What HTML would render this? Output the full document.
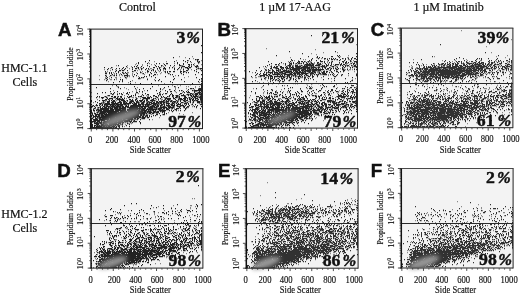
<!DOCTYPE html>
<html><head><meta charset="utf-8"><title>Figure</title>
<style>html,body{margin:0;padding:0;background:#fff}body{width:520px;height:294px;overflow:hidden}svg{display:block;font-family:"Liberation Serif", serif;fill:#111;opacity:0.999}</style></head><body>
<svg width="520" height="294" viewBox="0 0 520 294">
<defs><filter id="soft" x="-2%" y="-2%" width="104%" height="104%"><feGaussianBlur stdDeviation="0.5"/></filter><filter id="coreblur" x="-30%" y="-80%" width="160%" height="260%"><feGaussianBlur stdDeviation="1.9"/></filter></defs>
<rect width="520" height="294" fill="#fff"/>
<text transform="translate(137.4 11) scale(0.94 1)" font-size="12.8" stroke="#111" stroke-width="0.2" text-anchor="middle">Control</text>
<text transform="translate(295 11) scale(0.94 1)" font-size="12.8" stroke="#111" stroke-width="0.2" text-anchor="middle">1 µM 17-AAG</text>
<text transform="translate(448.6 11) scale(0.94 1)" font-size="12.8" stroke="#111" stroke-width="0.2" text-anchor="middle">1 µM Imatinib</text>
<text transform="translate(24.4 71.7) scale(0.97 1)" font-size="12.4" stroke="#111" stroke-width="0.2" text-anchor="middle">HMC-1.1</text>
<text transform="translate(24.8 85.7) scale(0.97 1)" font-size="12.4" stroke="#111" stroke-width="0.2" text-anchor="middle">Cells</text>
<text transform="translate(24.4 217.5) scale(0.97 1)" font-size="12.4" stroke="#111" stroke-width="0.2" text-anchor="middle">HMC-1.2</text>
<text transform="translate(24.8 231.5) scale(0.97 1)" font-size="12.4" stroke="#111" stroke-width="0.2" text-anchor="middle">Cells</text>
<g>
<rect x="90" y="29.1" width="112.5" height="99.5" fill="#f3f3f3"/>
<g filter="url(#soft)" fill="none" stroke="#000" stroke-width="1.25"><path d="M201 45.5h1M201 52.5h1M173 57.5h1M189 58.5h1M195 59.5h1M197 59.5h2M149 60.5h1M183 60.5h1M187 60.5h1M197 60.5h1M145 61.5h1M174 61.5h1M185 61.5h1M190 61.5h1M197 61.5h1M199 61.5h1M138 62.5h1M177 62.5h1M187 62.5h1M198 62.5h1M138 63.5h1M147 63.5h1M156 63.5h1M159 63.5h1M166 63.5h2M177 63.5h1M183 63.5h1M164 64.5h1M179 64.5h1M183 64.5h1M188 64.5h2M191 64.5h1M193 64.5h1M118 65.5h1M137 65.5h1M147 65.5h1M155 65.5h1M161 65.5h1M165 65.5h1M170 65.5h1M174 65.5h1M179 65.5h2M189 65.5h1M197 65.5h1M126 66.5h1M134 66.5h1M136 66.5h1M141 66.5h1M149 66.5h1M156 66.5h1M158 66.5h1M182 66.5h3M188 66.5h1M191 66.5h1M195 66.5h3M104 67.5h1M111 67.5h1M123 67.5h1M132 67.5h1M138 67.5h1M143 67.5h1M153 67.5h2M159 67.5h1M164 67.5h1M169 67.5h1M172 67.5h1M179 67.5h1M181 67.5h1M185 67.5h3M189 67.5h2M196 67.5h1M108 68.5h1M116 68.5h1M119 68.5h1M122 68.5h1M125 68.5h1M135 68.5h2M138 68.5h1M141 68.5h1M146 68.5h1M148 68.5h1M157 68.5h1M159 68.5h1M163 68.5h3M174 68.5h1M178 68.5h1M187 68.5h2M198 68.5h1M200 68.5h2M107 69.5h1M112 69.5h1M124 69.5h1M132 69.5h1M141 69.5h1M145 69.5h1M153 69.5h1M160 69.5h1M165 69.5h1M174 69.5h1M177 69.5h1M183 69.5h1M188 69.5h1M196 69.5h1M116 70.5h1M119 70.5h2M122 70.5h2M127 70.5h1M134 70.5h2M147 70.5h1M151 70.5h1M153 70.5h1M160 70.5h1M186 70.5h2M194 70.5h1M201 70.5h1M105 71.5h1M115 71.5h1M118 71.5h1M132 71.5h1M147 71.5h2M155 71.5h1M165 71.5h1M167 71.5h1M169 71.5h2M173 71.5h2M180 71.5h2M183 71.5h2M196 71.5h1M109 72.5h1M111 72.5h1M118 72.5h1M122 72.5h1M125 72.5h1M140 72.5h1M150 72.5h1M156 72.5h1M165 72.5h1M167 72.5h1M180 72.5h1M183 72.5h1M186 72.5h1M188 72.5h1M198 72.5h1M105 73.5h2M109 73.5h1M111 73.5h1M116 73.5h1M123 73.5h1M126 73.5h1M137 73.5h1M143 73.5h1M151 73.5h1M168 73.5h1M181 73.5h1M112 74.5h1M121 74.5h1M127 74.5h1M134 74.5h1M149 74.5h1M154 74.5h2M170 74.5h1M172 74.5h1M183 74.5h1M195 74.5h1M201 74.5h1M105 75.5h1M110 75.5h1M114 75.5h1M116 75.5h1M124 75.5h4M136 75.5h1M149 75.5h1M153 75.5h1M178 75.5h1M106 76.5h1M127 76.5h1M133 76.5h1M144 76.5h1M146 76.5h1M151 76.5h1M165 76.5h1M173 76.5h1M107 77.5h1M111 77.5h1M125 77.5h1M139 77.5h1M141 77.5h1M143 77.5h1M155 77.5h1M196 77.5h1M106 78.5h1M138 78.5h2M174 78.5h1M201 78.5h1M107 79.5h1M114 79.5h1M120 79.5h1M122 79.5h1M147 79.5h1M159 79.5h1M173 79.5h1M181 79.5h1M199 79.5h1M106 80.5h1M122 80.5h1M155 80.5h1M158 80.5h1M119 81.5h1M122 81.5h1M130 81.5h1M161 81.5h1M170 81.5h1M184 81.5h1M198 81.5h1M201 81.5h1M113 82.5h1M172 82.5h1M130 83.5h1M140 83.5h1M151 83.5h1M192 83.5h1M201 83.5h1M177 84.5h1M190 84.5h1M116 85.5h1M201 85.5h1M134 86.5h1M152 86.5h1M168 86.5h1M174 86.5h1M201 86.5h1M96 87.5h1M118 87.5h1M164 87.5h1M178 87.5h1M201 87.5h1M110 88.5h1M120 88.5h1M135 88.5h1M143 88.5h1M150 88.5h1M160 88.5h1M190 88.5h2M193 88.5h1M199 88.5h3M139 89.5h1M160 89.5h1M169 89.5h1M188 89.5h1M198 89.5h4M147 90.5h1M156 90.5h1M165 90.5h1M174 90.5h1M179 90.5h1M181 90.5h1M192 90.5h1M194 90.5h8M110 91.5h1M117 91.5h1M139 91.5h1M142 91.5h1M160 91.5h1M167 91.5h1M170 91.5h2M183 91.5h1M186 91.5h1M188 91.5h1M194 91.5h1M199 91.5h1M201 91.5h1M102 92.5h1M105 92.5h1M114 92.5h1M127 92.5h1M129 92.5h1M136 92.5h2M159 92.5h1M184 92.5h1M187 92.5h3M194 92.5h1M198 92.5h3M97 93.5h1M111 93.5h1M113 93.5h1M119 93.5h1M121 93.5h1M126 93.5h2M145 93.5h1M157 93.5h1M165 93.5h2M171 93.5h1M180 93.5h2M190 93.5h2M195 93.5h3M199 93.5h1M201 93.5h1M112 94.5h1M117 94.5h1M122 94.5h1M128 94.5h1M135 94.5h1M142 94.5h1M147 94.5h2M159 94.5h2M162 94.5h1M170 94.5h1M172 94.5h1M179 94.5h1M183 94.5h1M187 94.5h2M190 94.5h1M192 94.5h1M195 94.5h3M199 94.5h3M108 95.5h2M131 95.5h1M133 95.5h1M135 95.5h1M143 95.5h1M153 95.5h2M158 95.5h1M169 95.5h1M172 95.5h2M176 95.5h2M181 95.5h4M188 95.5h1M190 95.5h2M193 95.5h1M195 95.5h2M201 95.5h1M97 96.5h1M99 96.5h1M105 96.5h1M111 96.5h2M114 96.5h2M118 96.5h1M120 96.5h2M127 96.5h1M129 96.5h3M138 96.5h1M140 96.5h2M150 96.5h1M155 96.5h2M161 96.5h1M163 96.5h1M167 96.5h1M169 96.5h1M172 96.5h1M176 96.5h2M179 96.5h1M184 96.5h2M191 96.5h1M193 96.5h5M200 96.5h2M96 97.5h1M101 97.5h3M106 97.5h1M114 97.5h2M117 97.5h1M121 97.5h1M128 97.5h2M142 97.5h4M147 97.5h3M151 97.5h1M157 97.5h1M161 97.5h1M164 97.5h1M166 97.5h1M173 97.5h1M175 97.5h2M179 97.5h1M184 97.5h3M189 97.5h1M192 97.5h1M194 97.5h2M199 97.5h3M102 98.5h1M107 98.5h1M109 98.5h4M116 98.5h2M119 98.5h1M122 98.5h1M124 98.5h1M136 98.5h1M143 98.5h7M153 98.5h1M155 98.5h1M160 98.5h1M165 98.5h6M173 98.5h2M179 98.5h3M183 98.5h3M187 98.5h1M189 98.5h1M191 98.5h1M193 98.5h1M195 98.5h3M200 98.5h2M105 99.5h2M108 99.5h1M112 99.5h1M117 99.5h7M129 99.5h2M132 99.5h1M135 99.5h2M142 99.5h1M146 99.5h2M152 99.5h2M158 99.5h1M165 99.5h1M167 99.5h3M175 99.5h1M178 99.5h1M180 99.5h3M184 99.5h2M189 99.5h2M192 99.5h2M195 99.5h1M198 99.5h1M200 99.5h2M91 100.5h1M99 100.5h1M102 100.5h3M109 100.5h1M111 100.5h1M113 100.5h2M119 100.5h1M121 100.5h4M127 100.5h1M131 100.5h2M135 100.5h1M137 100.5h1M139 100.5h4M144 100.5h1M146 100.5h2M150 100.5h5M163 100.5h2M166 100.5h1M168 100.5h1M171 100.5h1M176 100.5h1M180 100.5h1M183 100.5h2M186 100.5h2M190 100.5h1M192 100.5h1M194 100.5h1M196 100.5h2M201 100.5h1M91 101.5h1M95 101.5h1M103 101.5h1M107 101.5h3M112 101.5h3M119 101.5h2M123 101.5h3M130 101.5h4M136 101.5h2M140 101.5h2M143 101.5h2M148 101.5h1M152 101.5h1M156 101.5h2M159 101.5h5M166 101.5h3M170 101.5h2M173 101.5h3M177 101.5h1M180 101.5h1M184 101.5h2M190 101.5h1M193 101.5h1M197 101.5h3M201 101.5h1M97 102.5h1M103 102.5h1M107 102.5h2M111 102.5h3M115 102.5h1M118 102.5h4M123 102.5h2M126 102.5h1M129 102.5h3M134 102.5h1M136 102.5h3M142 102.5h2M147 102.5h1M149 102.5h3M153 102.5h2M156 102.5h3M160 102.5h2M163 102.5h2M166 102.5h1M172 102.5h1M174 102.5h1M177 102.5h1M181 102.5h2M187 102.5h1M190 102.5h1M193 102.5h1M197 102.5h3M201 102.5h1M99 103.5h3M105 103.5h5M112 103.5h6M120 103.5h2M123 103.5h8M132 103.5h1M134 103.5h3M138 103.5h1M141 103.5h3M146 103.5h2M149 103.5h1M151 103.5h6M158 103.5h1M160 103.5h2M163 103.5h1M166 103.5h4M172 103.5h2M176 103.5h1M178 103.5h1M180 103.5h1M184 103.5h3M188 103.5h1M91 104.5h1M96 104.5h1M100 104.5h1M102 104.5h1M104 104.5h11M116 104.5h7M124 104.5h2M128 104.5h1M133 104.5h4M138 104.5h3M142 104.5h2M145 104.5h6M153 104.5h3M157 104.5h1M161 104.5h2M164 104.5h1M168 104.5h1M171 104.5h2M174 104.5h1M177 104.5h4M186 104.5h1M188 104.5h1M192 104.5h1M195 104.5h1M200 104.5h2M93 105.5h1M96 105.5h2M99 105.5h1M102 105.5h1M104 105.5h1M106 105.5h2M110 105.5h1M112 105.5h2M115 105.5h1M117 105.5h2M120 105.5h3M126 105.5h1M128 105.5h1M131 105.5h10M143 105.5h1M145 105.5h1M147 105.5h2M152 105.5h2M155 105.5h1M157 105.5h2M160 105.5h2M164 105.5h1M166 105.5h4M171 105.5h4M176 105.5h2M180 105.5h4M185 105.5h1M189 105.5h1M197 105.5h1M91 106.5h2M94 106.5h1M100 106.5h1M103 106.5h2M106 106.5h4M111 106.5h4M116 106.5h5M122 106.5h2M125 106.5h4M130 106.5h19M150 106.5h5M156 106.5h3M160 106.5h1M163 106.5h2M168 106.5h3M173 106.5h1M177 106.5h4M183 106.5h2M187 106.5h2M194 106.5h1M196 106.5h1M201 106.5h1M91 107.5h1M95 107.5h1M98 107.5h1M100 107.5h1M102 107.5h1M104 107.5h3M108 107.5h1M110 107.5h1M112 107.5h1M114 107.5h4M119 107.5h2M122 107.5h4M127 107.5h11M139 107.5h1M141 107.5h2M144 107.5h2M148 107.5h5M154 107.5h3M160 107.5h7M168 107.5h6M179 107.5h1M184 107.5h1M186 107.5h1M196 107.5h1M94 108.5h1M100 108.5h9M110 108.5h3M114 108.5h4M119 108.5h7M129 108.5h12M142 108.5h4M147 108.5h1M149 108.5h4M156 108.5h1M158 108.5h4M163 108.5h2M166 108.5h2M169 108.5h1M172 108.5h1M176 108.5h3M180 108.5h1M185 108.5h1M200 108.5h1M93 109.5h1M97 109.5h2M100 109.5h9M110 109.5h4M115 109.5h6M122 109.5h4M127 109.5h11M139 109.5h1M141 109.5h4M146 109.5h11M158 109.5h3M162 109.5h1M166 109.5h3M175 109.5h2M185 109.5h1M91 110.5h1M93 110.5h2M96 110.5h1M98 110.5h4M103 110.5h11M115 110.5h11M127 110.5h10M138 110.5h2M141 110.5h6M148 110.5h1M150 110.5h1M152 110.5h2M155 110.5h1M159 110.5h7M169 110.5h1M171 110.5h1M173 110.5h1M176 110.5h1M180 110.5h1M184 110.5h1M91 111.5h1M98 111.5h1M100 111.5h19M120 111.5h7M128 111.5h15M144 111.5h2M147 111.5h4M153 111.5h3M157 111.5h2M160 111.5h1M162 111.5h3M172 111.5h1M91 112.5h1M97 112.5h1M100 112.5h6M107 112.5h10M118 112.5h28M147 112.5h1M149 112.5h3M153 112.5h2M156 112.5h3M162 112.5h1M164 112.5h1M92 113.5h1M94 113.5h2M99 113.5h6M106 113.5h1M108 113.5h17M126 113.5h19M146 113.5h1M149 113.5h2M152 113.5h2M159 113.5h1M164 113.5h1M166 113.5h1M92 114.5h1M95 114.5h5M101 114.5h2M104 114.5h35M140 114.5h2M143 114.5h2M156 114.5h2M163 114.5h2M91 115.5h1M93 115.5h1M95 115.5h2M98 115.5h2M101 115.5h3M105 115.5h34M140 115.5h2M143 115.5h1M146 115.5h2M149 115.5h1M153 115.5h1M155 115.5h1M160 115.5h1M91 116.5h1M93 116.5h7M101 116.5h40M142 116.5h2M145 116.5h1M147 116.5h1M149 116.5h1M151 116.5h1M93 117.5h1M95 117.5h1M97 117.5h1M99 117.5h16M116 117.5h6M123 117.5h15M139 117.5h2M142 117.5h3M147 117.5h2M91 118.5h2M95 118.5h2M99 118.5h2M102 118.5h7M110 118.5h12M123 118.5h10M134 118.5h2M137 118.5h2M142 118.5h3M91 119.5h1M93 119.5h5M99 119.5h10M110 119.5h12M123 119.5h2M128 119.5h5M137 119.5h1M140 119.5h1M149 119.5h1M91 120.5h1M94 120.5h6M101 120.5h4M107 120.5h1M109 120.5h21M131 120.5h1M134 120.5h1M91 121.5h5M97 121.5h3M101 121.5h1M104 121.5h13M118 121.5h5M124 121.5h4M129 121.5h3M133 121.5h4M139 121.5h1M91 122.5h1M94 122.5h1M96 122.5h2M99 122.5h3M103 122.5h10M114 122.5h7M122 122.5h2M130 122.5h1M132 122.5h1M140 122.5h1M91 123.5h1M94 123.5h5M100 123.5h2M103 123.5h4M109 123.5h8M118 123.5h3M122 123.5h1M127 123.5h1M140 123.5h1M91 124.5h2M96 124.5h3M101 124.5h3M105 124.5h3M109 124.5h10M122 124.5h1M129 124.5h1M91 125.5h2M94 125.5h2M97 125.5h1M99 125.5h1M101 125.5h11M113 125.5h1M115 125.5h1M118 125.5h2M126 125.5h1M91 126.5h2M94 126.5h1M96 126.5h6M103 126.5h2M106 126.5h1M108 126.5h2M112 126.5h3M116 126.5h1M118 126.5h2M122 126.5h1M129 126.5h1M91 127.5h21M113 127.5h1M115 127.5h2M119 127.5h1" opacity="0.86"/><path d="M179 56.5h1M192 56.5h1M185 57.5h1M193 58.5h1M196 59.5h1M176 60.5h1M188 60.5h1M201 60.5h1M154 61.5h1M166 61.5h1M198 61.5h1M148 62.5h1M191 62.5h1M199 62.5h1M136 63.5h1M149 63.5h1M163 63.5h1M174 63.5h1M194 63.5h1M198 63.5h1M135 64.5h1M142 64.5h1M151 64.5h1M154 64.5h1M201 64.5h1M116 65.5h1M127 65.5h1M142 65.5h1M162 65.5h1M181 65.5h2M191 65.5h1M194 65.5h1M196 65.5h1M131 66.5h1M161 66.5h1M163 66.5h1M173 66.5h1M181 66.5h1M189 66.5h1M198 66.5h1M112 67.5h1M127 67.5h1M137 67.5h1M140 67.5h1M160 67.5h1M174 67.5h1M198 67.5h1M110 68.5h1M129 68.5h1M132 68.5h1M142 68.5h1M150 68.5h2M169 68.5h1M181 68.5h1M183 68.5h1M197 68.5h1M199 68.5h1M104 69.5h1M115 69.5h1M121 69.5h1M139 69.5h1M148 69.5h2M152 69.5h1M157 69.5h1M163 69.5h1M180 69.5h1M191 69.5h1M200 69.5h1M110 70.5h1M137 70.5h1M155 70.5h1M158 70.5h1M163 70.5h1M180 70.5h1M183 70.5h1M107 71.5h1M133 71.5h1M140 71.5h1M142 71.5h1M159 71.5h1M164 71.5h1M185 71.5h1M105 72.5h2M113 72.5h1M123 72.5h1M127 72.5h2M136 72.5h1M141 72.5h1M145 72.5h1M147 72.5h1M154 72.5h1M161 72.5h1M114 73.5h1M120 73.5h1M124 73.5h1M127 73.5h1M132 73.5h1M142 73.5h1M160 73.5h1M169 73.5h1M114 74.5h1M116 74.5h1M119 74.5h1M132 74.5h1M144 74.5h1M157 74.5h1M99 75.5h1M106 75.5h1M111 75.5h1M113 75.5h1M119 75.5h1M122 75.5h1M128 75.5h2M132 75.5h1M175 75.5h1M109 76.5h1M124 76.5h1M129 76.5h1M138 76.5h1M188 76.5h1M105 77.5h1M115 77.5h2M120 77.5h1M126 77.5h1M142 77.5h1M184 77.5h1M105 78.5h1M109 78.5h1M116 78.5h1M126 78.5h1M140 78.5h1M147 78.5h1M99 79.5h1M104 79.5h1M110 79.5h2M116 79.5h1M154 79.5h1M201 79.5h1M132 80.5h1M201 80.5h1M108 81.5h1M128 82.5h1M135 82.5h1M199 82.5h1M164 83.5h1M200 84.5h2M112 85.5h1M158 85.5h1M172 85.5h1M180 85.5h1M117 86.5h2M175 86.5h1M186 86.5h1M188 86.5h1M195 86.5h1M199 86.5h1M124 87.5h1M137 87.5h1M175 87.5h1M195 87.5h1M126 88.5h1M163 88.5h1M175 88.5h1M186 88.5h1M192 88.5h1M198 88.5h1M128 89.5h1M136 89.5h1M162 89.5h1M170 89.5h1M175 89.5h1M194 89.5h1M113 90.5h1M136 90.5h1M144 90.5h1M182 90.5h1M187 90.5h1M193 90.5h1M132 91.5h1M136 91.5h1M175 91.5h1M195 91.5h2M91 92.5h1M123 92.5h1M142 92.5h1M167 92.5h1M176 92.5h1M182 92.5h1M197 92.5h1M201 92.5h1M110 93.5h1M117 93.5h1M135 93.5h1M138 93.5h1M159 93.5h2M163 93.5h1M192 93.5h2M198 93.5h1M200 93.5h1M113 94.5h1M121 94.5h1M186 94.5h1M189 94.5h1M193 94.5h2M107 95.5h1M124 95.5h1M141 95.5h1M146 95.5h1M148 95.5h1M160 95.5h1M175 95.5h1M178 95.5h1M185 95.5h1M198 95.5h1M200 95.5h1M91 96.5h1M104 96.5h1M106 96.5h1M117 96.5h1M139 96.5h1M147 96.5h2M153 96.5h1M158 96.5h1M168 96.5h1M173 96.5h1M178 96.5h1M192 96.5h1M198 96.5h2M99 97.5h1M107 97.5h1M113 97.5h1M120 97.5h1M124 97.5h1M132 97.5h2M135 97.5h2M156 97.5h1M162 97.5h1M165 97.5h1M177 97.5h2M188 97.5h1M190 97.5h1M197 97.5h2M118 98.5h1M120 98.5h1M126 98.5h1M137 98.5h1M140 98.5h1M154 98.5h1M158 98.5h1M178 98.5h1M190 98.5h1M97 99.5h1M109 99.5h1M115 99.5h1M143 99.5h1M151 99.5h1M156 99.5h1M161 99.5h2M164 99.5h1M170 99.5h1M179 99.5h1M187 99.5h1M197 99.5h1M105 100.5h2M116 100.5h1M126 100.5h1M130 100.5h1M133 100.5h1M155 100.5h1M158 100.5h1M161 100.5h1M169 100.5h2M172 100.5h1M177 100.5h2M185 100.5h1M193 100.5h1M195 100.5h1M200 100.5h1M105 101.5h1M115 101.5h1M127 101.5h1M129 101.5h1M138 101.5h1M146 101.5h2M149 101.5h1M151 101.5h1M154 101.5h1M164 101.5h2M172 101.5h1M178 101.5h1M188 101.5h2M200 101.5h1M93 102.5h1M101 102.5h2M104 102.5h1M109 102.5h1M117 102.5h1M125 102.5h1M133 102.5h1M139 102.5h1M141 102.5h1M144 102.5h1M146 102.5h1M148 102.5h1M159 102.5h1M162 102.5h1M165 102.5h1M167 102.5h2M173 102.5h1M175 102.5h2M183 102.5h1M185 102.5h2M192 102.5h1M200 102.5h1M102 103.5h3M111 103.5h1M118 103.5h1M133 103.5h1M139 103.5h1M148 103.5h1M157 103.5h1M159 103.5h1M164 103.5h1M171 103.5h1M174 103.5h1M192 103.5h1M199 103.5h1M201 103.5h1M99 104.5h1M115 104.5h1M123 104.5h1M126 104.5h2M141 104.5h1M144 104.5h1M151 104.5h1M156 104.5h1M158 104.5h2M163 104.5h1M166 104.5h1M170 104.5h1M182 104.5h1M184 104.5h1M191 104.5h1M92 105.5h1M95 105.5h1M101 105.5h1M105 105.5h1M111 105.5h1M114 105.5h1M116 105.5h1M119 105.5h1M125 105.5h1M130 105.5h1M142 105.5h1M146 105.5h1M149 105.5h1M151 105.5h1M154 105.5h1M156 105.5h1M162 105.5h1M193 105.5h1M105 106.5h1M110 106.5h1M115 106.5h1M121 106.5h1M149 106.5h1M161 106.5h2M165 106.5h1M167 106.5h1M172 106.5h1M174 106.5h1M192 106.5h1M97 107.5h1M99 107.5h1M109 107.5h1M111 107.5h1M113 107.5h1M118 107.5h1M121 107.5h1M140 107.5h1M153 107.5h1M157 107.5h1M159 107.5h1M174 107.5h1M183 107.5h1M187 107.5h2M93 108.5h1M95 108.5h1M97 108.5h2M109 108.5h1M118 108.5h1M141 108.5h1M148 108.5h1M153 108.5h3M157 108.5h1M168 108.5h1M171 108.5h1M174 108.5h1M186 108.5h1M91 109.5h1M96 109.5h1M99 109.5h1M114 109.5h1M121 109.5h1M138 109.5h1M140 109.5h1M157 109.5h1M161 109.5h1M163 109.5h2M171 109.5h1M174 109.5h1M97 110.5h1M137 110.5h1M140 110.5h1M149 110.5h1M151 110.5h1M178 110.5h1M94 111.5h1M97 111.5h1M99 111.5h1M143 111.5h1M146 111.5h1M151 111.5h1M156 111.5h1M161 111.5h1M92 112.5h1M94 112.5h1M96 112.5h1M98 112.5h2M106 112.5h1M117 112.5h1M146 112.5h1M148 112.5h1M152 112.5h1M155 112.5h1M168 112.5h1M192 112.5h1M91 113.5h1M97 113.5h1M105 113.5h1M125 113.5h1M145 113.5h1M148 113.5h1M156 113.5h2M179 113.5h1M100 114.5h1M103 114.5h1M142 114.5h1M146 114.5h2M151 114.5h1M162 114.5h1M183 114.5h1M92 115.5h1M100 115.5h1M104 115.5h1M142 115.5h1M144 115.5h2M100 116.5h1M146 116.5h1M92 117.5h1M98 117.5h1M115 117.5h1M122 117.5h1M138 117.5h1M141 117.5h1M145 117.5h1M159 117.5h1M97 118.5h2M101 118.5h1M109 118.5h1M122 118.5h1M141 118.5h1M109 119.5h1M125 119.5h1M127 119.5h1M133 119.5h4M152 119.5h1M93 120.5h1M100 120.5h1M108 120.5h1M133 120.5h1M103 121.5h1M128 121.5h1M92 122.5h1M95 122.5h1M98 122.5h1M102 122.5h1M113 122.5h1M121 122.5h1M125 122.5h1M127 122.5h1M99 123.5h1M102 123.5h1M128 123.5h2M131 123.5h1M104 124.5h1M120 124.5h2M125 124.5h1M96 125.5h1M98 125.5h1M100 125.5h1M112 125.5h1M114 125.5h1M117 125.5h1M122 125.5h1M102 126.5h1M105 126.5h1M107 126.5h1M110 126.5h2M124 126.5h1M112 127.5h1M114 127.5h1" opacity="0.47"/></g>
<ellipse cx="121" cy="118.1" rx="21" ry="4.8" transform="rotate(-21 121 118.1)" fill="#868686" filter="url(#coreblur)"/>
<line x1="90" x2="202.5" y1="84.5" y2="84.5" stroke="#2a2a2a" stroke-width="1"/>
<line x1="89.2" x2="203" y1="29.1" y2="29.1" stroke="#4a4a4a" stroke-width="1.2"/>
<line x1="202.5" x2="202.5" y1="29.1" y2="129.1" stroke="#222" stroke-width="1"/>
<line x1="89.2" x2="202.5" y1="128.6" y2="128.6" stroke="#222" stroke-width="1"/>
<line x1="90.7" x2="90.7" y1="29.1" y2="129.1" stroke="#111" stroke-width="1.5"/>
<path d="M90.2 128.6h-2.9M90.2 121.11h-1.2M90.2 116.73h-1.2M90.2 113.62h-1.2M90.2 111.21h-1.2M90.2 109.24h-1.2M90.2 107.58h-1.2M90.2 106.14h-1.2M90.2 104.86h-1.2M90.2 103.72h-2.9M90.2 96.24h-1.2M90.2 91.86h-1.2M90.2 88.75h-1.2M90.2 86.34h-1.2M90.2 84.37h-1.2M90.2 82.7h-1.2M90.2 81.26h-1.2M90.2 79.99h-1.2M90.2 78.85h-2.9M90.2 71.36h-1.2M90.2 66.98h-1.2M90.2 63.87h-1.2M90.2 61.46h-1.2M90.2 59.49h-1.2M90.2 57.83h-1.2M90.2 56.39h-1.2M90.2 55.11h-1.2M90.2 53.97h-2.9M90.2 46.49h-1.2M90.2 42.11h-1.2M90.2 39h-1.2M90.2 36.59h-1.2M90.2 34.62h-1.2M90.2 32.95h-1.2M90.2 31.51h-1.2M90.2 30.24h-1.2M90.2 29.1h-2.9" stroke="#222" stroke-width="0.8" fill="none"/>
<path d="M91.25 128.9v2.6M96.66 128.9v1.3M102.06 128.9v1.3M107.47 128.9v1.3M112.88 128.9v2.6M118.29 128.9v1.3M123.69 128.9v1.3M129.1 128.9v1.3M134.51 128.9v2.6M139.92 128.9v1.3M145.32 128.9v1.3M150.73 128.9v1.3M156.14 128.9v2.6M161.55 128.9v1.3M166.95 128.9v1.3M172.36 128.9v1.3M177.77 128.9v2.6M183.18 128.9v1.3M188.58 128.9v1.3M193.99 128.9v1.3M199.4 128.9v2.6" stroke="#222" stroke-width="0.8" fill="none"/>
<text transform="translate(90.2 142.5) scale(0.9 1)" font-size="9.6" stroke="#111" stroke-width="0.15" text-anchor="middle">0</text>
<text transform="translate(111.95 142.5) scale(0.9 1)" font-size="9.6" stroke="#111" stroke-width="0.15" text-anchor="middle">200</text>
<text transform="translate(133.95 142.5) scale(0.9 1)" font-size="9.6" stroke="#111" stroke-width="0.15" text-anchor="middle">400</text>
<text transform="translate(154.9 142.5) scale(0.9 1)" font-size="9.6" stroke="#111" stroke-width="0.15" text-anchor="middle">600</text>
<text transform="translate(176.7 142.5) scale(0.9 1)" font-size="9.6" stroke="#111" stroke-width="0.15" text-anchor="middle">800</text>
<text transform="translate(200.85 142.5) scale(0.9 1)" font-size="9.6" stroke="#111" stroke-width="0.15" text-anchor="middle">1000</text>
<text transform="translate(150.3 152.8) scale(0.92 1)" font-size="9.3" stroke="#111" stroke-width="0.15" text-anchor="middle">Side Scatter</text>
<text transform="translate(83 130.1) rotate(-90) scale(1.03 1)" font-size="8.4" stroke="#111" stroke-width="0.15">10<tspan dy="-2.6" font-size="5.6">0</tspan></text>
<text transform="translate(83 108.4) rotate(-90) scale(1.03 1)" font-size="8.4" stroke="#111" stroke-width="0.15">10<tspan dy="-2.6" font-size="5.6">1</tspan></text>
<text transform="translate(83 85.4) rotate(-90) scale(1.03 1)" font-size="8.4" stroke="#111" stroke-width="0.15">10<tspan dy="-2.6" font-size="5.6">2</tspan></text>
<text transform="translate(83 60.5) rotate(-90) scale(1.03 1)" font-size="8.4" stroke="#111" stroke-width="0.15">10<tspan dy="-2.6" font-size="5.6">3</tspan></text>
<text transform="translate(83 36.35) rotate(-90) scale(1.03 1)" font-size="8.4" stroke="#111" stroke-width="0.15">10<tspan dy="-2.6" font-size="5.6">4</tspan></text>
<text transform="translate(72.6 74) rotate(-90) scale(0.95 1)" font-size="8" stroke="#111" stroke-width="0.15" text-anchor="middle">Propidium Iodide</text>
<text x="57.9" y="36.1" font-family='"Liberation Sans", sans-serif' font-weight="bold" font-size="18.7" stroke="#111" stroke-width="0.5">A</text>
<text transform="translate(200 43) scale(0.98 1)" font-weight="bold" font-style="italic" font-size="16.8" stroke="#111" stroke-width="0.45" stroke-linejoin="round" text-anchor="end">%</text><text transform="translate(185.4 43) scale(1.02 1)" font-weight="bold" font-size="17.4" stroke="#111" stroke-width="0.45" stroke-linejoin="round" text-anchor="end">3</text>
<text transform="translate(201.1 127.1) scale(0.98 1)" font-weight="bold" font-style="italic" font-size="16.8" stroke="#111" stroke-width="0.45" stroke-linejoin="round" text-anchor="end">%</text><text transform="translate(185.9 127.1) scale(1.02 1)" font-weight="bold" font-size="17.4" stroke="#111" stroke-width="0.45" stroke-linejoin="round" text-anchor="end">97</text>
</g>
<g>
<rect x="245" y="28.6" width="112.5" height="99.5" fill="#f3f3f3"/>
<g filter="url(#soft)" fill="none" stroke="#000" stroke-width="1.25"><path d="M311 35.5h1M322 35.5h1M289 51.5h1M335 51.5h1M302 53.5h1M356 53.5h1M276 55.5h1M337 55.5h1M339 55.5h1M308 56.5h1M317 56.5h1M331 56.5h2M338 56.5h1M356 56.5h1M317 57.5h1M319 57.5h1M322 57.5h1M339 57.5h1M352 57.5h1M300 58.5h1M312 58.5h1M318 58.5h1M324 58.5h2M329 58.5h1M331 58.5h1M333 58.5h1M335 58.5h1M342 58.5h1M345 58.5h1M348 58.5h1M351 58.5h1M354 58.5h2M291 59.5h1M311 59.5h1M327 59.5h1M331 59.5h2M334 59.5h1M337 59.5h1M340 59.5h1M345 59.5h1M351 59.5h1M356 59.5h1M292 60.5h1M309 60.5h1M311 60.5h1M316 60.5h1M320 60.5h1M328 60.5h1M339 60.5h1M344 60.5h1M350 60.5h1M268 61.5h1M290 61.5h1M298 61.5h2M301 61.5h2M304 61.5h1M308 61.5h1M320 61.5h3M324 61.5h1M332 61.5h1M342 61.5h2M346 61.5h1M350 61.5h1M354 61.5h3M281 62.5h1M289 62.5h1M293 62.5h1M297 62.5h1M299 62.5h1M303 62.5h1M306 62.5h1M311 62.5h1M317 62.5h2M324 62.5h1M329 62.5h1M331 62.5h1M339 62.5h1M343 62.5h1M345 62.5h2M348 62.5h1M356 62.5h1M271 63.5h1M279 63.5h1M285 63.5h1M290 63.5h2M293 63.5h1M296 63.5h1M298 63.5h2M301 63.5h1M303 63.5h1M307 63.5h1M309 63.5h1M311 63.5h2M317 63.5h1M320 63.5h1M325 63.5h1M331 63.5h1M341 63.5h1M345 63.5h1M351 63.5h1M353 63.5h2M269 64.5h1M275 64.5h2M278 64.5h1M285 64.5h1M289 64.5h1M291 64.5h1M305 64.5h6M312 64.5h2M318 64.5h3M326 64.5h1M328 64.5h1M331 64.5h1M335 64.5h4M340 64.5h2M343 64.5h2M353 64.5h1M267 65.5h1M288 65.5h3M295 65.5h3M301 65.5h1M304 65.5h1M306 65.5h8M315 65.5h5M322 65.5h1M324 65.5h1M326 65.5h2M330 65.5h1M335 65.5h1M340 65.5h1M342 65.5h1M345 65.5h1M347 65.5h2M351 65.5h1M354 65.5h2M265 66.5h1M271 66.5h1M274 66.5h1M276 66.5h2M280 66.5h2M286 66.5h1M289 66.5h2M292 66.5h1M295 66.5h6M303 66.5h5M311 66.5h1M313 66.5h1M321 66.5h4M326 66.5h1M332 66.5h2M343 66.5h1M345 66.5h1M354 66.5h3M259 67.5h1M271 67.5h1M273 67.5h4M280 67.5h4M285 67.5h1M287 67.5h1M289 67.5h1M291 67.5h3M296 67.5h4M301 67.5h9M311 67.5h5M318 67.5h2M322 67.5h1M324 67.5h2M329 67.5h1M337 67.5h1M342 67.5h1M344 67.5h1M350 67.5h1M352 67.5h1M356 67.5h1M270 68.5h2M276 68.5h3M281 68.5h1M283 68.5h1M286 68.5h3M290 68.5h1M292 68.5h10M303 68.5h3M307 68.5h3M311 68.5h1M313 68.5h1M316 68.5h1M318 68.5h1M322 68.5h1M325 68.5h1M327 68.5h2M331 68.5h1M333 68.5h1M335 68.5h1M338 68.5h1M342 68.5h1M265 69.5h1M268 69.5h1M272 69.5h1M278 69.5h1M280 69.5h1M282 69.5h1M286 69.5h1M290 69.5h10M302 69.5h4M307 69.5h1M309 69.5h2M312 69.5h12M326 69.5h1M330 69.5h1M336 69.5h2M342 69.5h2M347 69.5h1M354 69.5h1M356 69.5h1M256 70.5h1M261 70.5h1M266 70.5h1M269 70.5h1M272 70.5h2M276 70.5h3M280 70.5h1M283 70.5h4M288 70.5h1M293 70.5h4M298 70.5h2M301 70.5h3M305 70.5h6M312 70.5h5M318 70.5h3M330 70.5h1M334 70.5h1M343 70.5h2M249 71.5h1M260 71.5h1M268 71.5h1M272 71.5h1M274 71.5h1M278 71.5h1M281 71.5h4M286 71.5h6M293 71.5h1M295 71.5h3M299 71.5h2M302 71.5h1M304 71.5h2M307 71.5h4M312 71.5h3M323 71.5h2M326 71.5h2M331 71.5h1M336 71.5h2M340 71.5h1M343 71.5h1M255 72.5h1M264 72.5h1M266 72.5h1M268 72.5h5M274 72.5h4M279 72.5h4M285 72.5h5M291 72.5h2M294 72.5h1M296 72.5h8M305 72.5h1M309 72.5h1M311 72.5h2M314 72.5h2M319 72.5h1M322 72.5h3M326 72.5h1M329 72.5h1M332 72.5h1M338 72.5h1M257 73.5h1M260 73.5h1M263 73.5h1M266 73.5h1M270 73.5h1M272 73.5h1M274 73.5h1M277 73.5h2M282 73.5h4M290 73.5h2M293 73.5h3M297 73.5h3M301 73.5h7M310 73.5h4M319 73.5h2M322 73.5h4M333 73.5h1M348 73.5h1M256 74.5h1M259 74.5h1M263 74.5h4M268 74.5h2M273 74.5h7M281 74.5h1M284 74.5h9M294 74.5h2M297 74.5h1M299 74.5h2M302 74.5h1M305 74.5h2M310 74.5h1M314 74.5h1M316 74.5h1M318 74.5h1M323 74.5h4M330 74.5h1M332 74.5h1M337 74.5h1M342 74.5h1M356 74.5h1M255 75.5h1M260 75.5h5M266 75.5h2M269 75.5h3M277 75.5h1M280 75.5h1M282 75.5h1M284 75.5h1M287 75.5h3M293 75.5h1M295 75.5h1M299 75.5h1M301 75.5h1M304 75.5h1M306 75.5h2M310 75.5h1M312 75.5h1M317 75.5h1M333 75.5h1M336 75.5h1M341 75.5h1M356 75.5h1M251 76.5h1M260 76.5h1M264 76.5h1M268 76.5h1M270 76.5h3M274 76.5h10M287 76.5h1M289 76.5h1M291 76.5h1M295 76.5h1M298 76.5h3M302 76.5h1M308 76.5h2M312 76.5h2M317 76.5h1M323 76.5h1M334 76.5h2M265 77.5h1M268 77.5h1M270 77.5h1M272 77.5h1M274 77.5h1M281 77.5h1M283 77.5h2M287 77.5h1M289 77.5h2M298 77.5h1M304 77.5h2M312 77.5h1M352 77.5h1M264 78.5h1M268 78.5h1M270 78.5h3M274 78.5h1M278 78.5h1M281 78.5h2M286 78.5h1M290 78.5h1M293 78.5h1M298 78.5h2M304 78.5h1M308 78.5h1M310 78.5h1M328 78.5h1M334 78.5h1M345 78.5h1M261 79.5h1M270 79.5h1M273 79.5h1M276 79.5h1M279 79.5h1M282 79.5h1M284 79.5h1M290 79.5h1M293 79.5h1M295 79.5h1M304 79.5h1M306 79.5h1M313 79.5h1M323 79.5h1M255 80.5h1M272 80.5h1M275 80.5h1M278 80.5h1M280 80.5h1M284 80.5h1M289 80.5h1M296 80.5h1M334 80.5h1M352 80.5h1M252 81.5h1M270 81.5h1M279 81.5h1M282 81.5h2M295 81.5h1M297 81.5h1M301 81.5h1M350 81.5h1M273 82.5h1M345 82.5h1M347 82.5h1M272 83.5h1M278 83.5h1M295 83.5h1M297 83.5h1M306 83.5h2M336 83.5h1M348 83.5h1M351 83.5h1M356 83.5h1M268 84.5h1M322 84.5h1M263 85.5h1M282 85.5h1M287 85.5h1M323 85.5h1M334 85.5h1M351 85.5h3M309 86.5h1M324 86.5h1M326 86.5h1M333 86.5h2M345 86.5h1M290 87.5h1M292 87.5h1M306 87.5h1M310 87.5h1M322 87.5h1M347 87.5h1M350 87.5h2M354 87.5h1M256 88.5h1M284 88.5h1M288 88.5h1M300 88.5h1M309 88.5h3M321 88.5h1M336 88.5h1M342 88.5h1M344 88.5h1M356 88.5h1M263 89.5h1M271 89.5h1M316 89.5h1M331 89.5h2M347 89.5h1M352 89.5h1M355 89.5h1M267 90.5h1M272 90.5h1M288 90.5h1M290 90.5h1M301 90.5h1M308 90.5h1M313 90.5h1M319 90.5h2M328 90.5h1M331 90.5h2M335 90.5h1M343 90.5h1M347 90.5h1M349 90.5h1M353 90.5h1M356 90.5h1M251 91.5h1M275 91.5h1M280 91.5h1M289 91.5h1M297 91.5h1M301 91.5h2M307 91.5h1M311 91.5h1M318 91.5h1M327 91.5h1M330 91.5h1M336 91.5h2M342 91.5h1M345 91.5h1M347 91.5h1M351 91.5h3M356 91.5h1M255 92.5h1M267 92.5h1M270 92.5h2M275 92.5h1M277 92.5h1M282 92.5h1M289 92.5h1M295 92.5h1M298 92.5h1M309 92.5h1M314 92.5h1M323 92.5h2M328 92.5h1M333 92.5h1M343 92.5h1M348 92.5h1M352 92.5h1M354 92.5h1M356 92.5h1M255 93.5h1M267 93.5h1M269 93.5h1M271 93.5h1M273 93.5h1M290 93.5h1M296 93.5h1M299 93.5h1M312 93.5h1M329 93.5h1M341 93.5h2M344 93.5h1M347 93.5h1M352 93.5h1M356 93.5h1M274 94.5h3M280 94.5h1M285 94.5h1M290 94.5h1M292 94.5h1M294 94.5h1M296 94.5h1M301 94.5h1M308 94.5h1M321 94.5h1M324 94.5h1M328 94.5h2M338 94.5h1M343 94.5h3M347 94.5h1M354 94.5h1M356 94.5h1M260 95.5h1M269 95.5h1M279 95.5h1M282 95.5h1M290 95.5h1M296 95.5h1M298 95.5h1M305 95.5h1M309 95.5h1M312 95.5h2M315 95.5h1M320 95.5h2M330 95.5h1M338 95.5h4M343 95.5h1M346 95.5h1M348 95.5h1M351 95.5h1M356 95.5h1M256 96.5h3M261 96.5h1M264 96.5h1M266 96.5h1M268 96.5h2M271 96.5h1M274 96.5h1M276 96.5h2M286 96.5h1M289 96.5h1M297 96.5h1M299 96.5h1M305 96.5h2M315 96.5h2M318 96.5h2M337 96.5h9M347 96.5h1M350 96.5h1M353 96.5h1M355 96.5h2M259 97.5h2M262 97.5h1M265 97.5h5M272 97.5h1M282 97.5h3M288 97.5h1M293 97.5h1M299 97.5h1M301 97.5h3M306 97.5h1M316 97.5h1M319 97.5h1M322 97.5h1M324 97.5h1M326 97.5h1M329 97.5h2M338 97.5h1M341 97.5h4M350 97.5h3M354 97.5h1M356 97.5h1M256 98.5h1M259 98.5h1M261 98.5h2M266 98.5h2M269 98.5h2M273 98.5h1M285 98.5h3M290 98.5h1M295 98.5h1M298 98.5h1M300 98.5h1M303 98.5h2M307 98.5h1M315 98.5h1M319 98.5h1M322 98.5h1M326 98.5h1M329 98.5h2M332 98.5h2M338 98.5h2M346 98.5h1M348 98.5h3M352 98.5h1M354 98.5h1M356 98.5h1M252 99.5h1M256 99.5h1M259 99.5h1M268 99.5h2M272 99.5h1M274 99.5h2M278 99.5h1M287 99.5h2M295 99.5h1M297 99.5h1M299 99.5h3M303 99.5h2M310 99.5h1M312 99.5h3M322 99.5h4M335 99.5h1M337 99.5h1M340 99.5h2M347 99.5h1M352 99.5h1M356 99.5h1M256 100.5h1M258 100.5h2M262 100.5h3M268 100.5h1M270 100.5h2M277 100.5h1M279 100.5h1M282 100.5h1M286 100.5h3M292 100.5h1M297 100.5h2M300 100.5h1M304 100.5h3M308 100.5h2M311 100.5h1M315 100.5h1M317 100.5h1M320 100.5h2M327 100.5h5M335 100.5h1M342 100.5h1M347 100.5h1M356 100.5h1M254 101.5h1M257 101.5h2M260 101.5h1M262 101.5h3M266 101.5h1M269 101.5h3M274 101.5h3M281 101.5h3M285 101.5h3M289 101.5h1M296 101.5h1M301 101.5h3M308 101.5h2M312 101.5h1M314 101.5h3M318 101.5h1M327 101.5h4M332 101.5h3M339 101.5h2M342 101.5h1M344 101.5h2M349 101.5h2M352 101.5h5M247 102.5h1M255 102.5h2M260 102.5h3M264 102.5h1M267 102.5h2M270 102.5h1M272 102.5h1M274 102.5h6M285 102.5h2M288 102.5h1M292 102.5h2M295 102.5h2M298 102.5h3M302 102.5h1M304 102.5h1M306 102.5h3M311 102.5h1M316 102.5h2M319 102.5h1M322 102.5h3M330 102.5h1M332 102.5h3M336 102.5h1M338 102.5h2M344 102.5h1M346 102.5h1M353 102.5h2M356 102.5h1M250 103.5h1M260 103.5h1M262 103.5h3M266 103.5h1M270 103.5h4M275 103.5h7M283 103.5h1M285 103.5h2M289 103.5h3M293 103.5h2M299 103.5h6M306 103.5h1M308 103.5h1M311 103.5h2M315 103.5h2M319 103.5h1M321 103.5h2M324 103.5h2M333 103.5h4M341 103.5h4M355 103.5h2M250 104.5h1M254 104.5h3M258 104.5h1M260 104.5h2M263 104.5h3M267 104.5h2M270 104.5h2M273 104.5h8M282 104.5h2M286 104.5h1M288 104.5h2M292 104.5h3M297 104.5h1M301 104.5h1M303 104.5h2M307 104.5h4M312 104.5h3M316 104.5h2M321 104.5h2M324 104.5h3M328 104.5h3M334 104.5h1M336 104.5h5M342 104.5h2M346 104.5h3M351 104.5h2M356 104.5h1M249 105.5h1M255 105.5h4M260 105.5h1M264 105.5h1M266 105.5h2M270 105.5h1M272 105.5h3M277 105.5h3M281 105.5h1M287 105.5h6M294 105.5h3M303 105.5h1M305 105.5h4M311 105.5h1M313 105.5h1M317 105.5h2M322 105.5h2M325 105.5h2M332 105.5h1M334 105.5h1M336 105.5h3M344 105.5h2M348 105.5h1M350 105.5h1M354 105.5h3M251 106.5h3M255 106.5h1M259 106.5h4M264 106.5h5M270 106.5h3M275 106.5h1M277 106.5h3M282 106.5h1M284 106.5h1M286 106.5h1M288 106.5h1M290 106.5h1M292 106.5h2M296 106.5h1M300 106.5h13M315 106.5h1M318 106.5h2M321 106.5h1M325 106.5h2M331 106.5h2M335 106.5h1M338 106.5h1M342 106.5h4M350 106.5h1M352 106.5h2M356 106.5h1M249 107.5h2M252 107.5h1M256 107.5h3M261 107.5h1M263 107.5h2M266 107.5h8M275 107.5h5M281 107.5h3M286 107.5h4M292 107.5h8M302 107.5h6M309 107.5h1M311 107.5h1M316 107.5h1M319 107.5h4M326 107.5h5M332 107.5h3M336 107.5h3M341 107.5h1M343 107.5h1M345 107.5h2M349 107.5h1M351 107.5h1M354 107.5h1M255 108.5h3M261 108.5h1M264 108.5h1M266 108.5h2M269 108.5h1M272 108.5h7M281 108.5h1M283 108.5h1M285 108.5h2M288 108.5h2M291 108.5h13M305 108.5h4M311 108.5h1M313 108.5h1M318 108.5h1M320 108.5h2M323 108.5h1M325 108.5h1M327 108.5h1M334 108.5h4M340 108.5h1M346 108.5h1M349 108.5h1M250 109.5h1M252 109.5h7M261 109.5h1M263 109.5h1M265 109.5h1M268 109.5h16M285 109.5h2M288 109.5h2M291 109.5h7M299 109.5h2M302 109.5h2M306 109.5h1M308 109.5h1M310 109.5h2M313 109.5h2M317 109.5h3M322 109.5h1M324 109.5h2M327 109.5h1M329 109.5h1M331 109.5h1M338 109.5h1M340 109.5h1M346 109.5h2M350 109.5h1M356 109.5h1M249 110.5h1M251 110.5h2M254 110.5h2M257 110.5h1M259 110.5h2M262 110.5h4M268 110.5h6M275 110.5h12M288 110.5h8M297 110.5h4M302 110.5h8M312 110.5h8M321 110.5h1M324 110.5h1M326 110.5h1M330 110.5h1M332 110.5h1M335 110.5h1M338 110.5h1M343 110.5h1M345 110.5h1M351 110.5h1M252 111.5h1M254 111.5h3M258 111.5h2M261 111.5h2M264 111.5h2M267 111.5h3M271 111.5h1M273 111.5h1M275 111.5h5M282 111.5h2M285 111.5h2M288 111.5h2M291 111.5h17M310 111.5h2M313 111.5h2M319 111.5h3M324 111.5h2M330 111.5h1M336 111.5h1M339 111.5h1M344 111.5h1M356 111.5h1M248 112.5h1M253 112.5h5M259 112.5h6M266 112.5h6M275 112.5h3M279 112.5h2M282 112.5h13M297 112.5h12M310 112.5h2M313 112.5h4M320 112.5h2M323 112.5h2M328 112.5h2M332 112.5h2M344 112.5h1M346 112.5h1M348 112.5h1M248 113.5h1M250 113.5h1M253 113.5h2M256 113.5h2M259 113.5h1M261 113.5h6M269 113.5h1M271 113.5h1M273 113.5h1M275 113.5h1M277 113.5h3M281 113.5h2M285 113.5h2M288 113.5h9M299 113.5h13M315 113.5h4M324 113.5h4M329 113.5h1M343 113.5h1M351 113.5h1M250 114.5h1M252 114.5h3M257 114.5h1M259 114.5h3M263 114.5h8M272 114.5h3M276 114.5h1M278 114.5h25M304 114.5h7M312 114.5h1M317 114.5h2M321 114.5h1M332 114.5h1M334 114.5h1M252 115.5h4M259 115.5h8M268 115.5h1M271 115.5h1M273 115.5h2M276 115.5h3M280 115.5h6M288 115.5h10M299 115.5h1M301 115.5h6M309 115.5h1M311 115.5h1M321 115.5h1M325 115.5h1M328 115.5h1M250 116.5h1M254 116.5h4M259 116.5h1M264 116.5h2M267 116.5h3M272 116.5h4M277 116.5h2M281 116.5h19M301 116.5h4M306 116.5h2M310 116.5h1M314 116.5h1M251 117.5h2M255 117.5h1M257 117.5h2M260 117.5h4M265 117.5h4M270 117.5h7M279 117.5h18M298 117.5h5M305 117.5h2M309 117.5h1M327 117.5h1M254 118.5h2M258 118.5h3M263 118.5h7M271 118.5h2M274 118.5h1M278 118.5h2M281 118.5h2M284 118.5h2M287 118.5h8M296 118.5h2M299 118.5h2M304 118.5h1M306 118.5h2M309 118.5h1M312 118.5h1M249 119.5h2M253 119.5h3M259 119.5h4M266 119.5h1M268 119.5h1M271 119.5h1M273 119.5h1M275 119.5h2M278 119.5h3M282 119.5h8M291 119.5h3M295 119.5h3M301 119.5h2M312 119.5h1M252 120.5h1M254 120.5h2M257 120.5h1M259 120.5h2M262 120.5h1M265 120.5h3M269 120.5h6M277 120.5h9M288 120.5h6M295 120.5h1M297 120.5h2M302 120.5h2M305 120.5h1M311 120.5h1M246 121.5h1M258 121.5h2M264 121.5h1M266 121.5h2M269 121.5h11M281 121.5h6M291 121.5h2M296 121.5h1M301 121.5h1M251 122.5h1M255 122.5h1M259 122.5h3M265 122.5h7M273 122.5h2M276 122.5h2M279 122.5h3M284 122.5h8M293 122.5h2M298 122.5h1M304 122.5h1M249 123.5h2M252 123.5h2M258 123.5h2M261 123.5h3M265 123.5h1M267 123.5h1M269 123.5h1M272 123.5h4M277 123.5h2M280 123.5h2M286 123.5h1M289 123.5h1M292 123.5h1M297 123.5h1M308 123.5h1M252 124.5h1M256 124.5h3M260 124.5h19M281 124.5h1M283 124.5h1M285 124.5h1M287 124.5h2M293 124.5h1M250 125.5h1M253 125.5h6M260 125.5h1M262 125.5h3M266 125.5h1M268 125.5h5M276 125.5h1M279 125.5h1M282 125.5h1M285 125.5h1M287 125.5h1M289 125.5h1M294 125.5h1M251 126.5h3M258 126.5h1M260 126.5h1M263 126.5h1M266 126.5h6M281 126.5h1M246 127.5h1M248 127.5h27M276 127.5h1M278 127.5h1M283 127.5h1M289 127.5h2M293 127.5h1" opacity="0.84"/><path d="M343 34.5h1M356 44.5h1M266 48.5h1M315 49.5h1M323 52.5h1M337 52.5h1M311 53.5h1M316 54.5h1M348 55.5h1M340 56.5h1M290 57.5h1M316 57.5h1M347 57.5h2M321 58.5h1M327 58.5h1M343 58.5h1M303 59.5h1M305 59.5h1M324 59.5h1M336 59.5h1M348 59.5h2M291 60.5h1M294 60.5h1M298 60.5h1M353 60.5h1M288 61.5h1M305 61.5h1M307 61.5h1M309 61.5h2M327 61.5h1M331 61.5h1M351 61.5h1M291 62.5h1M298 62.5h1M308 62.5h1M310 62.5h1M314 62.5h1M327 62.5h1M352 62.5h1M354 62.5h1M283 63.5h1M289 63.5h1M295 63.5h1M300 63.5h1M306 63.5h1M310 63.5h1M313 63.5h2M318 63.5h2M322 63.5h1M328 63.5h1M339 63.5h1M346 63.5h2M350 63.5h1M356 63.5h1M290 64.5h1M295 64.5h1M297 64.5h1M304 64.5h1M311 64.5h1M316 64.5h2M321 64.5h1M333 64.5h1M346 64.5h1M349 64.5h1M355 64.5h2M271 65.5h1M278 65.5h2M285 65.5h1M287 65.5h1M292 65.5h2M299 65.5h2M302 65.5h1M305 65.5h1M323 65.5h1M328 65.5h1M331 65.5h1M334 65.5h1M346 65.5h1M352 65.5h1M263 66.5h1M270 66.5h1M287 66.5h1M293 66.5h1M302 66.5h1M309 66.5h2M312 66.5h1M314 66.5h1M318 66.5h3M325 66.5h1M331 66.5h1M336 66.5h2M347 66.5h1M349 66.5h1M352 66.5h2M266 67.5h1M277 67.5h1M286 67.5h1M290 67.5h1M295 67.5h1M300 67.5h1M310 67.5h1M316 67.5h2M330 67.5h1M333 67.5h1M335 67.5h1M264 68.5h1M275 68.5h1M282 68.5h1M289 68.5h1M302 68.5h1M306 68.5h1M310 68.5h1M312 68.5h1M315 68.5h1M320 68.5h1M330 68.5h1M336 68.5h1M340 68.5h1M343 68.5h1M347 68.5h1M350 68.5h1M354 68.5h1M266 69.5h1M276 69.5h1M279 69.5h1M284 69.5h1M289 69.5h1M301 69.5h1M308 69.5h1M311 69.5h1M327 69.5h2M344 69.5h2M349 69.5h2M352 69.5h1M265 70.5h1M268 70.5h1M270 70.5h1M279 70.5h1M287 70.5h1M289 70.5h3M297 70.5h1M304 70.5h1M311 70.5h1M317 70.5h1M324 70.5h1M329 70.5h1M336 70.5h1M348 70.5h1M264 71.5h1M273 71.5h1M276 71.5h1M279 71.5h2M285 71.5h1M303 71.5h1M306 71.5h1M315 71.5h1M317 71.5h3M321 71.5h1M354 71.5h1M252 72.5h1M267 72.5h1M284 72.5h1M290 72.5h1M295 72.5h1M304 72.5h1M308 72.5h1M310 72.5h1M313 72.5h1M317 72.5h2M321 72.5h1M331 72.5h1M275 73.5h2M279 73.5h3M289 73.5h1M296 73.5h1M308 73.5h1M315 73.5h1M318 73.5h1M356 73.5h1M272 74.5h1M280 74.5h1M282 74.5h1M298 74.5h1M301 74.5h1M311 74.5h2M317 74.5h1M320 74.5h3M328 74.5h1M334 74.5h1M341 74.5h1M291 75.5h2M294 75.5h1M296 75.5h1M308 75.5h1M328 75.5h1M348 75.5h1M258 76.5h2M261 76.5h1M263 76.5h1M284 76.5h3M288 76.5h1M293 76.5h1M296 76.5h2M304 76.5h2M252 77.5h1M255 77.5h2M266 77.5h1M279 77.5h1M291 77.5h1M295 77.5h1M300 77.5h3M307 77.5h1M321 77.5h1M261 78.5h1M265 78.5h1M277 78.5h1M283 78.5h1M287 78.5h1M291 78.5h1M296 78.5h1M305 78.5h1M331 78.5h1M355 78.5h1M265 79.5h1M275 79.5h1M289 79.5h1M352 79.5h1M267 80.5h1M270 80.5h1M277 80.5h1M288 80.5h1M304 80.5h1M308 80.5h1M351 80.5h1M257 81.5h1M316 81.5h1M331 81.5h1M259 82.5h1M263 82.5h1M268 82.5h1M279 82.5h1M293 83.5h1M312 83.5h1M318 83.5h1M311 84.5h1M336 84.5h1M356 84.5h1M284 85.5h1M307 85.5h1M320 85.5h1M262 86.5h1M276 86.5h1M311 86.5h1M356 86.5h1M261 87.5h1M312 87.5h1M337 87.5h1M355 87.5h2M253 88.5h1M307 88.5h1M343 88.5h1M349 88.5h1M272 89.5h1M281 89.5h1M300 89.5h1M321 89.5h1M348 89.5h1M353 89.5h1M356 89.5h1M276 90.5h1M312 90.5h1M325 90.5h1M339 90.5h1M342 90.5h1M264 91.5h1M276 91.5h1M283 91.5h1M287 91.5h1M338 91.5h1M341 91.5h1M263 92.5h1M276 92.5h1M287 92.5h1M327 92.5h1M338 92.5h1M347 92.5h1M350 92.5h1M353 92.5h1M355 92.5h1M263 93.5h1M277 93.5h1M282 93.5h1M307 93.5h1M309 93.5h1M315 93.5h2M325 93.5h1M331 93.5h1M337 93.5h1M279 94.5h1M293 94.5h1M311 94.5h1M340 94.5h1M250 95.5h1M263 95.5h1M271 95.5h1M277 95.5h1M314 95.5h1M316 95.5h1M318 95.5h1M325 95.5h1M328 95.5h1M354 95.5h1M272 96.5h1M275 96.5h1M282 96.5h2M285 96.5h1M290 96.5h1M293 96.5h1M303 96.5h1M323 96.5h1M325 96.5h1M332 96.5h1M336 96.5h1M348 96.5h1M351 96.5h1M249 97.5h1M274 97.5h1M286 97.5h1M291 97.5h1M335 97.5h1M353 97.5h1M355 97.5h1M264 98.5h1M272 98.5h1M278 98.5h3M289 98.5h1M294 98.5h1M299 98.5h1M302 98.5h1M321 98.5h1M328 98.5h1M344 98.5h1M347 98.5h1M262 99.5h4M267 99.5h1M279 99.5h1M281 99.5h1M294 99.5h1M302 99.5h1M307 99.5h1M318 99.5h1M330 99.5h1M343 99.5h1M351 99.5h1M257 100.5h1M267 100.5h1M275 100.5h1M289 100.5h1M299 100.5h1M302 100.5h1M307 100.5h1M313 100.5h1M332 100.5h2M343 100.5h1M349 100.5h1M355 100.5h1M253 101.5h1M261 101.5h1M272 101.5h1M280 101.5h1M284 101.5h1M288 101.5h1M290 101.5h1M299 101.5h2M305 101.5h1M307 101.5h1M311 101.5h1M324 101.5h1M331 101.5h1M335 101.5h1M341 101.5h1M252 102.5h1M254 102.5h1M257 102.5h1M266 102.5h1M269 102.5h1M271 102.5h1M280 102.5h1M282 102.5h1M284 102.5h1M305 102.5h1M310 102.5h1M328 102.5h1M335 102.5h1M337 102.5h1M347 102.5h1M352 102.5h1M355 102.5h1M256 103.5h2M261 103.5h1M267 103.5h1M269 103.5h1M274 103.5h1M287 103.5h1M292 103.5h1M305 103.5h1M307 103.5h1M314 103.5h1M326 103.5h1M338 103.5h1M345 103.5h2M350 103.5h2M259 104.5h1M266 104.5h1M269 104.5h1M272 104.5h1M284 104.5h1M287 104.5h1M291 104.5h1M298 104.5h2M302 104.5h1M305 104.5h1M311 104.5h1M318 104.5h1M333 104.5h1M341 104.5h1M345 104.5h1M350 104.5h1M261 105.5h1M268 105.5h1M276 105.5h1M284 105.5h1M286 105.5h1M297 105.5h1M299 105.5h1M310 105.5h1M315 105.5h1M319 105.5h1M329 105.5h1M331 105.5h1M339 105.5h1M346 105.5h1M351 105.5h1M258 106.5h1M263 106.5h1M273 106.5h1M281 106.5h1M285 106.5h1M295 106.5h1M297 106.5h1M299 106.5h1M314 106.5h1M317 106.5h1M320 106.5h1M322 106.5h2M328 106.5h1M330 106.5h1M340 106.5h1M346 106.5h3M351 106.5h1M251 107.5h1M265 107.5h1M280 107.5h1M284 107.5h1M290 107.5h1M300 107.5h2M308 107.5h1M313 107.5h2M318 107.5h1M325 107.5h1M335 107.5h1M342 107.5h1M344 107.5h1M356 107.5h1M252 108.5h1M258 108.5h2M262 108.5h2M271 108.5h1M279 108.5h1M287 108.5h1M309 108.5h2M312 108.5h1M316 108.5h2M322 108.5h1M326 108.5h1M331 108.5h2M338 108.5h1M353 108.5h1M356 108.5h1M262 109.5h1M267 109.5h1M284 109.5h1M287 109.5h1M290 109.5h1M298 109.5h1M304 109.5h2M309 109.5h1M315 109.5h1M320 109.5h2M323 109.5h1M330 109.5h1M332 109.5h1M267 110.5h1M274 110.5h1M287 110.5h1M310 110.5h1M322 110.5h1M333 110.5h1M336 110.5h1M349 110.5h1M263 111.5h1M272 111.5h1M274 111.5h1M284 111.5h1M308 111.5h1M315 111.5h2M327 111.5h2M348 111.5h1M258 112.5h1M265 112.5h1M273 112.5h2M281 112.5h1M295 112.5h1M317 112.5h2M326 112.5h1M330 112.5h1M335 112.5h1M255 113.5h1M260 113.5h1M267 113.5h2M283 113.5h1M287 113.5h1M297 113.5h2M314 113.5h1M251 114.5h1M255 114.5h1M262 114.5h1M275 114.5h1M277 114.5h1M303 114.5h1M314 114.5h3M323 114.5h1M258 115.5h1M269 115.5h2M272 115.5h1M275 115.5h1M286 115.5h2M298 115.5h1M307 115.5h2M318 115.5h2M248 116.5h1M253 116.5h1M260 116.5h1M263 116.5h1M266 116.5h1M271 116.5h1M276 116.5h1M279 116.5h1M300 116.5h1M305 116.5h1M309 116.5h1M311 116.5h1M329 116.5h1M254 117.5h1M269 117.5h1M304 117.5h1M311 117.5h1M316 117.5h1M330 117.5h1M249 118.5h1M251 118.5h1M253 118.5h1M261 118.5h2M275 118.5h3M280 118.5h1M283 118.5h1M286 118.5h1M295 118.5h1M301 118.5h1M305 118.5h1M308 118.5h1M310 118.5h2M315 118.5h1M251 119.5h1M256 119.5h3M264 119.5h2M267 119.5h1M269 119.5h1M272 119.5h1M274 119.5h1M277 119.5h1M281 119.5h1M290 119.5h1M300 119.5h1M303 119.5h1M306 119.5h1M248 120.5h1M250 120.5h2M256 120.5h1M263 120.5h1M268 120.5h1M275 120.5h2M287 120.5h1M294 120.5h1M323 120.5h1M255 121.5h3M262 121.5h2M265 121.5h1M268 121.5h1M280 121.5h1M289 121.5h2M252 122.5h1M262 122.5h3M275 122.5h1M278 122.5h1M292 122.5h1M296 122.5h2M257 123.5h1M260 123.5h1M268 123.5h1M270 123.5h1M276 123.5h1M283 123.5h1M285 123.5h1M255 124.5h1M259 124.5h1M279 124.5h2M261 125.5h1M265 125.5h1M273 125.5h1M275 125.5h1M286 125.5h1M298 125.5h1M246 126.5h1M254 126.5h4M259 126.5h1M261 126.5h1M275 126.5h2M275 127.5h1M281 127.5h2M285 127.5h2" opacity="0.46"/></g>
<ellipse cx="281.5" cy="117.8" rx="15" ry="3.8" transform="rotate(-21 281.5 117.8)" fill="#7c7c7c" filter="url(#coreblur)"/>
<line x1="245" x2="357.5" y1="83.5" y2="83.5" stroke="#2a2a2a" stroke-width="1"/>
<line x1="244.2" x2="358" y1="28.6" y2="28.6" stroke="#4a4a4a" stroke-width="1.2"/>
<line x1="357.5" x2="357.5" y1="28.6" y2="128.6" stroke="#222" stroke-width="1"/>
<line x1="244.2" x2="357.5" y1="128.1" y2="128.1" stroke="#222" stroke-width="1"/>
<line x1="245.7" x2="245.7" y1="28.6" y2="128.6" stroke="#111" stroke-width="1.5"/>
<path d="M245.2 128.1h-2.9M245.2 120.61h-1.2M245.2 116.23h-1.2M245.2 113.12h-1.2M245.2 110.71h-1.2M245.2 108.74h-1.2M245.2 107.08h-1.2M245.2 105.64h-1.2M245.2 104.36h-1.2M245.2 103.22h-2.9M245.2 95.74h-1.2M245.2 91.36h-1.2M245.2 88.25h-1.2M245.2 85.84h-1.2M245.2 83.87h-1.2M245.2 82.2h-1.2M245.2 80.76h-1.2M245.2 79.49h-1.2M245.2 78.35h-2.9M245.2 70.86h-1.2M245.2 66.48h-1.2M245.2 63.37h-1.2M245.2 60.96h-1.2M245.2 58.99h-1.2M245.2 57.33h-1.2M245.2 55.89h-1.2M245.2 54.61h-1.2M245.2 53.47h-2.9M245.2 45.99h-1.2M245.2 41.61h-1.2M245.2 38.5h-1.2M245.2 36.09h-1.2M245.2 34.12h-1.2M245.2 32.45h-1.2M245.2 31.01h-1.2M245.2 29.74h-1.2M245.2 28.6h-2.9" stroke="#222" stroke-width="0.8" fill="none"/>
<path d="M246.25 128.4v2.6M251.66 128.4v1.3M257.06 128.4v1.3M262.47 128.4v1.3M267.88 128.4v2.6M273.29 128.4v1.3M278.69 128.4v1.3M284.1 128.4v1.3M289.51 128.4v2.6M294.92 128.4v1.3M300.32 128.4v1.3M305.73 128.4v1.3M311.14 128.4v2.6M316.55 128.4v1.3M321.95 128.4v1.3M327.36 128.4v1.3M332.77 128.4v2.6M338.18 128.4v1.3M343.58 128.4v1.3M348.99 128.4v1.3M354.4 128.4v2.6" stroke="#222" stroke-width="0.8" fill="none"/>
<text transform="translate(240.4 142.8) scale(0.9 1)" font-size="9.6" stroke="#111" stroke-width="0.15" text-anchor="middle">0</text>
<text transform="translate(259.9 142.8) scale(0.9 1)" font-size="9.6" stroke="#111" stroke-width="0.15" text-anchor="middle">200</text>
<text transform="translate(281.6 142.8) scale(0.9 1)" font-size="9.6" stroke="#111" stroke-width="0.15" text-anchor="middle">400</text>
<text transform="translate(303.2 142.8) scale(0.9 1)" font-size="9.6" stroke="#111" stroke-width="0.15" text-anchor="middle">600</text>
<text transform="translate(324.6 142.8) scale(0.9 1)" font-size="9.6" stroke="#111" stroke-width="0.15" text-anchor="middle">800</text>
<text transform="translate(348.5 142.8) scale(0.9 1)" font-size="9.6" stroke="#111" stroke-width="0.15" text-anchor="middle">1000</text>
<text transform="translate(305.3 152.8) scale(0.92 1)" font-size="9.3" stroke="#111" stroke-width="0.15" text-anchor="middle">Side Scatter</text>
<text transform="translate(238 129.6) rotate(-90) scale(1.03 1)" font-size="8.4" stroke="#111" stroke-width="0.15">10<tspan dy="-2.6" font-size="5.6">0</tspan></text>
<text transform="translate(238 107.9) rotate(-90) scale(1.03 1)" font-size="8.4" stroke="#111" stroke-width="0.15">10<tspan dy="-2.6" font-size="5.6">1</tspan></text>
<text transform="translate(238 84.9) rotate(-90) scale(1.03 1)" font-size="8.4" stroke="#111" stroke-width="0.15">10<tspan dy="-2.6" font-size="5.6">2</tspan></text>
<text transform="translate(238 60) rotate(-90) scale(1.03 1)" font-size="8.4" stroke="#111" stroke-width="0.15">10<tspan dy="-2.6" font-size="5.6">3</tspan></text>
<text transform="translate(238 35.85) rotate(-90) scale(1.03 1)" font-size="8.4" stroke="#111" stroke-width="0.15">10<tspan dy="-2.6" font-size="5.6">4</tspan></text>
<text transform="translate(227.6 73.3) rotate(-90) scale(0.95 1)" font-size="8" stroke="#111" stroke-width="0.15" text-anchor="middle">Propidium Iodide</text>
<text x="217.4" y="36.1" font-family='"Liberation Sans", sans-serif' font-weight="bold" font-size="18.7" stroke="#111" stroke-width="0.5">B</text>
<text transform="translate(354.8 42.6) scale(0.98 1)" font-weight="bold" font-style="italic" font-size="16.8" stroke="#111" stroke-width="0.45" stroke-linejoin="round" text-anchor="end">%</text><text transform="translate(339.2 42.6) scale(1.02 1)" font-weight="bold" font-size="17.4" stroke="#111" stroke-width="0.45" stroke-linejoin="round" text-anchor="end">21</text>
<text transform="translate(356.1 127.1) scale(0.98 1)" font-weight="bold" font-style="italic" font-size="16.8" stroke="#111" stroke-width="0.45" stroke-linejoin="round" text-anchor="end">%</text><text transform="translate(341.3 127.1) scale(1.02 1)" font-weight="bold" font-size="17.4" stroke="#111" stroke-width="0.45" stroke-linejoin="round" text-anchor="end">79</text>
</g>
<g>
<rect x="400.4" y="28.2" width="112.5" height="99.5" fill="#f3f3f3"/>
<g filter="url(#soft)" fill="none" stroke="#000" stroke-width="1.25"><path d="M494 37.5h1M489 43.5h1M440 44.5h1M485 52.5h1M498 55.5h1M432 56.5h1M459 57.5h1M456 58.5h1M463 58.5h1M477 58.5h1M479 58.5h1M481 58.5h1M488 58.5h1M497 58.5h1M421 59.5h1M454 59.5h1M476 59.5h1M481 59.5h1M496 59.5h1M509 59.5h1M445 60.5h1M464 60.5h1M475 60.5h1M489 60.5h1M491 60.5h1M498 60.5h1M500 60.5h1M506 60.5h2M511 60.5h1M444 61.5h1M449 61.5h1M456 61.5h1M458 61.5h2M461 61.5h1M466 61.5h1M471 61.5h2M476 61.5h1M479 61.5h1M488 61.5h1M494 61.5h1M498 61.5h1M503 61.5h1M509 61.5h1M511 61.5h1M409 62.5h1M413 62.5h1M417 62.5h1M447 62.5h1M450 62.5h1M457 62.5h1M461 62.5h1M466 62.5h2M474 62.5h2M478 62.5h2M481 62.5h3M489 62.5h1M491 62.5h2M494 62.5h1M497 62.5h1M501 62.5h1M511 62.5h1M433 63.5h1M438 63.5h1M442 63.5h2M445 63.5h1M449 63.5h1M452 63.5h2M455 63.5h1M457 63.5h2M461 63.5h1M463 63.5h1M467 63.5h5M473 63.5h1M475 63.5h1M477 63.5h1M479 63.5h3M483 63.5h1M485 63.5h1M488 63.5h1M491 63.5h2M499 63.5h3M505 63.5h2M416 64.5h1M418 64.5h1M423 64.5h1M431 64.5h1M439 64.5h1M441 64.5h2M444 64.5h1M447 64.5h2M450 64.5h1M453 64.5h1M455 64.5h3M463 64.5h2M466 64.5h1M469 64.5h1M472 64.5h1M474 64.5h6M482 64.5h2M485 64.5h1M487 64.5h2M490 64.5h2M494 64.5h2M497 64.5h2M507 64.5h3M419 65.5h1M423 65.5h1M432 65.5h1M434 65.5h1M436 65.5h1M443 65.5h2M449 65.5h2M452 65.5h1M455 65.5h3M459 65.5h3M463 65.5h3M467 65.5h1M471 65.5h3M475 65.5h1M478 65.5h4M483 65.5h2M487 65.5h1M489 65.5h1M493 65.5h2M501 65.5h1M505 65.5h1M507 65.5h1M510 65.5h2M419 66.5h1M424 66.5h1M426 66.5h1M428 66.5h1M430 66.5h1M432 66.5h1M434 66.5h2M438 66.5h1M441 66.5h1M447 66.5h4M452 66.5h7M460 66.5h3M465 66.5h9M475 66.5h12M488 66.5h1M490 66.5h1M494 66.5h2M498 66.5h1M502 66.5h3M506 66.5h4M511 66.5h1M419 67.5h1M423 67.5h2M426 67.5h1M428 67.5h4M433 67.5h3M438 67.5h19M458 67.5h4M463 67.5h3M467 67.5h1M469 67.5h1M471 67.5h1M473 67.5h2M476 67.5h3M480 67.5h4M486 67.5h2M491 67.5h2M494 67.5h1M496 67.5h1M498 67.5h1M502 67.5h1M504 67.5h2M511 67.5h1M412 68.5h1M417 68.5h2M420 68.5h1M422 68.5h1M424 68.5h4M430 68.5h4M435 68.5h5M443 68.5h3M449 68.5h6M456 68.5h9M467 68.5h4M472 68.5h3M476 68.5h7M486 68.5h4M491 68.5h1M494 68.5h2M499 68.5h1M501 68.5h2M505 68.5h2M508 68.5h1M511 68.5h1M410 69.5h1M415 69.5h1M419 69.5h2M422 69.5h1M424 69.5h4M429 69.5h9M439 69.5h2M442 69.5h2M445 69.5h3M449 69.5h1M451 69.5h2M454 69.5h8M463 69.5h2M466 69.5h2M469 69.5h3M473 69.5h4M478 69.5h2M481 69.5h2M484 69.5h2M492 69.5h1M502 69.5h2M506 69.5h1M508 69.5h1M510 69.5h2M408 70.5h1M411 70.5h1M413 70.5h1M416 70.5h2M420 70.5h1M423 70.5h1M425 70.5h2M428 70.5h23M452 70.5h4M457 70.5h22M480 70.5h2M483 70.5h3M489 70.5h2M492 70.5h1M500 70.5h1M506 70.5h1M411 71.5h1M414 71.5h3M418 71.5h1M420 71.5h2M423 71.5h12M436 71.5h1M438 71.5h20M459 71.5h6M466 71.5h6M473 71.5h3M478 71.5h1M480 71.5h1M482 71.5h1M484 71.5h3M496 71.5h1M500 71.5h1M406 72.5h1M409 72.5h1M414 72.5h1M417 72.5h3M422 72.5h8M431 72.5h4M436 72.5h26M465 72.5h5M471 72.5h2M476 72.5h2M481 72.5h2M484 72.5h1M488 72.5h2M492 72.5h1M494 72.5h1M497 72.5h2M502 72.5h2M505 72.5h1M414 73.5h2M418 73.5h2M421 73.5h1M424 73.5h2M427 73.5h2M430 73.5h5M436 73.5h3M440 73.5h21M462 73.5h3M466 73.5h6M473 73.5h1M475 73.5h4M480 73.5h1M483 73.5h1M492 73.5h1M497 73.5h1M510 73.5h2M406 74.5h1M411 74.5h2M414 74.5h1M416 74.5h1M420 74.5h8M429 74.5h8M438 74.5h19M458 74.5h2M462 74.5h5M468 74.5h8M480 74.5h3M486 74.5h1M491 74.5h1M493 74.5h1M497 74.5h1M503 74.5h1M409 75.5h5M415 75.5h3M419 75.5h1M421 75.5h2M424 75.5h2M427 75.5h1M430 75.5h2M433 75.5h1M435 75.5h2M438 75.5h6M445 75.5h1M447 75.5h3M451 75.5h2M454 75.5h1M456 75.5h10M468 75.5h1M470 75.5h1M475 75.5h1M478 75.5h1M480 75.5h2M501 75.5h1M413 76.5h1M416 76.5h1M418 76.5h2M421 76.5h6M429 76.5h6M436 76.5h2M440 76.5h1M442 76.5h8M451 76.5h3M455 76.5h3M460 76.5h4M467 76.5h1M470 76.5h1M472 76.5h2M475 76.5h1M485 76.5h1M492 76.5h1M496 76.5h1M509 76.5h1M410 77.5h1M416 77.5h1M421 77.5h1M423 77.5h2M426 77.5h1M428 77.5h1M432 77.5h1M435 77.5h6M442 77.5h1M444 77.5h5M450 77.5h2M453 77.5h6M460 77.5h1M462 77.5h1M465 77.5h1M470 77.5h2M488 77.5h1M511 77.5h1M405 78.5h1M409 78.5h1M416 78.5h2M421 78.5h4M426 78.5h6M435 78.5h2M438 78.5h3M442 78.5h2M447 78.5h2M452 78.5h2M456 78.5h1M458 78.5h1M460 78.5h3M464 78.5h1M475 78.5h1M489 78.5h1M493 78.5h1M497 78.5h3M511 78.5h1M407 79.5h1M413 79.5h1M418 79.5h2M423 79.5h1M427 79.5h1M430 79.5h1M433 79.5h1M436 79.5h1M438 79.5h1M440 79.5h1M455 79.5h2M472 79.5h1M490 79.5h1M408 80.5h2M416 80.5h1M419 80.5h1M423 80.5h1M425 80.5h1M427 80.5h2M430 80.5h1M434 80.5h1M437 80.5h2M440 80.5h1M444 80.5h1M446 80.5h1M451 80.5h1M455 80.5h2M462 80.5h1M469 80.5h1M486 80.5h1M503 80.5h1M409 81.5h1M424 81.5h4M435 81.5h1M440 81.5h2M450 81.5h2M462 81.5h1M466 81.5h1M468 81.5h1M476 81.5h1M494 81.5h1M409 82.5h1M421 82.5h1M430 82.5h1M433 82.5h1M440 82.5h1M453 82.5h1M460 82.5h1M471 82.5h1M507 82.5h1M422 83.5h2M426 83.5h1M445 83.5h1M452 83.5h1M475 83.5h1M486 83.5h1M491 83.5h1M497 83.5h1M511 83.5h1M415 84.5h2M438 84.5h1M441 84.5h1M477 84.5h1M486 84.5h1M508 84.5h1M511 84.5h1M418 85.5h1M422 85.5h1M443 85.5h1M474 85.5h1M500 85.5h1M511 85.5h1M410 86.5h1M424 86.5h1M456 86.5h1M465 86.5h1M472 86.5h1M478 86.5h1M506 86.5h2M510 86.5h2M429 87.5h1M432 87.5h1M436 87.5h1M460 87.5h1M477 87.5h1M483 87.5h1M496 87.5h1M499 87.5h1M505 87.5h1M511 87.5h1M440 88.5h1M447 88.5h1M462 88.5h1M468 88.5h1M480 88.5h1M497 88.5h1M500 88.5h1M426 89.5h1M436 89.5h1M454 89.5h1M469 89.5h1M497 89.5h2M504 89.5h1M511 89.5h1M434 90.5h1M436 90.5h1M441 90.5h1M447 90.5h1M457 90.5h1M467 90.5h1M472 90.5h2M485 90.5h1M502 90.5h1M504 90.5h3M509 90.5h3M409 91.5h1M415 91.5h1M428 91.5h1M440 91.5h1M455 91.5h1M466 91.5h2M472 91.5h1M479 91.5h1M485 91.5h1M489 91.5h3M495 91.5h2M503 91.5h2M509 91.5h1M511 91.5h1M418 92.5h1M425 92.5h1M428 92.5h1M454 92.5h1M472 92.5h1M477 92.5h1M484 92.5h1M489 92.5h1M493 92.5h2M499 92.5h1M506 92.5h1M509 92.5h1M511 92.5h1M412 93.5h1M420 93.5h1M426 93.5h1M436 93.5h1M438 93.5h1M443 93.5h1M445 93.5h1M456 93.5h1M466 93.5h1M471 93.5h2M479 93.5h1M497 93.5h1M499 93.5h1M508 93.5h1M510 93.5h2M407 94.5h1M410 94.5h2M424 94.5h1M427 94.5h2M431 94.5h1M443 94.5h1M453 94.5h1M469 94.5h1M478 94.5h1M482 94.5h1M488 94.5h1M491 94.5h1M502 94.5h2M505 94.5h2M508 94.5h2M511 94.5h1M414 95.5h1M418 95.5h2M422 95.5h1M424 95.5h4M430 95.5h2M433 95.5h1M435 95.5h1M438 95.5h1M441 95.5h1M449 95.5h1M453 95.5h2M457 95.5h1M461 95.5h2M465 95.5h1M467 95.5h2M471 95.5h1M474 95.5h3M478 95.5h1M480 95.5h2M484 95.5h1M488 95.5h1M490 95.5h1M494 95.5h1M496 95.5h3M500 95.5h1M503 95.5h3M508 95.5h2M511 95.5h1M410 96.5h1M414 96.5h1M416 96.5h1M425 96.5h1M429 96.5h1M431 96.5h3M438 96.5h1M440 96.5h1M442 96.5h1M444 96.5h1M452 96.5h2M464 96.5h1M466 96.5h1M473 96.5h5M479 96.5h2M484 96.5h1M487 96.5h2M490 96.5h4M496 96.5h2M501 96.5h2M505 96.5h2M509 96.5h3M413 97.5h1M415 97.5h1M417 97.5h1M423 97.5h3M431 97.5h1M438 97.5h1M440 97.5h1M442 97.5h1M448 97.5h2M451 97.5h1M453 97.5h1M456 97.5h1M460 97.5h2M467 97.5h1M469 97.5h2M474 97.5h1M480 97.5h2M484 97.5h3M493 97.5h1M495 97.5h1M497 97.5h2M500 97.5h2M506 97.5h1M508 97.5h1M511 97.5h1M409 98.5h1M413 98.5h2M419 98.5h2M426 98.5h1M428 98.5h1M432 98.5h2M436 98.5h2M439 98.5h1M445 98.5h1M447 98.5h5M455 98.5h1M457 98.5h1M461 98.5h1M464 98.5h2M467 98.5h2M470 98.5h1M474 98.5h1M476 98.5h2M483 98.5h3M490 98.5h1M493 98.5h1M495 98.5h1M501 98.5h2M504 98.5h3M511 98.5h1M412 99.5h1M414 99.5h3M419 99.5h1M421 99.5h1M423 99.5h3M427 99.5h2M432 99.5h1M440 99.5h1M442 99.5h2M445 99.5h2M448 99.5h1M456 99.5h1M463 99.5h1M465 99.5h2M469 99.5h1M472 99.5h1M474 99.5h1M477 99.5h1M479 99.5h1M482 99.5h2M491 99.5h1M493 99.5h1M496 99.5h2M503 99.5h1M508 99.5h1M510 99.5h2M401 100.5h1M409 100.5h1M414 100.5h1M417 100.5h1M419 100.5h1M421 100.5h4M426 100.5h2M429 100.5h1M431 100.5h1M433 100.5h4M445 100.5h1M447 100.5h2M451 100.5h1M453 100.5h1M457 100.5h1M461 100.5h2M465 100.5h1M470 100.5h1M473 100.5h4M478 100.5h1M481 100.5h2M488 100.5h1M490 100.5h2M494 100.5h1M496 100.5h2M500 100.5h1M511 100.5h1M406 101.5h2M418 101.5h3M422 101.5h6M429 101.5h1M431 101.5h1M433 101.5h2M437 101.5h4M444 101.5h3M448 101.5h1M450 101.5h1M452 101.5h2M459 101.5h1M461 101.5h7M474 101.5h4M481 101.5h2M486 101.5h2M489 101.5h1M491 101.5h1M496 101.5h1M498 101.5h2M501 101.5h1M503 101.5h2M506 101.5h1M508 101.5h1M510 101.5h2M402 102.5h1M406 102.5h1M408 102.5h1M410 102.5h4M416 102.5h2M420 102.5h1M422 102.5h3M426 102.5h5M432 102.5h1M435 102.5h2M438 102.5h3M443 102.5h1M449 102.5h4M455 102.5h3M463 102.5h2M466 102.5h1M468 102.5h1M470 102.5h3M474 102.5h4M479 102.5h1M481 102.5h1M486 102.5h2M489 102.5h2M492 102.5h3M499 102.5h1M501 102.5h3M507 102.5h1M509 102.5h1M511 102.5h1M406 103.5h1M410 103.5h3M415 103.5h1M417 103.5h2M422 103.5h1M425 103.5h4M430 103.5h1M432 103.5h3M436 103.5h1M439 103.5h2M443 103.5h4M449 103.5h1M451 103.5h4M456 103.5h1M460 103.5h2M463 103.5h5M470 103.5h9M482 103.5h1M486 103.5h2M489 103.5h4M495 103.5h1M502 103.5h1M506 103.5h1M510 103.5h1M407 104.5h1M409 104.5h1M414 104.5h1M416 104.5h5M422 104.5h3M426 104.5h8M436 104.5h4M441 104.5h4M446 104.5h3M452 104.5h1M454 104.5h6M462 104.5h4M468 104.5h1M472 104.5h4M477 104.5h1M482 104.5h3M486 104.5h1M488 104.5h2M491 104.5h1M494 104.5h1M496 104.5h3M501 104.5h4M511 104.5h1M405 105.5h1M407 105.5h3M411 105.5h1M414 105.5h2M417 105.5h1M419 105.5h5M425 105.5h1M427 105.5h3M432 105.5h5M438 105.5h7M446 105.5h2M449 105.5h3M456 105.5h1M458 105.5h14M474 105.5h4M480 105.5h1M482 105.5h1M484 105.5h1M486 105.5h1M488 105.5h1M490 105.5h1M492 105.5h4M500 105.5h1M504 105.5h1M506 105.5h1M508 105.5h1M511 105.5h1M409 106.5h1M411 106.5h1M413 106.5h2M416 106.5h3M421 106.5h1M423 106.5h3M428 106.5h1M431 106.5h1M433 106.5h2M437 106.5h1M440 106.5h3M444 106.5h5M450 106.5h2M454 106.5h2M457 106.5h1M459 106.5h2M463 106.5h5M469 106.5h1M471 106.5h1M473 106.5h2M476 106.5h4M481 106.5h4M486 106.5h1M499 106.5h1M501 106.5h3M401 107.5h1M407 107.5h1M409 107.5h4M414 107.5h9M424 107.5h7M432 107.5h7M442 107.5h4M448 107.5h1M451 107.5h1M453 107.5h4M459 107.5h4M464 107.5h1M467 107.5h3M471 107.5h8M480 107.5h1M483 107.5h2M488 107.5h1M490 107.5h2M499 107.5h1M404 108.5h1M407 108.5h1M409 108.5h9M419 108.5h2M425 108.5h8M434 108.5h10M445 108.5h7M454 108.5h1M457 108.5h8M467 108.5h1M470 108.5h3M474 108.5h3M479 108.5h1M482 108.5h1M485 108.5h1M487 108.5h2M491 108.5h3M502 108.5h1M508 108.5h1M401 109.5h1M407 109.5h1M412 109.5h3M417 109.5h13M431 109.5h1M433 109.5h5M439 109.5h7M447 109.5h12M460 109.5h2M463 109.5h5M471 109.5h3M476 109.5h1M479 109.5h3M484 109.5h3M488 109.5h1M493 109.5h2M497 109.5h1M500 109.5h1M508 109.5h2M511 109.5h1M404 110.5h1M410 110.5h1M413 110.5h6M420 110.5h8M430 110.5h3M434 110.5h1M436 110.5h2M439 110.5h7M447 110.5h6M454 110.5h1M456 110.5h9M468 110.5h3M472 110.5h1M475 110.5h1M477 110.5h2M481 110.5h3M485 110.5h1M487 110.5h1M495 110.5h1M504 110.5h1M511 110.5h1M404 111.5h1M406 111.5h2M409 111.5h3M413 111.5h10M424 111.5h6M432 111.5h6M440 111.5h6M447 111.5h9M457 111.5h2M460 111.5h2M463 111.5h2M466 111.5h2M469 111.5h3M473 111.5h2M487 111.5h1M493 111.5h1M496 111.5h1M511 111.5h1M407 112.5h2M410 112.5h6M417 112.5h2M421 112.5h7M429 112.5h6M436 112.5h1M438 112.5h7M446 112.5h8M455 112.5h5M461 112.5h1M464 112.5h1M466 112.5h1M468 112.5h1M470 112.5h1M472 112.5h1M475 112.5h2M480 112.5h1M482 112.5h1M484 112.5h1M489 112.5h2M497 112.5h1M407 113.5h1M410 113.5h5M416 113.5h5M422 113.5h7M430 113.5h2M433 113.5h3M437 113.5h8M446 113.5h3M450 113.5h9M460 113.5h3M466 113.5h6M474 113.5h1M477 113.5h2M480 113.5h1M482 113.5h1M484 113.5h1M486 113.5h2M405 114.5h1M407 114.5h1M409 114.5h1M411 114.5h1M413 114.5h5M421 114.5h4M426 114.5h3M430 114.5h1M433 114.5h1M435 114.5h1M437 114.5h5M444 114.5h1M447 114.5h7M455 114.5h6M462 114.5h4M468 114.5h4M475 114.5h1M477 114.5h1M480 114.5h1M485 114.5h1M490 114.5h1M511 114.5h1M402 115.5h1M406 115.5h1M410 115.5h1M412 115.5h2M415 115.5h2M418 115.5h2M421 115.5h3M425 115.5h2M428 115.5h1M430 115.5h6M437 115.5h21M459 115.5h4M466 115.5h1M471 115.5h1M474 115.5h1M495 115.5h1M508 115.5h1M405 116.5h2M408 116.5h1M412 116.5h5M418 116.5h9M428 116.5h2M431 116.5h1M433 116.5h1M435 116.5h2M438 116.5h11M451 116.5h6M458 116.5h1M460 116.5h3M465 116.5h2M469 116.5h1M471 116.5h2M479 116.5h1M406 117.5h1M408 117.5h1M410 117.5h2M414 117.5h3M419 117.5h3M423 117.5h1M425 117.5h6M432 117.5h20M453 117.5h4M458 117.5h1M461 117.5h2M465 117.5h2M473 117.5h1M475 117.5h1M481 117.5h1M486 117.5h1M401 118.5h1M407 118.5h2M410 118.5h1M414 118.5h6M421 118.5h5M427 118.5h2M430 118.5h4M435 118.5h1M437 118.5h10M448 118.5h1M450 118.5h2M453 118.5h2M457 118.5h2M462 118.5h1M467 118.5h1M470 118.5h1M473 118.5h1M501 118.5h1M504 118.5h1M406 119.5h1M408 119.5h2M411 119.5h2M414 119.5h8M423 119.5h2M426 119.5h2M429 119.5h2M432 119.5h8M441 119.5h7M451 119.5h1M453 119.5h1M455 119.5h1M458 119.5h1M460 119.5h1M462 119.5h1M464 119.5h1M467 119.5h1M479 119.5h1M481 119.5h1M484 119.5h1M405 120.5h1M412 120.5h4M417 120.5h6M424 120.5h2M428 120.5h1M432 120.5h1M434 120.5h1M436 120.5h1M440 120.5h1M442 120.5h2M446 120.5h2M450 120.5h1M454 120.5h1M458 120.5h1M465 120.5h1M469 120.5h1M478 120.5h1M491 120.5h1M401 121.5h1M405 121.5h2M410 121.5h1M415 121.5h2M418 121.5h1M423 121.5h2M426 121.5h1M430 121.5h1M434 121.5h1M437 121.5h3M443 121.5h2M446 121.5h1M448 121.5h1M452 121.5h2M457 121.5h1M465 121.5h1M405 122.5h1M408 122.5h1M410 122.5h1M418 122.5h1M421 122.5h1M423 122.5h2M426 122.5h1M429 122.5h2M432 122.5h1M435 122.5h2M439 122.5h1M444 122.5h1M448 122.5h1M451 122.5h3M458 122.5h2M404 123.5h1M409 123.5h2M412 123.5h2M416 123.5h1M418 123.5h1M420 123.5h3M425 123.5h1M428 123.5h1M431 123.5h2M434 123.5h2M437 123.5h1M440 123.5h1M443 123.5h1M445 123.5h1M450 123.5h1M453 123.5h1M457 123.5h2M415 124.5h1M418 124.5h1M420 124.5h2M426 124.5h1M428 124.5h1M432 124.5h2M437 124.5h1M440 124.5h1M442 124.5h1M452 124.5h2M455 124.5h1M457 124.5h1M408 125.5h1M411 125.5h4M416 125.5h1M418 125.5h1M420 125.5h1M427 125.5h1M430 125.5h1M433 125.5h2M441 125.5h3M445 125.5h1M448 125.5h1M402 126.5h1M404 126.5h3M408 126.5h1M410 126.5h11M422 126.5h3M426 126.5h2M429 126.5h5M436 126.5h2M439 126.5h3M443 126.5h2M447 126.5h1M455 126.5h2" opacity="0.8"/><path d="M461 30.5h1M511 39.5h1M486 46.5h1M491 52.5h1M507 55.5h1M434 56.5h1M496 56.5h1M505 57.5h1M509 58.5h1M413 59.5h1M466 59.5h1M442 60.5h1M455 60.5h1M467 60.5h1M480 60.5h2M495 60.5h1M452 61.5h1M469 61.5h1M489 61.5h1M496 61.5h1M499 61.5h1M501 61.5h1M508 61.5h1M454 62.5h1M463 62.5h1M468 62.5h1M473 62.5h1M493 62.5h1M507 62.5h1M509 62.5h1M422 63.5h1M434 63.5h1M441 63.5h1M447 63.5h1M462 63.5h1M464 63.5h1M472 63.5h1M476 63.5h1M482 63.5h1M489 63.5h1M495 63.5h1M508 63.5h1M511 63.5h1M426 64.5h1M434 64.5h1M438 64.5h1M440 64.5h1M445 64.5h1M449 64.5h1M452 64.5h1M480 64.5h1M489 64.5h1M496 64.5h1M500 64.5h1M511 64.5h1M411 65.5h1M421 65.5h1M433 65.5h1M439 65.5h1M441 65.5h1M446 65.5h2M470 65.5h1M474 65.5h1M476 65.5h2M486 65.5h1M490 65.5h2M499 65.5h1M506 65.5h1M409 66.5h1M412 66.5h1M429 66.5h1M437 66.5h1M439 66.5h1M442 66.5h3M446 66.5h1M474 66.5h1M492 66.5h1M496 66.5h1M500 66.5h1M411 67.5h2M416 67.5h2M427 67.5h1M436 67.5h2M462 67.5h1M468 67.5h1M470 67.5h1M472 67.5h1M475 67.5h1M484 67.5h1M506 67.5h2M510 67.5h1M411 68.5h1M415 68.5h2M419 68.5h1M421 68.5h1M423 68.5h1M434 68.5h1M440 68.5h2M446 68.5h3M455 68.5h1M465 68.5h2M471 68.5h1M475 68.5h1M484 68.5h2M490 68.5h1M493 68.5h1M507 68.5h1M421 69.5h1M428 69.5h1M438 69.5h1M441 69.5h1M444 69.5h1M448 69.5h1M450 69.5h1M462 69.5h1M465 69.5h1M468 69.5h1M480 69.5h1M489 69.5h1M494 69.5h1M498 69.5h1M504 69.5h1M401 70.5h1M421 70.5h1M424 70.5h1M451 70.5h1M456 70.5h1M482 70.5h1M497 70.5h1M499 70.5h1M508 70.5h1M510 70.5h2M422 71.5h1M435 71.5h1M437 71.5h1M458 71.5h1M465 71.5h1M491 71.5h1M502 71.5h2M509 71.5h1M408 72.5h1M415 72.5h2M420 72.5h1M435 72.5h1M462 72.5h1M464 72.5h1M470 72.5h1M473 72.5h3M479 72.5h1M486 72.5h1M490 72.5h1M493 72.5h1M510 72.5h1M407 73.5h1M416 73.5h1M420 73.5h1M422 73.5h2M426 73.5h1M429 73.5h1M435 73.5h1M472 73.5h1M474 73.5h1M485 73.5h1M487 73.5h1M489 73.5h1M503 73.5h1M417 74.5h1M419 74.5h1M428 74.5h1M437 74.5h1M457 74.5h1M461 74.5h1M467 74.5h1M476 74.5h1M509 74.5h1M408 75.5h1M420 75.5h1M423 75.5h1M426 75.5h1M428 75.5h1M432 75.5h1M444 75.5h1M446 75.5h1M450 75.5h1M453 75.5h1M455 75.5h1M472 75.5h1M476 75.5h2M482 75.5h2M409 76.5h1M412 76.5h1M417 76.5h1M420 76.5h1M435 76.5h1M439 76.5h1M454 76.5h1M458 76.5h1M476 76.5h1M479 76.5h1M493 76.5h2M417 77.5h1M422 77.5h1M425 77.5h1M429 77.5h2M433 77.5h2M449 77.5h1M459 77.5h1M474 77.5h1M476 77.5h2M483 77.5h1M485 77.5h1M487 77.5h1M497 77.5h1M506 77.5h1M415 78.5h1M420 78.5h1M432 78.5h1M445 78.5h1M476 78.5h1M509 78.5h1M406 79.5h1M416 79.5h2M420 79.5h2M424 79.5h1M426 79.5h1M429 79.5h1M431 79.5h1M434 79.5h1M445 79.5h1M457 79.5h2M461 79.5h1M463 79.5h1M473 79.5h1M475 79.5h1M422 80.5h1M426 80.5h1M441 80.5h2M447 80.5h1M471 80.5h1M474 80.5h1M420 81.5h1M422 81.5h1M431 81.5h1M437 81.5h1M443 81.5h1M445 81.5h1M449 81.5h1M454 81.5h2M490 81.5h1M495 81.5h1M415 82.5h2M445 82.5h1M458 82.5h1M499 82.5h1M511 82.5h1M410 83.5h1M436 83.5h1M440 83.5h1M423 84.5h1M427 84.5h1M474 84.5h1M478 84.5h1M433 85.5h1M452 85.5h1M461 85.5h1M497 85.5h1M427 86.5h1M455 86.5h1M458 86.5h1M477 86.5h1M496 86.5h1M500 86.5h1M503 86.5h1M446 87.5h1M466 87.5h1M489 87.5h1M501 87.5h1M416 88.5h1M427 88.5h1M469 88.5h1M473 88.5h1M484 88.5h3M489 88.5h1M495 88.5h1M511 88.5h1M437 89.5h1M443 89.5h2M446 89.5h1M463 89.5h1M468 89.5h1M488 89.5h1M493 89.5h1M499 89.5h1M501 89.5h1M503 89.5h1M509 89.5h2M414 90.5h1M435 90.5h1M451 90.5h1M465 90.5h1M480 90.5h1M491 90.5h1M501 90.5h1M503 90.5h1M443 91.5h1M449 91.5h1M451 91.5h1M454 91.5h1M470 91.5h1M477 91.5h1M499 91.5h1M501 91.5h1M407 92.5h1M424 92.5h1M449 92.5h1M453 92.5h1M456 92.5h1M462 92.5h1M468 92.5h1M476 92.5h1M481 92.5h2M485 92.5h1M488 92.5h1M492 92.5h1M500 92.5h1M510 92.5h1M429 93.5h1M447 93.5h1M454 93.5h1M464 93.5h1M473 93.5h1M481 93.5h1M506 93.5h1M509 93.5h1M422 94.5h1M440 94.5h1M444 94.5h1M455 94.5h1M464 94.5h1M474 94.5h1M486 94.5h1M498 94.5h1M510 94.5h1M413 95.5h1M417 95.5h1M421 95.5h1M429 95.5h1M445 95.5h1M448 95.5h1M459 95.5h1M464 95.5h1M472 95.5h1M493 95.5h1M499 95.5h1M501 95.5h1M507 95.5h1M510 95.5h1M412 96.5h2M421 96.5h2M424 96.5h1M439 96.5h1M447 96.5h1M457 96.5h1M460 96.5h1M463 96.5h1M469 96.5h1M472 96.5h1M503 96.5h2M508 96.5h1M407 97.5h1M420 97.5h1M433 97.5h1M437 97.5h1M445 97.5h1M457 97.5h1M462 97.5h2M468 97.5h1M476 97.5h2M488 97.5h1M507 97.5h1M509 97.5h2M408 98.5h1M415 98.5h1M423 98.5h1M427 98.5h1M435 98.5h1M442 98.5h3M459 98.5h1M463 98.5h1M466 98.5h1M472 98.5h1M475 98.5h1M479 98.5h1M482 98.5h1M487 98.5h2M507 98.5h1M411 99.5h1M413 99.5h1M418 99.5h1M429 99.5h2M437 99.5h1M458 99.5h1M461 99.5h1M467 99.5h2M481 99.5h1M487 99.5h3M502 99.5h1M509 99.5h1M410 100.5h1M413 100.5h1M418 100.5h1M425 100.5h1M428 100.5h1M446 100.5h1M467 100.5h1M471 100.5h1M477 100.5h1M479 100.5h2M486 100.5h2M489 100.5h1M495 100.5h1M502 100.5h2M505 100.5h1M411 101.5h1M413 101.5h2M416 101.5h1M421 101.5h1M428 101.5h1M430 101.5h1M435 101.5h1M455 101.5h1M457 101.5h1M468 101.5h1M470 101.5h1M483 101.5h2M494 101.5h1M500 101.5h1M502 101.5h1M505 101.5h1M509 101.5h1M414 102.5h2M419 102.5h1M421 102.5h1M431 102.5h1M433 102.5h1M441 102.5h1M445 102.5h1M447 102.5h1M453 102.5h1M458 102.5h1M508 102.5h1M408 103.5h1M414 103.5h1M420 103.5h2M429 103.5h1M431 103.5h1M438 103.5h1M448 103.5h1M450 103.5h1M479 103.5h3M496 103.5h1M498 103.5h1M500 103.5h1M503 103.5h1M507 103.5h1M509 103.5h1M405 104.5h1M408 104.5h1M413 104.5h1M421 104.5h1M425 104.5h1M434 104.5h2M449 104.5h2M460 104.5h2M471 104.5h1M478 104.5h1M487 104.5h1M500 104.5h1M412 105.5h2M416 105.5h1M418 105.5h1M426 105.5h1M430 105.5h1M437 105.5h1M452 105.5h1M454 105.5h2M457 105.5h1M479 105.5h1M481 105.5h1M487 105.5h1M509 105.5h1M408 106.5h1M419 106.5h2M422 106.5h1M426 106.5h1M429 106.5h2M432 106.5h1M439 106.5h1M443 106.5h1M449 106.5h1M452 106.5h1M461 106.5h2M470 106.5h1M480 106.5h1M485 106.5h1M487 106.5h2M490 106.5h2M496 106.5h1M511 106.5h1M403 107.5h1M406 107.5h1M408 107.5h1M431 107.5h1M439 107.5h3M449 107.5h2M457 107.5h2M465 107.5h2M470 107.5h1M482 107.5h1M498 107.5h1M401 108.5h1M418 108.5h1M423 108.5h1M433 108.5h1M444 108.5h1M452 108.5h2M455 108.5h1M469 108.5h1M473 108.5h1M483 108.5h2M489 108.5h1M404 109.5h1M406 109.5h1M408 109.5h2M411 109.5h1M415 109.5h1M430 109.5h1M446 109.5h1M469 109.5h1M475 109.5h1M482 109.5h2M506 109.5h1M411 110.5h2M428 110.5h1M433 110.5h1M453 110.5h1M466 110.5h1M471 110.5h1M486 110.5h1M491 110.5h1M408 111.5h1M412 111.5h1M423 111.5h1M438 111.5h2M446 111.5h1M456 111.5h1M477 111.5h3M488 111.5h1M409 112.5h1M419 112.5h1M428 112.5h1M435 112.5h1M437 112.5h1M445 112.5h1M454 112.5h1M462 112.5h2M471 112.5h1M474 112.5h1M477 112.5h1M496 112.5h1M502 112.5h1M509 112.5h1M406 113.5h1M408 113.5h2M421 113.5h1M432 113.5h1M436 113.5h1M445 113.5h1M449 113.5h1M459 113.5h1M463 113.5h2M497 113.5h1M403 114.5h2M408 114.5h1M410 114.5h1M418 114.5h2M425 114.5h1M429 114.5h1M432 114.5h1M434 114.5h1M436 114.5h1M442 114.5h2M445 114.5h1M454 114.5h1M461 114.5h1M472 114.5h1M478 114.5h1M483 114.5h2M502 114.5h1M504 114.5h1M409 115.5h1M411 115.5h1M420 115.5h1M464 115.5h1M475 115.5h1M411 116.5h1M437 116.5h1M449 116.5h1M457 116.5h1M464 116.5h1M405 117.5h1M407 117.5h1M409 117.5h1M417 117.5h2M460 117.5h1M463 117.5h1M405 118.5h1M409 118.5h1M411 118.5h3M420 118.5h1M426 118.5h1M434 118.5h1M436 118.5h1M459 118.5h1M468 118.5h1M475 118.5h1M483 118.5h1M410 119.5h1M431 119.5h1M440 119.5h1M449 119.5h2M465 119.5h1M416 120.5h1M427 120.5h1M429 120.5h3M435 120.5h1M437 120.5h3M441 120.5h1M444 120.5h2M448 120.5h2M451 120.5h1M456 120.5h1M480 120.5h1M407 121.5h1M412 121.5h1M414 121.5h1M419 121.5h1M425 121.5h1M427 121.5h2M432 121.5h2M447 121.5h1M451 121.5h1M411 122.5h1M413 122.5h1M416 122.5h1M422 122.5h1M433 122.5h2M441 122.5h1M443 122.5h1M445 122.5h1M447 122.5h1M450 122.5h1M457 122.5h1M476 122.5h1M415 123.5h1M419 123.5h1M423 123.5h2M433 123.5h1M436 123.5h1M439 123.5h1M444 123.5h1M449 123.5h1M467 123.5h1M401 124.5h1M404 124.5h1M406 124.5h3M413 124.5h1M419 124.5h1M422 124.5h1M424 124.5h1M429 124.5h1M434 124.5h3M454 124.5h1M421 125.5h1M429 125.5h1M435 125.5h1M438 125.5h1M407 126.5h1M421 126.5h1M425 126.5h1M428 126.5h1M435 126.5h1M438 126.5h1M442 126.5h1M465 126.5h1" opacity="0.44"/></g>
<line x1="400.4" x2="512.9" y1="83.5" y2="83.5" stroke="#2a2a2a" stroke-width="1"/>
<line x1="399.6" x2="513.4" y1="28.2" y2="28.2" stroke="#4a4a4a" stroke-width="1.2"/>
<line x1="512.9" x2="512.9" y1="28.2" y2="128.2" stroke="#222" stroke-width="1"/>
<line x1="399.6" x2="512.9" y1="127.7" y2="127.7" stroke="#222" stroke-width="1"/>
<line x1="401.1" x2="401.1" y1="28.2" y2="128.2" stroke="#111" stroke-width="1.5"/>
<path d="M400.6 127.7h-2.9M400.6 120.21h-1.2M400.6 115.83h-1.2M400.6 112.72h-1.2M400.6 110.31h-1.2M400.6 108.34h-1.2M400.6 106.68h-1.2M400.6 105.24h-1.2M400.6 103.96h-1.2M400.6 102.83h-2.9M400.6 95.34h-1.2M400.6 90.96h-1.2M400.6 87.85h-1.2M400.6 85.44h-1.2M400.6 83.47h-1.2M400.6 81.8h-1.2M400.6 80.36h-1.2M400.6 79.09h-1.2M400.6 77.95h-2.9M400.6 70.46h-1.2M400.6 66.08h-1.2M400.6 62.97h-1.2M400.6 60.56h-1.2M400.6 58.59h-1.2M400.6 56.93h-1.2M400.6 55.49h-1.2M400.6 54.21h-1.2M400.6 53.08h-2.9M400.6 45.59h-1.2M400.6 41.21h-1.2M400.6 38.1h-1.2M400.6 35.69h-1.2M400.6 33.72h-1.2M400.6 32.05h-1.2M400.6 30.61h-1.2M400.6 29.34h-1.2M400.6 28.2h-2.9" stroke="#222" stroke-width="0.8" fill="none"/>
<path d="M401.65 128v2.6M407.06 128v1.3M412.46 128v1.3M417.87 128v1.3M423.28 128v2.6M428.69 128v1.3M434.09 128v1.3M439.5 128v1.3M444.91 128v2.6M450.32 128v1.3M455.72 128v1.3M461.13 128v1.3M466.54 128v2.6M471.95 128v1.3M477.35 128v1.3M482.76 128v1.3M488.17 128v2.6M493.58 128v1.3M498.98 128v1.3M504.39 128v1.3M509.8 128v2.6" stroke="#222" stroke-width="0.8" fill="none"/>
<text transform="translate(400.8 142.4) scale(0.9 1)" font-size="9.6" stroke="#111" stroke-width="0.15" text-anchor="middle">0</text>
<text transform="translate(422.3 142.4) scale(0.9 1)" font-size="9.6" stroke="#111" stroke-width="0.15" text-anchor="middle">200</text>
<text transform="translate(443.8 142.4) scale(0.9 1)" font-size="9.6" stroke="#111" stroke-width="0.15" text-anchor="middle">400</text>
<text transform="translate(465.5 142.4) scale(0.9 1)" font-size="9.6" stroke="#111" stroke-width="0.15" text-anchor="middle">600</text>
<text transform="translate(487.2 142.4) scale(0.9 1)" font-size="9.6" stroke="#111" stroke-width="0.15" text-anchor="middle">800</text>
<text transform="translate(510.9 142.4) scale(0.9 1)" font-size="9.6" stroke="#111" stroke-width="0.15" text-anchor="middle">1000</text>
<text transform="translate(460.3 152.8) scale(0.92 1)" font-size="9.3" stroke="#111" stroke-width="0.15" text-anchor="middle">Side Scatter</text>
<text transform="translate(393.4 129.2) rotate(-90) scale(1.03 1)" font-size="8.4" stroke="#111" stroke-width="0.15">10<tspan dy="-2.6" font-size="5.6">0</tspan></text>
<text transform="translate(393.4 107.5) rotate(-90) scale(1.03 1)" font-size="8.4" stroke="#111" stroke-width="0.15">10<tspan dy="-2.6" font-size="5.6">1</tspan></text>
<text transform="translate(393.4 84.5) rotate(-90) scale(1.03 1)" font-size="8.4" stroke="#111" stroke-width="0.15">10<tspan dy="-2.6" font-size="5.6">2</tspan></text>
<text transform="translate(393.4 59.6) rotate(-90) scale(1.03 1)" font-size="8.4" stroke="#111" stroke-width="0.15">10<tspan dy="-2.6" font-size="5.6">3</tspan></text>
<text transform="translate(393.4 35.45) rotate(-90) scale(1.03 1)" font-size="8.4" stroke="#111" stroke-width="0.15">10<tspan dy="-2.6" font-size="5.6">4</tspan></text>
<text transform="translate(383 77.1) rotate(-90) scale(0.95 1)" font-size="8" stroke="#111" stroke-width="0.15" text-anchor="middle">Propidium Iodide</text>
<text x="370.8" y="36.4" font-family='"Liberation Sans", sans-serif' font-weight="bold" font-size="18.7" stroke="#111" stroke-width="0.5">C</text>
<text transform="translate(509.1 43) scale(0.98 1)" font-weight="bold" font-style="italic" font-size="16.8" stroke="#111" stroke-width="0.45" stroke-linejoin="round" text-anchor="end">%</text><text transform="translate(495.3 43) scale(1.02 1)" font-weight="bold" font-size="17.4" stroke="#111" stroke-width="0.45" stroke-linejoin="round" text-anchor="end">39</text>
<text transform="translate(511.1 125.9) scale(0.98 1)" font-weight="bold" font-style="italic" font-size="16.8" stroke="#111" stroke-width="0.45" stroke-linejoin="round" text-anchor="end">%</text><text transform="translate(494.5 125.9) scale(1.02 1)" font-weight="bold" font-size="17.4" stroke="#111" stroke-width="0.45" stroke-linejoin="round" text-anchor="end">61</text>
</g>
<g>
<rect x="90.4" y="168.6" width="112.5" height="99.5" fill="#f3f3f3"/>
<g filter="url(#soft)" fill="none" stroke="#000" stroke-width="1.25"><path d="M198 185.5h1M131 203.5h1M136 203.5h1M177 204.5h1M196 204.5h1M201 204.5h1M124 205.5h1M151 205.5h1M163 205.5h1M197 205.5h1M197 206.5h1M156 207.5h1M111 208.5h1M150 208.5h1M163 208.5h1M171 208.5h1M175 208.5h1M196 208.5h1M110 209.5h1M120 209.5h1M141 209.5h1M181 209.5h1M105 210.5h1M131 210.5h1M139 210.5h1M143 210.5h1M180 210.5h1M187 210.5h3M192 210.5h1M113 211.5h1M154 211.5h1M168 211.5h1M172 211.5h1M175 211.5h1M181 211.5h1M190 211.5h1M196 211.5h1M117 212.5h1M119 212.5h1M139 212.5h1M162 212.5h2M166 212.5h1M179 212.5h1M187 212.5h1M120 213.5h1M134 213.5h1M137 213.5h1M146 213.5h2M164 213.5h1M166 213.5h1M172 213.5h1M136 214.5h1M168 214.5h1M177 214.5h1M179 214.5h1M197 214.5h1M200 214.5h1M110 215.5h3M127 215.5h1M130 215.5h1M138 215.5h1M140 215.5h1M178 215.5h1M180 215.5h1M194 215.5h1M105 216.5h2M122 216.5h1M128 216.5h1M143 216.5h1M158 216.5h1M160 216.5h2M185 216.5h1M197 216.5h1M111 217.5h1M114 217.5h1M116 217.5h1M122 217.5h1M125 217.5h1M136 217.5h1M183 217.5h1M110 218.5h1M115 218.5h1M118 218.5h1M120 218.5h1M123 218.5h1M127 218.5h1M131 218.5h1M134 218.5h1M136 218.5h1M147 218.5h1M150 218.5h1M168 218.5h1M171 218.5h1M178 218.5h1M99 219.5h1M106 219.5h1M117 219.5h1M140 219.5h1M158 219.5h1M161 219.5h1M190 219.5h1M199 219.5h1M110 220.5h1M115 220.5h1M117 220.5h1M155 220.5h2M184 220.5h1M186 220.5h1M194 220.5h2M116 221.5h1M125 221.5h1M130 221.5h1M149 221.5h1M159 221.5h1M164 221.5h1M199 221.5h1M201 221.5h1M110 222.5h1M120 222.5h2M144 222.5h1M147 222.5h1M158 222.5h1M181 222.5h1M183 222.5h1M187 222.5h1M198 222.5h1M201 222.5h1M123 223.5h1M146 223.5h1M152 223.5h2M163 223.5h1M172 223.5h1M179 223.5h1M183 223.5h1M198 223.5h1M201 223.5h1M111 224.5h1M129 224.5h1M139 224.5h1M142 224.5h1M145 224.5h1M168 224.5h1M177 224.5h1M185 224.5h1M187 224.5h2M198 224.5h1M105 225.5h1M123 225.5h2M131 225.5h1M136 225.5h1M149 225.5h2M154 225.5h1M158 225.5h1M160 225.5h1M164 225.5h3M186 225.5h1M190 225.5h1M194 225.5h1M198 225.5h1M126 226.5h1M130 226.5h1M132 226.5h1M158 226.5h1M162 226.5h1M173 226.5h1M180 226.5h1M183 226.5h1M189 226.5h1M121 227.5h1M125 227.5h1M135 227.5h1M141 227.5h1M143 227.5h1M163 227.5h1M168 227.5h1M173 227.5h1M180 227.5h1M186 227.5h1M201 227.5h1M116 228.5h2M119 228.5h2M132 228.5h1M134 228.5h1M150 228.5h1M154 228.5h1M161 228.5h1M166 228.5h1M168 228.5h1M183 228.5h1M185 228.5h1M188 228.5h2M194 228.5h1M201 228.5h1M117 229.5h1M128 229.5h1M130 229.5h1M135 229.5h4M145 229.5h2M150 229.5h2M153 229.5h1M155 229.5h1M157 229.5h3M164 229.5h1M166 229.5h1M168 229.5h1M170 229.5h1M173 229.5h1M175 229.5h2M185 229.5h1M187 229.5h2M196 229.5h1M106 230.5h3M119 230.5h1M131 230.5h1M141 230.5h3M150 230.5h2M164 230.5h1M169 230.5h1M171 230.5h1M182 230.5h1M185 230.5h2M189 230.5h1M192 230.5h1M195 230.5h1M199 230.5h1M201 230.5h1M110 231.5h1M117 231.5h1M123 231.5h1M126 231.5h1M130 231.5h1M135 231.5h1M142 231.5h1M150 231.5h1M152 231.5h1M158 231.5h1M160 231.5h1M165 231.5h2M169 231.5h1M183 231.5h1M199 231.5h1M201 231.5h1M107 232.5h1M110 232.5h1M117 232.5h1M119 232.5h2M130 232.5h2M139 232.5h1M143 232.5h1M153 232.5h1M156 232.5h1M161 232.5h1M164 232.5h1M168 232.5h1M172 232.5h1M174 232.5h2M181 232.5h1M187 232.5h1M189 232.5h1M196 232.5h2M199 232.5h1M109 233.5h1M111 233.5h1M124 233.5h1M128 233.5h1M134 233.5h1M137 233.5h2M144 233.5h1M147 233.5h1M151 233.5h1M156 233.5h1M159 233.5h1M164 233.5h2M167 233.5h2M171 233.5h1M173 233.5h1M179 233.5h1M181 233.5h1M188 233.5h1M195 233.5h1M198 233.5h1M201 233.5h1M109 234.5h1M120 234.5h1M126 234.5h1M129 234.5h1M134 234.5h1M136 234.5h1M144 234.5h1M146 234.5h1M152 234.5h1M154 234.5h1M160 234.5h1M162 234.5h1M179 234.5h2M183 234.5h1M185 234.5h1M189 234.5h1M192 234.5h1M194 234.5h1M200 234.5h2M112 235.5h1M114 235.5h3M118 235.5h1M126 235.5h1M130 235.5h1M133 235.5h1M136 235.5h1M140 235.5h1M142 235.5h1M148 235.5h2M152 235.5h4M165 235.5h1M172 235.5h1M175 235.5h2M178 235.5h1M181 235.5h1M183 235.5h1M185 235.5h1M189 235.5h1M191 235.5h1M199 235.5h1M201 235.5h1M94 236.5h1M112 236.5h1M114 236.5h1M116 236.5h1M123 236.5h1M125 236.5h1M128 236.5h1M131 236.5h1M135 236.5h1M137 236.5h1M140 236.5h1M142 236.5h1M154 236.5h4M160 236.5h1M163 236.5h1M166 236.5h1M173 236.5h2M178 236.5h1M182 236.5h1M185 236.5h1M194 236.5h1M199 236.5h1M201 236.5h1M113 237.5h1M124 237.5h1M126 237.5h1M133 237.5h1M138 237.5h2M141 237.5h3M148 237.5h4M154 237.5h1M157 237.5h1M159 237.5h1M161 237.5h1M165 237.5h1M168 237.5h2M175 237.5h2M180 237.5h1M182 237.5h1M186 237.5h1M192 237.5h1M194 237.5h2M198 237.5h1M201 237.5h1M109 238.5h1M111 238.5h1M113 238.5h1M124 238.5h2M132 238.5h1M136 238.5h3M144 238.5h1M146 238.5h1M148 238.5h1M150 238.5h2M156 238.5h3M160 238.5h1M165 238.5h3M176 238.5h1M178 238.5h1M185 238.5h3M189 238.5h2M192 238.5h1M194 238.5h2M199 238.5h1M201 238.5h1M109 239.5h1M114 239.5h1M129 239.5h3M135 239.5h2M139 239.5h1M142 239.5h1M146 239.5h1M148 239.5h2M151 239.5h1M154 239.5h1M158 239.5h1M163 239.5h1M165 239.5h1M169 239.5h2M172 239.5h2M176 239.5h2M179 239.5h1M183 239.5h2M186 239.5h1M192 239.5h1M194 239.5h1M196 239.5h1M199 239.5h1M201 239.5h1M110 240.5h1M118 240.5h1M122 240.5h1M125 240.5h1M130 240.5h2M134 240.5h2M139 240.5h1M141 240.5h2M144 240.5h2M150 240.5h2M153 240.5h2M156 240.5h3M161 240.5h1M165 240.5h2M168 240.5h1M171 240.5h1M174 240.5h1M176 240.5h1M181 240.5h1M183 240.5h1M185 240.5h2M192 240.5h1M194 240.5h1M197 240.5h1M199 240.5h3M102 241.5h1M104 241.5h1M112 241.5h1M115 241.5h1M119 241.5h1M129 241.5h2M133 241.5h1M135 241.5h2M139 241.5h1M141 241.5h1M146 241.5h1M148 241.5h2M152 241.5h1M156 241.5h1M158 241.5h1M163 241.5h2M167 241.5h1M169 241.5h1M171 241.5h1M176 241.5h1M180 241.5h3M185 241.5h1M189 241.5h1M191 241.5h1M194 241.5h1M196 241.5h1M199 241.5h3M106 242.5h1M109 242.5h3M118 242.5h3M122 242.5h1M125 242.5h1M128 242.5h1M134 242.5h1M139 242.5h3M144 242.5h1M146 242.5h2M149 242.5h1M156 242.5h1M158 242.5h2M162 242.5h2M165 242.5h3M170 242.5h1M174 242.5h3M181 242.5h1M184 242.5h1M187 242.5h3M192 242.5h1M197 242.5h1M200 242.5h2M100 243.5h1M104 243.5h1M110 243.5h1M112 243.5h2M115 243.5h1M118 243.5h1M127 243.5h1M129 243.5h2M133 243.5h3M140 243.5h1M142 243.5h1M144 243.5h1M146 243.5h1M148 243.5h1M152 243.5h1M155 243.5h1M157 243.5h1M159 243.5h2M162 243.5h1M165 243.5h1M168 243.5h1M170 243.5h1M172 243.5h3M176 243.5h2M180 243.5h1M182 243.5h1M190 243.5h4M198 243.5h1M200 243.5h2M100 244.5h1M102 244.5h2M109 244.5h2M120 244.5h3M127 244.5h2M130 244.5h2M134 244.5h2M138 244.5h1M140 244.5h2M145 244.5h1M149 244.5h5M155 244.5h1M159 244.5h1M163 244.5h4M168 244.5h1M170 244.5h5M176 244.5h1M178 244.5h1M180 244.5h2M183 244.5h1M185 244.5h1M187 244.5h2M191 244.5h1M197 244.5h1M199 244.5h3M110 245.5h2M115 245.5h1M118 245.5h2M121 245.5h3M125 245.5h1M127 245.5h2M133 245.5h1M135 245.5h2M139 245.5h2M142 245.5h1M144 245.5h3M149 245.5h1M152 245.5h5M158 245.5h4M163 245.5h2M167 245.5h1M169 245.5h1M171 245.5h2M176 245.5h1M178 245.5h1M180 245.5h1M184 245.5h3M188 245.5h2M191 245.5h1M197 245.5h2M103 246.5h2M111 246.5h1M114 246.5h1M119 246.5h1M123 246.5h2M127 246.5h1M130 246.5h1M133 246.5h2M136 246.5h2M139 246.5h3M145 246.5h3M149 246.5h1M151 246.5h1M154 246.5h2M161 246.5h6M168 246.5h3M172 246.5h2M175 246.5h1M177 246.5h1M180 246.5h2M183 246.5h2M187 246.5h1M189 246.5h1M201 246.5h1M99 247.5h1M101 247.5h1M103 247.5h1M112 247.5h1M115 247.5h1M117 247.5h2M120 247.5h1M127 247.5h1M131 247.5h1M133 247.5h1M135 247.5h10M152 247.5h3M156 247.5h11M170 247.5h7M178 247.5h1M180 247.5h1M183 247.5h1M189 247.5h1M196 247.5h1M198 247.5h1M201 247.5h1M100 248.5h1M102 248.5h1M108 248.5h4M114 248.5h2M117 248.5h2M121 248.5h2M125 248.5h2M130 248.5h3M134 248.5h1M136 248.5h2M142 248.5h3M146 248.5h3M150 248.5h1M152 248.5h1M154 248.5h2M157 248.5h5M164 248.5h3M169 248.5h6M176 248.5h1M178 248.5h3M183 248.5h4M190 248.5h1M192 248.5h1M195 248.5h1M96 249.5h1M100 249.5h1M103 249.5h2M107 249.5h1M111 249.5h2M114 249.5h1M116 249.5h2M121 249.5h6M129 249.5h3M133 249.5h4M138 249.5h4M143 249.5h3M148 249.5h2M151 249.5h2M157 249.5h1M159 249.5h1M163 249.5h1M168 249.5h4M178 249.5h1M183 249.5h1M186 249.5h1M194 249.5h1M201 249.5h1M97 250.5h1M101 250.5h1M103 250.5h1M105 250.5h1M107 250.5h1M109 250.5h1M112 250.5h2M117 250.5h1M119 250.5h1M121 250.5h1M123 250.5h1M127 250.5h1M129 250.5h3M134 250.5h1M137 250.5h2M140 250.5h1M142 250.5h15M158 250.5h2M162 250.5h1M165 250.5h3M169 250.5h7M177 250.5h1M183 250.5h2M187 250.5h1M196 250.5h1M99 251.5h4M104 251.5h2M107 251.5h4M112 251.5h1M114 251.5h1M116 251.5h7M124 251.5h2M127 251.5h5M133 251.5h3M137 251.5h5M143 251.5h6M150 251.5h5M156 251.5h3M160 251.5h3M164 251.5h2M169 251.5h2M173 251.5h3M190 251.5h1M192 251.5h1M97 252.5h1M99 252.5h1M101 252.5h3M105 252.5h6M112 252.5h5M118 252.5h3M122 252.5h16M139 252.5h2M142 252.5h6M149 252.5h3M154 252.5h2M157 252.5h4M162 252.5h1M164 252.5h1M166 252.5h1M168 252.5h2M176 252.5h1M178 252.5h2M189 252.5h1M99 253.5h1M103 253.5h2M106 253.5h5M112 253.5h1M114 253.5h5M121 253.5h4M126 253.5h1M128 253.5h13M142 253.5h1M144 253.5h9M156 253.5h6M163 253.5h1M166 253.5h1M169 253.5h1M171 253.5h1M177 253.5h2M96 254.5h1M101 254.5h2M104 254.5h2M107 254.5h2M111 254.5h10M122 254.5h30M153 254.5h8M162 254.5h1M166 254.5h4M175 254.5h1M179 254.5h1M99 255.5h1M101 255.5h2M104 255.5h9M114 255.5h22M137 255.5h4M142 255.5h5M148 255.5h1M150 255.5h1M152 255.5h3M156 255.5h1M159 255.5h1M162 255.5h3M172 255.5h1M175 255.5h1M94 256.5h3M98 256.5h2M101 256.5h25M127 256.5h13M141 256.5h2M144 256.5h3M148 256.5h1M151 256.5h2M156 256.5h2M159 256.5h4M172 256.5h1M178 256.5h1M99 257.5h2M104 257.5h1M107 257.5h1M109 257.5h4M114 257.5h22M137 257.5h4M142 257.5h2M145 257.5h2M149 257.5h1M153 257.5h4M172 257.5h1M91 258.5h1M97 258.5h1M101 258.5h2M104 258.5h1M106 258.5h39M146 258.5h2M150 258.5h1M153 258.5h1M155 258.5h1M99 259.5h11M111 259.5h7M119 259.5h15M135 259.5h4M140 259.5h2M146 259.5h1M148 259.5h1M151 259.5h4M157 259.5h2M93 260.5h1M99 260.5h2M102 260.5h5M108 260.5h4M113 260.5h25M139 260.5h2M146 260.5h1M148 260.5h1M151 260.5h1M96 261.5h1M98 261.5h4M103 261.5h1M105 261.5h3M109 261.5h1M111 261.5h14M126 261.5h4M131 261.5h4M136 261.5h1M138 261.5h3M142 261.5h2M145 261.5h1M100 262.5h11M113 262.5h10M124 262.5h1M126 262.5h1M128 262.5h9M138 262.5h1M147 262.5h2M91 263.5h1M96 263.5h1M98 263.5h2M101 263.5h5M107 263.5h16M124 263.5h1M126 263.5h2M129 263.5h2M134 263.5h1M96 264.5h1M98 264.5h4M103 264.5h2M106 264.5h15M122 264.5h1M125 264.5h2M128 264.5h1M142 264.5h1M150 264.5h1M99 265.5h21M121 265.5h3M141 265.5h1M96 266.5h2M100 266.5h1M102 266.5h1M104 266.5h5M110 266.5h6M118 266.5h1M122 266.5h1M124 266.5h1M129 266.5h1M138 266.5h1M91 267.5h1M96 267.5h1M98 267.5h19M118 267.5h1M120 267.5h1M123 267.5h1M132 267.5h1" opacity="0.86"/><path d="M192 198.5h1M194 198.5h1M173 205.5h1M190 205.5h2M158 206.5h1M195 206.5h1M153 207.5h1M171 207.5h1M190 207.5h1M190 208.5h1M186 209.5h1M128 210.5h1M164 210.5h1M172 210.5h1M177 210.5h1M115 211.5h1M153 211.5h1M121 212.5h1M144 212.5h1M154 212.5h1M158 212.5h1M178 212.5h1M118 213.5h1M130 213.5h1M154 213.5h1M175 213.5h2M105 214.5h1M115 214.5h1M120 214.5h1M149 214.5h1M154 214.5h1M192 214.5h1M104 215.5h1M124 215.5h1M157 215.5h1M170 215.5h1M189 215.5h1M195 215.5h1M136 216.5h1M155 216.5h1M199 216.5h1M117 217.5h1M124 217.5h1M151 217.5h1M155 217.5h1M163 217.5h1M190 217.5h1M114 218.5h1M143 218.5h1M146 218.5h1M159 218.5h1M161 218.5h1M164 218.5h1M196 218.5h1M119 219.5h1M147 219.5h1M163 219.5h1M104 220.5h1M109 220.5h1M123 220.5h1M174 220.5h1M114 221.5h1M134 221.5h2M138 221.5h2M153 221.5h1M190 221.5h1M155 222.5h1M160 222.5h1M174 222.5h1M150 223.5h1M160 223.5h1M185 223.5h1M123 224.5h1M141 224.5h1M147 225.5h1M188 225.5h2M196 225.5h1M190 226.5h1M195 226.5h1M120 227.5h1M127 227.5h1M155 227.5h1M189 227.5h1M193 227.5h1M196 227.5h1M118 228.5h1M126 228.5h2M156 228.5h1M164 228.5h1M173 228.5h1M178 228.5h1M184 228.5h1M195 228.5h1M200 228.5h1M115 229.5h1M143 229.5h1M148 229.5h1M160 229.5h1M181 229.5h2M184 229.5h1M192 229.5h1M195 229.5h1M122 230.5h1M137 230.5h1M168 230.5h1M172 230.5h1M187 230.5h1M197 230.5h2M114 231.5h1M128 231.5h1M157 231.5h1M170 231.5h1M173 231.5h1M184 231.5h1M192 231.5h2M196 231.5h1M124 232.5h1M138 232.5h1M144 232.5h1M146 232.5h1M157 232.5h1M159 232.5h1M177 232.5h1M193 232.5h1M116 233.5h1M119 233.5h1M132 233.5h1M143 233.5h1M148 233.5h1M154 233.5h1M169 233.5h2M176 233.5h1M184 233.5h1M189 233.5h1M196 233.5h2M107 234.5h1M130 234.5h1M139 234.5h2M147 234.5h1M161 234.5h1M168 234.5h1M174 234.5h1M177 234.5h1M199 234.5h1M110 235.5h1M125 235.5h1M129 235.5h1M137 235.5h1M145 235.5h1M151 235.5h1M156 235.5h1M160 235.5h1M162 235.5h1M164 235.5h1M182 235.5h1M187 235.5h2M200 235.5h1M113 236.5h1M145 236.5h2M150 236.5h1M153 236.5h1M162 236.5h1M165 236.5h1M167 236.5h1M179 236.5h1M197 236.5h1M109 237.5h2M121 237.5h1M137 237.5h1M147 237.5h1M155 237.5h1M160 237.5h1M167 237.5h1M173 237.5h1M179 237.5h1M184 237.5h1M193 237.5h1M197 237.5h1M199 237.5h1M123 238.5h1M130 238.5h1M139 238.5h1M143 238.5h1M145 238.5h1M153 238.5h2M162 238.5h1M180 238.5h1M183 238.5h2M191 238.5h1M115 239.5h2M157 239.5h1M159 239.5h1M174 239.5h1M188 239.5h1M115 240.5h1M123 240.5h1M140 240.5h1M146 240.5h1M172 240.5h1M175 240.5h1M179 240.5h1M190 240.5h1M106 241.5h1M111 241.5h1M113 241.5h1M126 241.5h1M137 241.5h2M144 241.5h2M147 241.5h1M150 241.5h2M153 241.5h2M159 241.5h1M161 241.5h1M168 241.5h1M184 241.5h1M190 241.5h1M198 241.5h1M104 242.5h1M108 242.5h1M113 242.5h1M121 242.5h1M123 242.5h1M129 242.5h1M131 242.5h2M136 242.5h3M145 242.5h1M151 242.5h1M153 242.5h1M161 242.5h1M182 242.5h1M185 242.5h2M190 242.5h1M131 243.5h1M136 243.5h1M143 243.5h1M149 243.5h1M151 243.5h1M153 243.5h1M156 243.5h1M184 243.5h1M188 243.5h1M196 243.5h1M199 243.5h1M115 244.5h1M118 244.5h1M124 244.5h1M136 244.5h2M143 244.5h1M148 244.5h1M158 244.5h1M160 244.5h2M167 244.5h1M175 244.5h1M177 244.5h1M179 244.5h1M186 244.5h1M190 244.5h1M194 244.5h1M196 244.5h1M112 245.5h1M116 245.5h1M126 245.5h1M131 245.5h1M134 245.5h1M137 245.5h2M150 245.5h2M162 245.5h1M170 245.5h1M173 245.5h2M177 245.5h1M182 245.5h2M190 245.5h1M193 245.5h3M201 245.5h1M116 246.5h1M126 246.5h1M132 246.5h1M138 246.5h1M144 246.5h1M150 246.5h1M152 246.5h1M156 246.5h1M160 246.5h1M174 246.5h1M182 246.5h1M188 246.5h1M191 246.5h1M114 247.5h1M119 247.5h1M121 247.5h1M124 247.5h1M126 247.5h1M128 247.5h2M145 247.5h2M148 247.5h1M151 247.5h1M167 247.5h1M169 247.5h1M177 247.5h1M182 247.5h1M186 247.5h1M192 247.5h1M194 247.5h1M97 248.5h1M104 248.5h1M107 248.5h1M120 248.5h1M124 248.5h1M133 248.5h1M140 248.5h1M149 248.5h1M153 248.5h1M162 248.5h1M168 248.5h1M191 248.5h1M201 248.5h1M102 249.5h1M109 249.5h2M113 249.5h1M120 249.5h1M127 249.5h2M132 249.5h1M137 249.5h1M146 249.5h1M153 249.5h4M158 249.5h1M161 249.5h1M165 249.5h1M173 249.5h1M177 249.5h1M179 249.5h1M184 249.5h1M104 250.5h1M108 250.5h1M115 250.5h1M120 250.5h1M122 250.5h1M124 250.5h1M126 250.5h1M133 250.5h1M136 250.5h1M139 250.5h1M157 250.5h1M163 250.5h1M181 250.5h1M185 250.5h1M201 250.5h1M96 251.5h1M111 251.5h1M113 251.5h1M142 251.5h1M149 251.5h1M155 251.5h1M163 251.5h1M171 251.5h2M176 251.5h1M196 251.5h1M94 252.5h1M98 252.5h1M104 252.5h1M117 252.5h1M121 252.5h1M138 252.5h1M152 252.5h2M156 252.5h1M161 252.5h1M163 252.5h1M172 252.5h1M183 252.5h1M197 252.5h1M105 253.5h1M113 253.5h1M119 253.5h1M141 253.5h1M155 253.5h1M165 253.5h1M168 253.5h1M172 253.5h1M186 253.5h1M97 254.5h1M100 254.5h1M103 254.5h1M106 254.5h1M109 254.5h1M121 254.5h1M152 254.5h1M95 255.5h1M100 255.5h1M103 255.5h1M113 255.5h1M151 255.5h1M155 255.5h1M158 255.5h1M168 255.5h1M171 255.5h1M126 256.5h1M140 256.5h1M143 256.5h1M149 256.5h2M164 256.5h1M166 256.5h2M102 257.5h1M105 257.5h1M108 257.5h1M113 257.5h1M136 257.5h1M141 257.5h1M147 257.5h1M150 257.5h1M152 257.5h1M166 257.5h1M169 257.5h1M175 257.5h1M95 258.5h1M103 258.5h1M105 258.5h1M145 258.5h1M148 258.5h1M177 258.5h1M96 259.5h1M110 259.5h1M118 259.5h1M134 259.5h1M139 259.5h1M147 259.5h1M107 260.5h1M112 260.5h1M138 260.5h1M143 260.5h1M159 260.5h1M97 261.5h1M102 261.5h1M104 261.5h1M108 261.5h1M110 261.5h1M125 261.5h1M130 261.5h1M137 261.5h1M148 261.5h1M98 262.5h1M111 262.5h1M123 262.5h1M125 262.5h1M137 262.5h1M95 263.5h1M97 263.5h1M100 263.5h1M125 263.5h1M128 263.5h1M131 263.5h2M136 263.5h1M139 263.5h1M155 263.5h1M160 263.5h1M102 264.5h1M127 264.5h1M133 264.5h1M135 264.5h2M91 265.5h1M97 265.5h2M133 265.5h1M101 266.5h1M103 266.5h1M109 266.5h1M116 266.5h1M119 266.5h2M93 267.5h1M117 267.5h1M119 267.5h1M121 267.5h1M125 267.5h1M127 267.5h1" opacity="0.47"/></g>
<ellipse cx="112.9" cy="262.4" rx="15" ry="4.4" transform="rotate(-18 112.9 262.4)" fill="#909090" filter="url(#coreblur)"/>
<line x1="90.4" x2="202.9" y1="223.5" y2="223.5" stroke="#2a2a2a" stroke-width="1"/>
<line x1="89.6" x2="203.4" y1="168.6" y2="168.6" stroke="#4a4a4a" stroke-width="1.2"/>
<line x1="202.9" x2="202.9" y1="168.6" y2="268.6" stroke="#222" stroke-width="1"/>
<line x1="89.6" x2="202.9" y1="268.1" y2="268.1" stroke="#222" stroke-width="1"/>
<line x1="91.1" x2="91.1" y1="168.6" y2="268.6" stroke="#111" stroke-width="1.5"/>
<path d="M90.6 268.1h-2.9M90.6 260.61h-1.2M90.6 256.23h-1.2M90.6 253.12h-1.2M90.6 250.71h-1.2M90.6 248.74h-1.2M90.6 247.08h-1.2M90.6 245.64h-1.2M90.6 244.36h-1.2M90.6 243.23h-2.9M90.6 235.74h-1.2M90.6 231.36h-1.2M90.6 228.25h-1.2M90.6 225.84h-1.2M90.6 223.87h-1.2M90.6 222.2h-1.2M90.6 220.76h-1.2M90.6 219.49h-1.2M90.6 218.35h-2.9M90.6 210.86h-1.2M90.6 206.48h-1.2M90.6 203.37h-1.2M90.6 200.96h-1.2M90.6 198.99h-1.2M90.6 197.33h-1.2M90.6 195.89h-1.2M90.6 194.61h-1.2M90.6 193.48h-2.9M90.6 185.99h-1.2M90.6 181.61h-1.2M90.6 178.5h-1.2M90.6 176.09h-1.2M90.6 174.12h-1.2M90.6 172.45h-1.2M90.6 171.01h-1.2M90.6 169.74h-1.2M90.6 168.6h-2.9" stroke="#222" stroke-width="0.8" fill="none"/>
<path d="M91.65 268.4v2.6M97.06 268.4v1.3M102.47 268.4v1.3M107.87 268.4v1.3M113.28 268.4v2.6M118.69 268.4v1.3M124.09 268.4v1.3M129.5 268.4v1.3M134.91 268.4v2.6M140.32 268.4v1.3M145.72 268.4v1.3M151.13 268.4v1.3M156.54 268.4v2.6M161.95 268.4v1.3M167.36 268.4v1.3M172.76 268.4v1.3M178.17 268.4v2.6M183.58 268.4v1.3M188.99 268.4v1.3M194.39 268.4v1.3M199.8 268.4v2.6" stroke="#222" stroke-width="0.8" fill="none"/>
<text transform="translate(90.6 282.8) scale(0.9 1)" font-size="9.6" stroke="#111" stroke-width="0.15" text-anchor="middle">0</text>
<text transform="translate(114.2 282.8) scale(0.9 1)" font-size="9.6" stroke="#111" stroke-width="0.15" text-anchor="middle">200</text>
<text transform="translate(135.7 282.8) scale(0.9 1)" font-size="9.6" stroke="#111" stroke-width="0.15" text-anchor="middle">400</text>
<text transform="translate(157.1 282.8) scale(0.9 1)" font-size="9.6" stroke="#111" stroke-width="0.15" text-anchor="middle">600</text>
<text transform="translate(179.1 282.8) scale(0.9 1)" font-size="9.6" stroke="#111" stroke-width="0.15" text-anchor="middle">800</text>
<text transform="translate(202.9 282.8) scale(0.9 1)" font-size="9.6" stroke="#111" stroke-width="0.15" text-anchor="middle">1000</text>
<text transform="translate(150.3 292.7) scale(0.92 1)" font-size="9.3" stroke="#111" stroke-width="0.15" text-anchor="middle">Side Scatter</text>
<text transform="translate(83.4 269.6) rotate(-90) scale(1.03 1)" font-size="8.4" stroke="#111" stroke-width="0.15">10<tspan dy="-2.6" font-size="5.6">0</tspan></text>
<text transform="translate(83.4 247.9) rotate(-90) scale(1.03 1)" font-size="8.4" stroke="#111" stroke-width="0.15">10<tspan dy="-2.6" font-size="5.6">1</tspan></text>
<text transform="translate(83.4 224.9) rotate(-90) scale(1.03 1)" font-size="8.4" stroke="#111" stroke-width="0.15">10<tspan dy="-2.6" font-size="5.6">2</tspan></text>
<text transform="translate(83.4 200) rotate(-90) scale(1.03 1)" font-size="8.4" stroke="#111" stroke-width="0.15">10<tspan dy="-2.6" font-size="5.6">3</tspan></text>
<text transform="translate(83.4 175.85) rotate(-90) scale(1.03 1)" font-size="8.4" stroke="#111" stroke-width="0.15">10<tspan dy="-2.6" font-size="5.6">4</tspan></text>
<text transform="translate(73 218.4) rotate(-90) scale(0.95 1)" font-size="8" stroke="#111" stroke-width="0.15" text-anchor="middle">Propidium Iodide</text>
<text x="57.3" y="177.4" font-family='"Liberation Sans", sans-serif' font-weight="bold" font-size="18.7" stroke="#111" stroke-width="0.5">D</text>
<text transform="translate(199.7 182) scale(0.98 1)" font-weight="bold" font-style="italic" font-size="16.8" stroke="#111" stroke-width="0.45" stroke-linejoin="round" text-anchor="end">%</text><text transform="translate(184.5 182) scale(1.02 1)" font-weight="bold" font-size="17.4" stroke="#111" stroke-width="0.45" stroke-linejoin="round" text-anchor="end">2</text>
<text transform="translate(201.1 265.7) scale(0.98 1)" font-weight="bold" font-style="italic" font-size="16.8" stroke="#111" stroke-width="0.45" stroke-linejoin="round" text-anchor="end">%</text><text transform="translate(186.3 265.7) scale(1.02 1)" font-weight="bold" font-size="17.4" stroke="#111" stroke-width="0.45" stroke-linejoin="round" text-anchor="end">98</text>
</g>
<g>
<rect x="245.6" y="168.7" width="112.5" height="99.5" fill="#f3f3f3"/>
<g filter="url(#soft)" fill="none" stroke="#000" stroke-width="1.25"><path d="M349 182.5h1M275 192.5h1M304 194.5h1M275 197.5h1M312 200.5h1M345 200.5h1M357 200.5h1M334 201.5h1M355 201.5h1M344 202.5h1M346 202.5h1M348 202.5h1M351 202.5h1M291 203.5h1M340 203.5h1M346 203.5h2M349 203.5h1M357 203.5h1M300 204.5h1M302 204.5h1M312 204.5h1M344 204.5h1M350 204.5h1M260 205.5h1M272 205.5h1M278 205.5h1M286 205.5h1M297 205.5h1M299 205.5h1M304 205.5h1M310 205.5h1M330 205.5h1M357 205.5h1M277 206.5h1M286 206.5h1M288 206.5h1M292 206.5h1M295 206.5h2M298 206.5h1M305 206.5h1M307 206.5h1M309 206.5h1M311 206.5h1M314 206.5h1M317 206.5h1M327 206.5h4M345 206.5h1M347 206.5h1M349 206.5h1M269 207.5h1M276 207.5h1M288 207.5h3M293 207.5h2M303 207.5h1M306 207.5h1M310 207.5h2M313 207.5h1M331 207.5h1M339 207.5h1M346 207.5h1M356 207.5h2M253 208.5h1M272 208.5h1M276 208.5h1M281 208.5h1M283 208.5h2M286 208.5h1M289 208.5h2M294 208.5h1M297 208.5h2M301 208.5h1M305 208.5h1M320 208.5h1M325 208.5h1M345 208.5h3M351 208.5h1M357 208.5h1M262 209.5h1M264 209.5h1M268 209.5h1M270 209.5h3M275 209.5h1M280 209.5h1M282 209.5h6M289 209.5h2M292 209.5h8M302 209.5h1M307 209.5h1M313 209.5h1M315 209.5h1M317 209.5h1M322 209.5h1M325 209.5h1M333 209.5h1M335 209.5h1M338 209.5h1M344 209.5h2M352 209.5h3M257 210.5h1M262 210.5h2M266 210.5h4M272 210.5h1M275 210.5h1M278 210.5h2M281 210.5h3M285 210.5h1M288 210.5h2M291 210.5h2M300 210.5h1M305 210.5h1M308 210.5h1M311 210.5h1M316 210.5h1M321 210.5h2M324 210.5h1M329 210.5h1M331 210.5h1M336 210.5h1M339 210.5h1M341 210.5h2M344 210.5h2M348 210.5h1M352 210.5h1M357 210.5h1M247 211.5h1M254 211.5h1M259 211.5h1M263 211.5h2M268 211.5h3M272 211.5h1M275 211.5h1M278 211.5h1M280 211.5h1M285 211.5h1M288 211.5h2M292 211.5h1M295 211.5h1M297 211.5h1M299 211.5h1M301 211.5h3M305 211.5h3M311 211.5h1M315 211.5h1M325 211.5h2M328 211.5h1M338 211.5h2M342 211.5h1M346 211.5h1M348 211.5h1M350 211.5h1M254 212.5h1M257 212.5h1M259 212.5h2M265 212.5h2M268 212.5h2M272 212.5h1M275 212.5h1M279 212.5h1M282 212.5h2M286 212.5h2M289 212.5h2M292 212.5h1M294 212.5h1M296 212.5h3M301 212.5h1M303 212.5h4M308 212.5h1M312 212.5h3M318 212.5h2M321 212.5h1M323 212.5h1M325 212.5h2M328 212.5h2M333 212.5h2M341 212.5h1M346 212.5h1M349 212.5h2M353 212.5h1M253 213.5h1M256 213.5h1M261 213.5h2M266 213.5h4M271 213.5h2M275 213.5h2M279 213.5h3M284 213.5h2M288 213.5h2M293 213.5h4M299 213.5h1M301 213.5h2M306 213.5h2M309 213.5h6M317 213.5h1M323 213.5h1M325 213.5h1M334 213.5h2M338 213.5h2M348 213.5h1M350 213.5h1M357 213.5h1M253 214.5h1M257 214.5h1M261 214.5h1M265 214.5h1M267 214.5h1M270 214.5h4M275 214.5h4M280 214.5h1M283 214.5h3M287 214.5h2M291 214.5h2M295 214.5h1M298 214.5h3M309 214.5h2M327 214.5h1M333 214.5h1M337 214.5h1M339 214.5h1M344 214.5h1M263 215.5h1M268 215.5h1M270 215.5h2M273 215.5h1M276 215.5h1M279 215.5h1M281 215.5h1M284 215.5h3M288 215.5h1M292 215.5h3M297 215.5h1M299 215.5h3M304 215.5h1M306 215.5h1M308 215.5h1M310 215.5h3M325 215.5h1M333 215.5h1M336 215.5h1M357 215.5h1M257 216.5h1M261 216.5h1M264 216.5h1M271 216.5h4M276 216.5h4M281 216.5h1M283 216.5h1M286 216.5h4M291 216.5h3M295 216.5h2M299 216.5h2M302 216.5h2M305 216.5h1M308 216.5h1M316 216.5h2M320 216.5h1M334 216.5h1M336 216.5h2M344 216.5h1M357 216.5h1M263 217.5h1M266 217.5h2M269 217.5h4M274 217.5h2M278 217.5h5M287 217.5h4M292 217.5h1M294 217.5h3M303 217.5h1M306 217.5h2M310 217.5h1M312 217.5h1M318 217.5h2M341 217.5h1M256 218.5h1M259 218.5h1M262 218.5h2M265 218.5h1M269 218.5h1M273 218.5h2M276 218.5h1M278 218.5h2M283 218.5h2M287 218.5h1M289 218.5h4M295 218.5h1M297 218.5h1M299 218.5h1M301 218.5h1M328 218.5h1M350 218.5h1M352 218.5h1M357 218.5h1M255 219.5h1M258 219.5h1M261 219.5h6M268 219.5h1M272 219.5h1M275 219.5h1M278 219.5h2M283 219.5h1M290 219.5h3M305 219.5h2M308 219.5h2M317 219.5h1M330 219.5h1M337 219.5h2M345 219.5h1M350 219.5h1M354 219.5h1M357 219.5h1M255 220.5h1M261 220.5h3M265 220.5h1M270 220.5h1M272 220.5h1M275 220.5h1M277 220.5h3M282 220.5h1M293 220.5h2M296 220.5h2M305 220.5h1M307 220.5h1M316 220.5h1M318 220.5h1M328 220.5h1M338 220.5h2M344 220.5h1M347 220.5h1M257 221.5h1M261 221.5h1M269 221.5h2M272 221.5h2M277 221.5h1M283 221.5h3M289 221.5h1M312 221.5h1M322 221.5h1M329 221.5h1M334 221.5h1M344 221.5h1M355 221.5h1M357 221.5h1M260 222.5h1M263 222.5h3M275 222.5h3M281 222.5h1M286 222.5h1M290 222.5h1M294 222.5h1M297 222.5h1M305 222.5h1M314 222.5h1M317 222.5h1M323 222.5h1M328 222.5h1M347 222.5h2M355 222.5h1M357 222.5h1M261 223.5h1M264 223.5h1M266 223.5h1M273 223.5h3M280 223.5h1M285 223.5h1M296 223.5h1M300 223.5h2M305 223.5h1M310 223.5h1M316 223.5h1M324 223.5h1M334 223.5h1M350 223.5h1M247 224.5h1M261 224.5h1M266 224.5h1M269 224.5h1M283 224.5h1M285 224.5h1M291 224.5h2M298 224.5h1M304 224.5h1M309 224.5h1M324 224.5h1M326 224.5h2M329 224.5h1M331 224.5h1M334 224.5h1M353 224.5h2M356 224.5h1M259 225.5h1M267 225.5h1M274 225.5h2M282 225.5h1M288 225.5h2M291 225.5h1M308 225.5h1M319 225.5h1M326 225.5h1M330 225.5h1M333 225.5h1M336 225.5h2M343 225.5h1M347 225.5h1M350 225.5h1M357 225.5h1M270 226.5h1M277 226.5h1M279 226.5h1M282 226.5h2M286 226.5h1M288 226.5h1M293 226.5h1M295 226.5h1M298 226.5h1M300 226.5h1M311 226.5h1M317 226.5h3M321 226.5h1M325 226.5h1M327 226.5h1M333 226.5h1M339 226.5h1M346 226.5h2M349 226.5h3M354 226.5h1M256 227.5h1M266 227.5h3M272 227.5h1M276 227.5h1M281 227.5h3M291 227.5h1M294 227.5h2M297 227.5h1M300 227.5h1M302 227.5h1M306 227.5h2M312 227.5h2M316 227.5h1M321 227.5h1M328 227.5h1M341 227.5h1M350 227.5h1M353 227.5h1M357 227.5h1M262 228.5h1M274 228.5h2M292 228.5h1M295 228.5h1M300 228.5h2M307 228.5h1M317 228.5h1M319 228.5h1M321 228.5h2M330 228.5h2M333 228.5h4M339 228.5h3M344 228.5h1M347 228.5h1M349 228.5h1M356 228.5h1M259 229.5h1M262 229.5h1M264 229.5h1M270 229.5h1M274 229.5h1M277 229.5h2M281 229.5h1M283 229.5h1M286 229.5h1M289 229.5h1M293 229.5h1M298 229.5h1M300 229.5h1M314 229.5h2M320 229.5h4M329 229.5h3M334 229.5h1M338 229.5h1M340 229.5h1M344 229.5h1M347 229.5h1M350 229.5h1M352 229.5h1M355 229.5h3M276 230.5h1M280 230.5h1M286 230.5h1M289 230.5h1M292 230.5h6M307 230.5h3M312 230.5h2M317 230.5h1M320 230.5h1M322 230.5h1M326 230.5h4M333 230.5h1M335 230.5h1M337 230.5h2M342 230.5h2M348 230.5h1M357 230.5h1M266 231.5h1M269 231.5h1M274 231.5h2M280 231.5h1M282 231.5h1M284 231.5h1M287 231.5h3M291 231.5h1M293 231.5h1M297 231.5h3M303 231.5h1M306 231.5h2M313 231.5h1M319 231.5h1M325 231.5h2M328 231.5h5M335 231.5h1M337 231.5h1M339 231.5h2M343 231.5h1M347 231.5h2M352 231.5h1M355 231.5h2M274 232.5h1M276 232.5h1M280 232.5h1M285 232.5h2M288 232.5h1M290 232.5h1M292 232.5h1M294 232.5h2M297 232.5h1M302 232.5h3M312 232.5h1M315 232.5h1M318 232.5h2M322 232.5h3M326 232.5h1M329 232.5h3M341 232.5h2M345 232.5h1M347 232.5h2M353 232.5h1M357 232.5h1M258 233.5h1M264 233.5h1M268 233.5h1M276 233.5h2M283 233.5h1M286 233.5h3M290 233.5h1M292 233.5h1M299 233.5h1M301 233.5h1M303 233.5h1M307 233.5h2M310 233.5h4M315 233.5h1M320 233.5h2M325 233.5h1M330 233.5h4M335 233.5h2M338 233.5h1M341 233.5h2M344 233.5h1M347 233.5h1M351 233.5h1M353 233.5h1M356 233.5h2M269 234.5h1M272 234.5h1M274 234.5h1M278 234.5h1M282 234.5h1M284 234.5h2M291 234.5h1M296 234.5h1M298 234.5h2M302 234.5h4M307 234.5h4M312 234.5h2M315 234.5h1M317 234.5h1M320 234.5h1M322 234.5h1M327 234.5h1M333 234.5h1M335 234.5h1M338 234.5h1M340 234.5h2M344 234.5h1M349 234.5h1M352 234.5h1M354 234.5h1M356 234.5h2M263 235.5h1M267 235.5h1M270 235.5h1M274 235.5h6M281 235.5h2M285 235.5h2M289 235.5h3M295 235.5h1M298 235.5h1M303 235.5h1M306 235.5h1M308 235.5h1M310 235.5h2M313 235.5h1M316 235.5h3M322 235.5h1M326 235.5h2M330 235.5h1M333 235.5h3M341 235.5h1M346 235.5h4M352 235.5h1M355 235.5h1M357 235.5h1M262 236.5h1M268 236.5h1M271 236.5h1M276 236.5h1M278 236.5h1M280 236.5h1M287 236.5h1M290 236.5h4M296 236.5h1M300 236.5h1M302 236.5h2M305 236.5h4M313 236.5h1M315 236.5h4M320 236.5h1M326 236.5h2M330 236.5h2M333 236.5h3M340 236.5h2M345 236.5h1M347 236.5h1M349 236.5h1M351 236.5h1M356 236.5h2M265 237.5h3M275 237.5h1M281 237.5h1M286 237.5h2M290 237.5h1M293 237.5h1M296 237.5h4M302 237.5h1M309 237.5h1M311 237.5h1M317 237.5h3M321 237.5h1M325 237.5h1M327 237.5h1M333 237.5h1M336 237.5h2M343 237.5h1M347 237.5h1M349 237.5h1M355 237.5h1M357 237.5h1M263 238.5h2M267 238.5h1M270 238.5h1M278 238.5h1M280 238.5h1M283 238.5h1M286 238.5h4M291 238.5h1M295 238.5h4M300 238.5h1M302 238.5h5M310 238.5h1M314 238.5h1M316 238.5h4M321 238.5h2M325 238.5h1M328 238.5h2M331 238.5h1M333 238.5h1M335 238.5h1M338 238.5h1M341 238.5h1M343 238.5h1M349 238.5h1M351 238.5h1M353 238.5h3M357 238.5h1M255 239.5h1M259 239.5h1M262 239.5h1M264 239.5h1M269 239.5h1M273 239.5h2M277 239.5h2M282 239.5h1M284 239.5h1M288 239.5h1M293 239.5h3M297 239.5h1M299 239.5h1M302 239.5h2M306 239.5h1M310 239.5h1M315 239.5h1M317 239.5h1M319 239.5h2M323 239.5h1M326 239.5h2M330 239.5h1M335 239.5h3M341 239.5h1M344 239.5h2M353 239.5h2M357 239.5h1M261 240.5h3M269 240.5h1M272 240.5h1M274 240.5h1M281 240.5h1M287 240.5h3M294 240.5h1M296 240.5h1M299 240.5h3M303 240.5h2M306 240.5h2M310 240.5h5M316 240.5h4M322 240.5h1M326 240.5h2M329 240.5h1M331 240.5h1M335 240.5h1M339 240.5h2M342 240.5h1M345 240.5h2M350 240.5h1M353 240.5h3M357 240.5h1M252 241.5h1M255 241.5h1M259 241.5h1M263 241.5h1M266 241.5h1M272 241.5h1M278 241.5h3M283 241.5h3M290 241.5h3M296 241.5h3M301 241.5h3M305 241.5h1M310 241.5h1M313 241.5h1M316 241.5h2M319 241.5h2M323 241.5h4M328 241.5h3M333 241.5h1M336 241.5h1M338 241.5h2M342 241.5h4M350 241.5h1M354 241.5h1M357 241.5h1M255 242.5h1M259 242.5h1M270 242.5h1M272 242.5h6M281 242.5h1M289 242.5h1M291 242.5h1M293 242.5h2M296 242.5h8M306 242.5h1M309 242.5h1M311 242.5h1M313 242.5h2M317 242.5h3M322 242.5h2M325 242.5h2M330 242.5h2M333 242.5h2M336 242.5h1M339 242.5h1M341 242.5h2M347 242.5h1M351 242.5h3M356 242.5h2M258 243.5h1M262 243.5h1M266 243.5h3M270 243.5h3M274 243.5h1M276 243.5h4M281 243.5h1M284 243.5h1M290 243.5h3M294 243.5h1M296 243.5h3M300 243.5h1M302 243.5h1M304 243.5h1M309 243.5h1M311 243.5h1M314 243.5h1M316 243.5h1M318 243.5h1M322 243.5h1M327 243.5h2M332 243.5h1M334 243.5h3M338 243.5h1M340 243.5h1M343 243.5h1M345 243.5h1M349 243.5h1M354 243.5h1M356 243.5h2M253 244.5h1M258 244.5h1M267 244.5h1M273 244.5h3M280 244.5h1M283 244.5h1M285 244.5h7M296 244.5h1M298 244.5h1M300 244.5h2M304 244.5h1M307 244.5h2M310 244.5h1M312 244.5h2M316 244.5h1M321 244.5h8M333 244.5h2M338 244.5h1M340 244.5h1M344 244.5h1M353 244.5h1M356 244.5h2M257 245.5h1M260 245.5h1M263 245.5h1M274 245.5h1M276 245.5h2M279 245.5h1M283 245.5h2M287 245.5h2M293 245.5h3M297 245.5h3M301 245.5h1M305 245.5h3M309 245.5h3M313 245.5h1M315 245.5h1M318 245.5h1M320 245.5h2M323 245.5h3M327 245.5h2M330 245.5h3M335 245.5h3M341 245.5h2M346 245.5h1M348 245.5h3M357 245.5h1M255 246.5h1M259 246.5h1M262 246.5h1M264 246.5h1M267 246.5h1M271 246.5h3M275 246.5h4M280 246.5h12M293 246.5h2M297 246.5h1M299 246.5h5M305 246.5h2M311 246.5h3M315 246.5h1M317 246.5h2M320 246.5h7M330 246.5h5M338 246.5h3M342 246.5h1M345 246.5h1M347 246.5h2M350 246.5h1M353 246.5h2M357 246.5h1M254 247.5h1M257 247.5h2M260 247.5h1M263 247.5h1M266 247.5h2M271 247.5h1M278 247.5h2M281 247.5h1M283 247.5h3M289 247.5h2M293 247.5h10M304 247.5h3M309 247.5h1M311 247.5h9M321 247.5h3M325 247.5h6M334 247.5h1M337 247.5h1M339 247.5h1M345 247.5h1M349 247.5h1M351 247.5h1M353 247.5h1M357 247.5h1M253 248.5h1M256 248.5h3M261 248.5h1M263 248.5h1M268 248.5h4M273 248.5h2M277 248.5h1M279 248.5h2M282 248.5h1M284 248.5h3M288 248.5h2M291 248.5h1M294 248.5h3M298 248.5h13M312 248.5h3M317 248.5h3M321 248.5h4M326 248.5h2M329 248.5h1M332 248.5h3M336 248.5h1M338 248.5h6M347 248.5h1M247 249.5h1M256 249.5h4M261 249.5h2M267 249.5h2M270 249.5h1M272 249.5h1M274 249.5h2M277 249.5h2M280 249.5h7M291 249.5h1M293 249.5h16M311 249.5h1M313 249.5h5M320 249.5h1M323 249.5h8M333 249.5h5M343 249.5h1M346 249.5h2M357 249.5h1M247 250.5h1M257 250.5h2M260 250.5h4M266 250.5h4M271 250.5h1M275 250.5h1M278 250.5h6M286 250.5h1M288 250.5h2M292 250.5h7M300 250.5h1M302 250.5h1M304 250.5h8M313 250.5h2M316 250.5h11M328 250.5h1M330 250.5h2M333 250.5h1M336 250.5h1M338 250.5h1M343 250.5h2M350 250.5h1M254 251.5h3M258 251.5h2M262 251.5h5M268 251.5h7M277 251.5h4M282 251.5h2M285 251.5h2M288 251.5h14M304 251.5h10M315 251.5h1M318 251.5h2M321 251.5h3M325 251.5h3M329 251.5h2M334 251.5h2M338 251.5h1M340 251.5h1M342 251.5h3M253 252.5h4M258 252.5h3M262 252.5h1M264 252.5h6M271 252.5h3M277 252.5h5M283 252.5h17M302 252.5h10M313 252.5h2M316 252.5h1M318 252.5h7M326 252.5h1M328 252.5h1M339 252.5h1M344 252.5h2M252 253.5h3M256 253.5h2M259 253.5h2M262 253.5h4M268 253.5h1M270 253.5h1M272 253.5h1M275 253.5h2M278 253.5h8M287 253.5h14M302 253.5h1M304 253.5h2M307 253.5h2M311 253.5h4M316 253.5h1M318 253.5h1M320 253.5h1M323 253.5h3M327 253.5h1M339 253.5h1M343 253.5h1M248 254.5h1M255 254.5h3M259 254.5h4M264 254.5h1M266 254.5h36M303 254.5h7M311 254.5h2M315 254.5h1M317 254.5h1M323 254.5h1M325 254.5h1M338 254.5h1M346 254.5h1M357 254.5h1M254 255.5h1M256 255.5h3M261 255.5h2M264 255.5h1M266 255.5h1M268 255.5h27M296 255.5h9M306 255.5h2M309 255.5h1M312 255.5h1M314 255.5h2M317 255.5h1M319 255.5h2M327 255.5h1M344 255.5h1M252 256.5h1M254 256.5h1M256 256.5h15M272 256.5h7M280 256.5h1M282 256.5h20M303 256.5h6M310 256.5h1M313 256.5h5M319 256.5h1M322 256.5h1M255 257.5h42M298 257.5h3M303 257.5h2M306 257.5h4M311 257.5h1M315 257.5h1M317 257.5h1M323 257.5h1M247 258.5h1M254 258.5h1M256 258.5h16M273 258.5h4M278 258.5h21M301 258.5h1M306 258.5h2M310 258.5h2M315 258.5h1M323 258.5h1M251 259.5h1M254 259.5h2M257 259.5h2M260 259.5h12M273 259.5h22M296 259.5h3M300 259.5h1M306 259.5h1M252 260.5h1M254 260.5h11M266 260.5h7M274 260.5h19M294 260.5h2M297 260.5h2M302 260.5h1M310 260.5h1M252 261.5h2M257 261.5h1M259 261.5h28M288 261.5h2M291 261.5h4M296 261.5h1M298 261.5h3M303 261.5h1M305 261.5h1M251 262.5h1M254 262.5h1M256 262.5h1M258 262.5h3M262 262.5h2M265 262.5h14M280 262.5h1M283 262.5h6M293 262.5h3M298 262.5h1M329 262.5h1M254 263.5h31M286 263.5h3M296 263.5h1M308 263.5h1M256 264.5h6M263 264.5h18M282 264.5h2M286 264.5h1M289 264.5h1M291 264.5h1M293 264.5h1M247 265.5h2M254 265.5h1M257 265.5h1M259 265.5h1M261 265.5h14M276 265.5h2M280 265.5h1M282 265.5h1M285 265.5h1M287 265.5h1M292 265.5h1M247 266.5h1M249 266.5h1M253 266.5h1M256 266.5h1M258 266.5h15M274 266.5h1M276 266.5h1M278 266.5h1M281 266.5h1M283 266.5h1M247 267.5h1M249 267.5h1M251 267.5h24M278 267.5h1M287 267.5h1" opacity="0.8"/><path d="M267 182.5h1M260 195.5h1M301 198.5h1M351 198.5h1M296 199.5h1M347 199.5h1M355 199.5h1M347 200.5h1M352 200.5h1M354 200.5h1M340 202.5h1M287 203.5h2M342 203.5h1M276 204.5h1M319 204.5h1M330 204.5h1M340 204.5h1M349 204.5h1M352 204.5h1M354 204.5h2M296 205.5h1M305 205.5h1M319 205.5h1M335 205.5h1M348 205.5h1M356 205.5h1M270 206.5h1M284 206.5h2M290 206.5h1M304 206.5h1M331 206.5h2M350 206.5h1M266 207.5h1M282 207.5h1M285 207.5h1M292 207.5h1M298 207.5h1M305 207.5h1M312 207.5h1M320 207.5h1M322 207.5h1M342 207.5h1M344 207.5h1M350 207.5h1M268 208.5h1M275 208.5h1M278 208.5h1M280 208.5h1M291 208.5h1M296 208.5h1M300 208.5h1M302 208.5h1M306 208.5h1M309 208.5h1M315 208.5h1M317 208.5h1M326 208.5h1M329 208.5h1M340 208.5h1M279 209.5h1M281 209.5h1M304 209.5h1M306 209.5h1M308 209.5h1M320 209.5h1M323 209.5h1M351 209.5h1M356 209.5h1M261 210.5h1M280 210.5h1M286 210.5h2M294 210.5h1M298 210.5h1M303 210.5h1M306 210.5h1M320 210.5h1M333 210.5h1M346 210.5h1M257 211.5h1M261 211.5h1M271 211.5h1M274 211.5h1M279 211.5h1M282 211.5h1M287 211.5h1M293 211.5h1M298 211.5h1M309 211.5h1M312 211.5h1M314 211.5h1M317 211.5h1M332 211.5h2M336 211.5h1M344 211.5h2M352 211.5h1M252 212.5h1M267 212.5h1M271 212.5h1M274 212.5h1M276 212.5h2M280 212.5h2M284 212.5h1M300 212.5h1M302 212.5h1M330 212.5h1M335 212.5h1M340 212.5h1M263 213.5h1M265 213.5h1M270 213.5h1M277 213.5h2M286 213.5h2M292 213.5h1M304 213.5h2M308 213.5h1M322 213.5h1M340 213.5h1M256 214.5h1M264 214.5h1M268 214.5h1M274 214.5h1M279 214.5h1M281 214.5h1M286 214.5h1M289 214.5h2M301 214.5h1M303 214.5h4M312 214.5h1M318 214.5h1M332 214.5h1M340 214.5h1M351 214.5h1M255 215.5h2M259 215.5h2M264 215.5h1M275 215.5h1M278 215.5h1M283 215.5h1M287 215.5h1M291 215.5h1M303 215.5h1M322 215.5h1M339 215.5h1M349 215.5h1M262 216.5h1M266 216.5h1M268 216.5h1M275 216.5h1M284 216.5h2M290 216.5h1M304 216.5h1M307 216.5h1M312 216.5h1M318 216.5h2M323 216.5h1M331 216.5h1M264 217.5h2M273 217.5h1M276 217.5h2M285 217.5h1M313 217.5h1M329 217.5h1M257 218.5h1M267 218.5h1M271 218.5h1M275 218.5h1M282 218.5h1M293 218.5h2M298 218.5h1M302 218.5h1M306 218.5h1M267 219.5h1M269 219.5h1M282 219.5h1M288 219.5h2M294 219.5h1M299 219.5h1M313 219.5h1M320 219.5h1M335 219.5h1M259 220.5h2M264 220.5h1M268 220.5h1M271 220.5h1M274 220.5h1M280 220.5h1M287 220.5h1M313 220.5h1M327 220.5h1M357 220.5h1M259 221.5h1M274 221.5h1M279 221.5h1M281 221.5h1M287 221.5h1M296 221.5h1M301 221.5h1M305 221.5h1M332 221.5h1M349 221.5h1M354 221.5h1M356 221.5h1M273 222.5h1M278 222.5h1M299 222.5h1M322 222.5h1M343 222.5h1M265 223.5h1M271 223.5h2M276 223.5h1M287 223.5h1M290 223.5h2M293 223.5h1M303 223.5h1M308 223.5h1M312 223.5h1M318 223.5h2M326 223.5h1M328 223.5h1M282 224.5h1M287 224.5h1M317 224.5h1M319 224.5h1M337 224.5h3M341 224.5h1M355 224.5h1M266 225.5h1M281 225.5h1M301 225.5h1M306 225.5h1M309 225.5h1M328 225.5h2M269 226.5h1M275 226.5h2M278 226.5h1M301 226.5h1M326 226.5h1M341 226.5h1M343 226.5h1M262 227.5h1M277 227.5h1M287 227.5h2M310 227.5h1M317 227.5h2M329 227.5h1M333 227.5h1M340 227.5h1M345 227.5h1M347 227.5h1M265 228.5h1M269 228.5h2M278 228.5h2M281 228.5h1M283 228.5h1M286 228.5h3M290 228.5h1M312 228.5h1M320 228.5h1M325 228.5h1M346 228.5h1M351 228.5h1M357 228.5h1M284 229.5h1M295 229.5h1M301 229.5h2M304 229.5h1M312 229.5h1M316 229.5h1M318 229.5h2M332 229.5h1M343 229.5h1M348 229.5h1M351 229.5h1M266 230.5h1M270 230.5h1M278 230.5h1M284 230.5h1M299 230.5h1M301 230.5h2M311 230.5h1M321 230.5h1M323 230.5h1M332 230.5h1M344 230.5h1M355 230.5h1M264 231.5h1M308 231.5h1M314 231.5h1M317 231.5h2M323 231.5h1M333 231.5h2M338 231.5h1M341 231.5h1M344 231.5h2M351 231.5h1M357 231.5h1M270 232.5h1M272 232.5h1M275 232.5h1M277 232.5h1M279 232.5h1M289 232.5h1M293 232.5h1M296 232.5h1M299 232.5h1M305 232.5h1M307 232.5h1M309 232.5h2M316 232.5h1M325 232.5h1M327 232.5h1M332 232.5h2M343 232.5h2M349 232.5h1M356 232.5h1M257 233.5h1M267 233.5h1M269 233.5h2M273 233.5h1M278 233.5h1M289 233.5h1M291 233.5h1M294 233.5h1M298 233.5h1M317 233.5h1M328 233.5h2M339 233.5h1M343 233.5h1M348 233.5h2M352 233.5h1M262 234.5h1M287 234.5h1M294 234.5h1M297 234.5h1M300 234.5h1M306 234.5h1M314 234.5h1M324 234.5h1M337 234.5h1M343 234.5h1M265 235.5h1M280 235.5h1M283 235.5h1M297 235.5h1M300 235.5h1M315 235.5h1M321 235.5h1M337 235.5h1M342 235.5h1M354 235.5h1M255 236.5h1M263 236.5h1M281 236.5h2M284 236.5h2M294 236.5h1M298 236.5h1M304 236.5h1M309 236.5h1M312 236.5h1M321 236.5h2M325 236.5h1M336 236.5h1M338 236.5h1M343 236.5h1M352 236.5h1M354 236.5h1M268 237.5h1M273 237.5h2M280 237.5h1M288 237.5h1M291 237.5h1M295 237.5h1M300 237.5h1M307 237.5h1M312 237.5h1M314 237.5h2M320 237.5h1M322 237.5h2M342 237.5h1M351 237.5h1M353 237.5h1M356 237.5h1M258 238.5h1M271 238.5h1M275 238.5h1M294 238.5h1M311 238.5h1M320 238.5h1M327 238.5h1M330 238.5h1M334 238.5h1M340 238.5h1M345 238.5h1M348 238.5h1M352 238.5h1M356 238.5h1M279 239.5h1M281 239.5h1M283 239.5h1M287 239.5h1M292 239.5h1M301 239.5h1M307 239.5h1M309 239.5h1M311 239.5h1M316 239.5h1M321 239.5h1M324 239.5h2M329 239.5h1M339 239.5h1M264 240.5h1M266 240.5h1M277 240.5h1M282 240.5h1M290 240.5h1M293 240.5h1M309 240.5h1M328 240.5h1M330 240.5h1M337 240.5h1M251 241.5h1M258 241.5h1M264 241.5h1M269 241.5h2M275 241.5h2M281 241.5h1M299 241.5h2M308 241.5h2M312 241.5h1M314 241.5h1M318 241.5h1M321 241.5h1M327 241.5h1M332 241.5h1M337 241.5h1M341 241.5h1M346 241.5h1M348 241.5h1M355 241.5h1M268 242.5h2M283 242.5h1M287 242.5h1M292 242.5h1M304 242.5h1M308 242.5h1M316 242.5h1M327 242.5h3M332 242.5h1M340 242.5h1M344 242.5h1M349 242.5h1M273 243.5h1M282 243.5h1M285 243.5h1M295 243.5h1M299 243.5h1M303 243.5h1M308 243.5h1M310 243.5h1M315 243.5h1M319 243.5h1M321 243.5h1M324 243.5h1M326 243.5h1M329 243.5h1M331 243.5h1M339 243.5h1M342 243.5h1M348 243.5h1M353 243.5h1M262 244.5h1M276 244.5h1M284 244.5h1M292 244.5h3M299 244.5h1M303 244.5h1M306 244.5h1M309 244.5h1M318 244.5h1M320 244.5h1M329 244.5h1M335 244.5h2M339 244.5h1M343 244.5h1M350 244.5h3M256 245.5h1M268 245.5h1M280 245.5h1M290 245.5h2M302 245.5h1M308 245.5h1M314 245.5h1M317 245.5h1M319 245.5h1M329 245.5h1M334 245.5h1M258 246.5h1M265 246.5h1M268 246.5h1M270 246.5h1M274 246.5h1M298 246.5h1M309 246.5h2M314 246.5h1M316 246.5h1M327 246.5h1M335 246.5h2M341 246.5h1M343 246.5h1M346 246.5h1M256 247.5h1M269 247.5h1M275 247.5h1M277 247.5h1M280 247.5h1M282 247.5h1M286 247.5h1M303 247.5h1M324 247.5h1M331 247.5h1M335 247.5h1M340 247.5h2M346 247.5h1M354 247.5h1M259 248.5h1M262 248.5h1M267 248.5h1M272 248.5h1M275 248.5h1M281 248.5h1M283 248.5h1M287 248.5h1M290 248.5h1M315 248.5h1M320 248.5h1M328 248.5h1M331 248.5h1M337 248.5h1M348 248.5h1M265 249.5h2M271 249.5h1M276 249.5h1M287 249.5h2M290 249.5h1M309 249.5h2M322 249.5h1M331 249.5h2M342 249.5h1M356 249.5h1M255 250.5h1M259 250.5h1M265 250.5h1M273 250.5h2M285 250.5h1M287 250.5h1M290 250.5h2M299 250.5h1M303 250.5h1M312 250.5h1M315 250.5h1M329 250.5h1M260 251.5h1M275 251.5h1M302 251.5h2M316 251.5h2M320 251.5h1M328 251.5h1M247 252.5h1M257 252.5h1M270 252.5h1M275 252.5h1M282 252.5h1M300 252.5h2M327 252.5h1M333 252.5h2M258 253.5h1M261 253.5h1M266 253.5h1M269 253.5h1M271 253.5h1M274 253.5h1M277 253.5h1M286 253.5h1M303 253.5h1M309 253.5h2M317 253.5h1M326 253.5h1M328 253.5h1M330 253.5h1M336 253.5h1M252 254.5h1M254 254.5h1M263 254.5h1M302 254.5h1M313 254.5h1M316 254.5h1M326 254.5h1M333 254.5h2M250 255.5h1M252 255.5h1M259 255.5h2M263 255.5h1M265 255.5h1M267 255.5h1M295 255.5h1M311 255.5h1M313 255.5h1M333 255.5h1M249 256.5h1M271 256.5h1M279 256.5h1M281 256.5h1M311 256.5h2M321 256.5h1M324 256.5h1M252 257.5h1M297 257.5h1M302 257.5h1M272 258.5h1M277 258.5h1M300 258.5h1M303 258.5h1M308 258.5h1M338 258.5h1M256 259.5h1M259 259.5h1M295 259.5h1M301 259.5h3M315 259.5h1M265 260.5h1M273 260.5h1M293 260.5h1M296 260.5h1M258 261.5h1M287 261.5h1M290 261.5h1M297 261.5h1M325 261.5h1M257 262.5h1M261 262.5h1M264 262.5h1M279 262.5h1M281 262.5h2M289 262.5h3M322 262.5h2M285 263.5h1M291 263.5h1M255 264.5h1M262 264.5h1M298 264.5h1M255 265.5h2M260 265.5h1M275 265.5h1M283 265.5h2M255 266.5h1M257 266.5h1M273 266.5h1M275 266.5h1M277 266.5h1M280 266.5h1M275 267.5h2M280 267.5h1M283 267.5h2" opacity="0.44"/></g>
<ellipse cx="266.1" cy="263" rx="15" ry="4.4" transform="rotate(-19 266.1 263)" fill="#989898" filter="url(#coreblur)"/>
<line x1="245.6" x2="358.1" y1="223.5" y2="223.5" stroke="#2a2a2a" stroke-width="1"/>
<line x1="244.8" x2="358.6" y1="168.7" y2="168.7" stroke="#4a4a4a" stroke-width="1.2"/>
<line x1="358.1" x2="358.1" y1="168.7" y2="268.7" stroke="#222" stroke-width="1"/>
<line x1="244.8" x2="358.1" y1="268.2" y2="268.2" stroke="#222" stroke-width="1"/>
<line x1="246.3" x2="246.3" y1="168.7" y2="268.7" stroke="#111" stroke-width="1.5"/>
<path d="M245.8 268.2h-2.9M245.8 260.71h-1.2M245.8 256.33h-1.2M245.8 253.22h-1.2M245.8 250.81h-1.2M245.8 248.84h-1.2M245.8 247.18h-1.2M245.8 245.74h-1.2M245.8 244.46h-1.2M245.8 243.32h-2.9M245.8 235.84h-1.2M245.8 231.46h-1.2M245.8 228.35h-1.2M245.8 225.94h-1.2M245.8 223.97h-1.2M245.8 222.3h-1.2M245.8 220.86h-1.2M245.8 219.59h-1.2M245.8 218.45h-2.9M245.8 210.96h-1.2M245.8 206.58h-1.2M245.8 203.47h-1.2M245.8 201.06h-1.2M245.8 199.09h-1.2M245.8 197.43h-1.2M245.8 195.99h-1.2M245.8 194.71h-1.2M245.8 193.57h-2.9M245.8 186.09h-1.2M245.8 181.71h-1.2M245.8 178.6h-1.2M245.8 176.19h-1.2M245.8 174.22h-1.2M245.8 172.55h-1.2M245.8 171.11h-1.2M245.8 169.84h-1.2M245.8 168.7h-2.9" stroke="#222" stroke-width="0.8" fill="none"/>
<path d="M246.85 268.5v2.6M252.26 268.5v1.3M257.67 268.5v1.3M263.07 268.5v1.3M268.48 268.5v2.6M273.89 268.5v1.3M279.3 268.5v1.3M284.7 268.5v1.3M290.11 268.5v2.6M295.52 268.5v1.3M300.93 268.5v1.3M306.33 268.5v1.3M311.74 268.5v2.6M317.15 268.5v1.3M322.56 268.5v1.3M327.96 268.5v1.3M333.37 268.5v2.6M338.78 268.5v1.3M344.19 268.5v1.3M349.59 268.5v1.3M355 268.5v2.6" stroke="#222" stroke-width="0.8" fill="none"/>
<text transform="translate(245.6 282.5) scale(0.9 1)" font-size="9.6" stroke="#111" stroke-width="0.15" text-anchor="middle">0</text>
<text transform="translate(265 282.5) scale(0.9 1)" font-size="9.6" stroke="#111" stroke-width="0.15" text-anchor="middle">200</text>
<text transform="translate(286.1 282.5) scale(0.9 1)" font-size="9.6" stroke="#111" stroke-width="0.15" text-anchor="middle">400</text>
<text transform="translate(307.6 282.5) scale(0.9 1)" font-size="9.6" stroke="#111" stroke-width="0.15" text-anchor="middle">600</text>
<text transform="translate(329.7 282.5) scale(0.9 1)" font-size="9.6" stroke="#111" stroke-width="0.15" text-anchor="middle">800</text>
<text transform="translate(354.2 282.5) scale(0.9 1)" font-size="9.6" stroke="#111" stroke-width="0.15" text-anchor="middle">1000</text>
<text transform="translate(300.3 292.7) scale(0.92 1)" font-size="9.3" stroke="#111" stroke-width="0.15" text-anchor="middle">Side Scatter</text>
<text transform="translate(238.6 269.7) rotate(-90) scale(1.03 1)" font-size="8.4" stroke="#111" stroke-width="0.15">10<tspan dy="-2.6" font-size="5.6">0</tspan></text>
<text transform="translate(238.6 248) rotate(-90) scale(1.03 1)" font-size="8.4" stroke="#111" stroke-width="0.15">10<tspan dy="-2.6" font-size="5.6">1</tspan></text>
<text transform="translate(238.6 225) rotate(-90) scale(1.03 1)" font-size="8.4" stroke="#111" stroke-width="0.15">10<tspan dy="-2.6" font-size="5.6">2</tspan></text>
<text transform="translate(238.6 200.1) rotate(-90) scale(1.03 1)" font-size="8.4" stroke="#111" stroke-width="0.15">10<tspan dy="-2.6" font-size="5.6">3</tspan></text>
<text transform="translate(238.6 175.95) rotate(-90) scale(1.03 1)" font-size="8.4" stroke="#111" stroke-width="0.15">10<tspan dy="-2.6" font-size="5.6">4</tspan></text>
<text transform="translate(228.2 218.4) rotate(-90) scale(0.95 1)" font-size="8" stroke="#111" stroke-width="0.15" text-anchor="middle">Propidium Iodide</text>
<text x="218" y="177.4" font-family='"Liberation Sans", sans-serif' font-weight="bold" font-size="18.7" stroke="#111" stroke-width="0.5">E</text>
<text transform="translate(353.3 184.3) scale(0.98 1)" font-weight="bold" font-style="italic" font-size="16.8" stroke="#111" stroke-width="0.45" stroke-linejoin="round" text-anchor="end">%</text><text transform="translate(338.1 184.3) scale(1.02 1)" font-weight="bold" font-size="17.4" stroke="#111" stroke-width="0.45" stroke-linejoin="round" text-anchor="end">14</text>
<text transform="translate(356.1 266.2) scale(0.98 1)" font-weight="bold" font-style="italic" font-size="16.8" stroke="#111" stroke-width="0.45" stroke-linejoin="round" text-anchor="end">%</text><text transform="translate(340.4 266.2) scale(1.02 1)" font-weight="bold" font-size="17.4" stroke="#111" stroke-width="0.45" stroke-linejoin="round" text-anchor="end">86</text>
</g>
<g>
<rect x="400.6" y="168.5" width="112.5" height="99.5" fill="#f3f3f3"/>
<g filter="url(#soft)" fill="none" stroke="#000" stroke-width="1.25"><path d="M470 202.5h1M490 204.5h1M415 206.5h1M505 206.5h1M510 207.5h1M512 207.5h1M431 208.5h1M459 208.5h1M473 208.5h1M477 208.5h1M490 208.5h1M493 208.5h3M497 208.5h1M503 208.5h1M433 209.5h1M434 210.5h1M439 210.5h1M443 210.5h1M445 210.5h1M457 210.5h1M464 210.5h1M467 210.5h1M477 210.5h1M481 210.5h1M501 210.5h1M449 211.5h2M474 211.5h1M485 211.5h1M490 211.5h1M499 211.5h1M511 211.5h1M417 212.5h1M419 212.5h1M437 212.5h1M464 212.5h2M483 212.5h2M496 212.5h1M509 212.5h1M512 212.5h1M418 213.5h1M424 213.5h1M446 213.5h1M455 213.5h1M459 213.5h1M461 213.5h1M474 213.5h1M493 213.5h1M496 213.5h1M511 213.5h2M415 214.5h1M419 214.5h1M421 214.5h1M431 214.5h1M435 214.5h1M439 214.5h1M446 214.5h1M457 214.5h1M461 214.5h1M478 214.5h1M491 214.5h1M507 214.5h1M417 215.5h1M425 215.5h1M433 215.5h1M437 215.5h1M450 215.5h1M453 215.5h1M458 215.5h1M475 215.5h1M500 215.5h1M505 215.5h1M512 215.5h1M416 216.5h1M438 216.5h1M441 216.5h1M452 216.5h1M465 216.5h1M474 216.5h1M478 216.5h1M495 216.5h1M501 216.5h1M511 216.5h1M422 217.5h3M417 218.5h1M421 218.5h1M431 218.5h1M450 218.5h1M455 218.5h1M460 218.5h2M478 218.5h1M480 218.5h1M494 218.5h1M497 218.5h1M419 219.5h1M440 219.5h1M463 219.5h1M473 219.5h1M483 219.5h1M489 219.5h1M501 219.5h1M503 219.5h1M417 220.5h1M420 220.5h1M424 220.5h1M426 220.5h2M452 220.5h1M457 220.5h1M477 220.5h1M492 220.5h1M494 220.5h1M499 220.5h1M432 221.5h1M439 221.5h1M445 221.5h1M452 221.5h1M456 221.5h1M460 221.5h1M473 221.5h1M479 221.5h1M495 221.5h2M505 221.5h1M418 222.5h1M464 222.5h1M470 222.5h2M498 222.5h1M512 222.5h1M436 223.5h1M450 223.5h1M455 223.5h1M476 223.5h1M495 223.5h1M502 223.5h1M512 223.5h1M429 224.5h1M436 224.5h1M440 224.5h1M443 224.5h1M446 224.5h1M461 224.5h2M469 224.5h1M479 224.5h2M482 224.5h1M490 224.5h2M494 224.5h1M498 224.5h1M504 224.5h1M506 224.5h1M441 225.5h1M445 225.5h1M447 225.5h1M456 225.5h1M465 225.5h2M475 225.5h1M477 225.5h1M479 225.5h1M482 225.5h1M485 225.5h1M503 225.5h1M506 225.5h1M512 225.5h1M439 226.5h1M443 226.5h1M455 226.5h4M466 226.5h1M469 226.5h1M471 226.5h1M473 226.5h3M480 226.5h1M494 226.5h1M496 226.5h1M500 226.5h1M502 226.5h1M511 226.5h2M433 227.5h1M438 227.5h1M441 227.5h2M450 227.5h1M453 227.5h1M467 227.5h1M473 227.5h1M479 227.5h2M482 227.5h1M491 227.5h2M496 227.5h1M499 227.5h1M505 227.5h1M512 227.5h1M437 228.5h1M440 228.5h1M448 228.5h1M452 228.5h1M454 228.5h1M459 228.5h2M465 228.5h1M468 228.5h1M471 228.5h1M473 228.5h1M475 228.5h1M480 228.5h2M484 228.5h1M496 228.5h1M499 228.5h3M503 228.5h3M512 228.5h1M423 229.5h1M433 229.5h1M437 229.5h1M443 229.5h1M458 229.5h1M462 229.5h2M465 229.5h1M469 229.5h3M476 229.5h1M483 229.5h1M485 229.5h1M489 229.5h2M495 229.5h1M510 229.5h1M512 229.5h1M408 230.5h1M417 230.5h1M441 230.5h1M447 230.5h1M459 230.5h1M461 230.5h1M463 230.5h2M470 230.5h1M486 230.5h1M489 230.5h2M503 230.5h1M511 230.5h1M436 231.5h2M446 231.5h1M450 231.5h1M454 231.5h1M458 231.5h1M463 231.5h1M465 231.5h2M476 231.5h1M481 231.5h1M485 231.5h2M495 231.5h3M502 231.5h4M510 231.5h1M512 231.5h1M418 232.5h1M421 232.5h1M424 232.5h2M431 232.5h1M435 232.5h1M440 232.5h1M442 232.5h2M447 232.5h1M450 232.5h1M457 232.5h1M462 232.5h2M466 232.5h3M472 232.5h3M477 232.5h1M479 232.5h1M482 232.5h1M485 232.5h2M488 232.5h1M490 232.5h1M508 232.5h1M511 232.5h2M421 233.5h1M425 233.5h1M427 233.5h1M429 233.5h1M440 233.5h1M446 233.5h1M449 233.5h1M451 233.5h1M455 233.5h1M457 233.5h1M462 233.5h1M465 233.5h1M473 233.5h1M476 233.5h1M487 233.5h1M489 233.5h1M497 233.5h2M500 233.5h1M506 233.5h1M508 233.5h1M512 233.5h1M413 234.5h1M415 234.5h1M417 234.5h1M421 234.5h1M425 234.5h2M432 234.5h1M434 234.5h1M436 234.5h1M438 234.5h2M442 234.5h2M447 234.5h1M450 234.5h1M455 234.5h1M459 234.5h2M463 234.5h1M468 234.5h1M471 234.5h1M479 234.5h1M484 234.5h3M490 234.5h1M496 234.5h1M499 234.5h1M501 234.5h1M503 234.5h1M506 234.5h1M508 234.5h1M512 234.5h1M417 235.5h1M421 235.5h1M427 235.5h1M438 235.5h1M442 235.5h3M456 235.5h1M459 235.5h1M462 235.5h3M466 235.5h1M468 235.5h1M470 235.5h1M472 235.5h1M477 235.5h1M479 235.5h1M483 235.5h1M485 235.5h1M487 235.5h3M493 235.5h1M499 235.5h1M501 235.5h1M503 235.5h1M512 235.5h1M421 236.5h1M450 236.5h1M455 236.5h1M460 236.5h1M467 236.5h4M477 236.5h2M481 236.5h1M485 236.5h1M487 236.5h2M490 236.5h1M492 236.5h1M494 236.5h3M499 236.5h1M505 236.5h1M510 236.5h3M413 237.5h1M415 237.5h1M426 237.5h2M440 237.5h1M446 237.5h2M449 237.5h2M452 237.5h1M459 237.5h1M463 237.5h1M469 237.5h1M471 237.5h1M481 237.5h1M483 237.5h1M485 237.5h1M487 237.5h3M492 237.5h1M495 237.5h1M504 237.5h2M507 237.5h1M510 237.5h3M413 238.5h1M422 238.5h1M433 238.5h1M435 238.5h2M438 238.5h3M448 238.5h1M450 238.5h1M457 238.5h2M460 238.5h2M466 238.5h1M469 238.5h1M471 238.5h1M473 238.5h1M475 238.5h1M480 238.5h1M482 238.5h3M488 238.5h2M496 238.5h1M503 238.5h1M507 238.5h1M512 238.5h1M419 239.5h1M429 239.5h2M439 239.5h1M443 239.5h3M450 239.5h1M452 239.5h2M455 239.5h4M460 239.5h2M468 239.5h2M471 239.5h1M474 239.5h1M476 239.5h1M481 239.5h1M489 239.5h1M492 239.5h1M494 239.5h1M498 239.5h1M503 239.5h2M509 239.5h1M512 239.5h1M421 240.5h1M423 240.5h1M427 240.5h1M430 240.5h1M432 240.5h2M435 240.5h1M438 240.5h1M444 240.5h1M447 240.5h1M449 240.5h1M455 240.5h3M463 240.5h2M466 240.5h1M470 240.5h4M485 240.5h3M498 240.5h1M504 240.5h1M511 240.5h2M407 241.5h1M413 241.5h1M423 241.5h1M430 241.5h2M436 241.5h1M438 241.5h1M440 241.5h1M447 241.5h2M450 241.5h1M453 241.5h1M456 241.5h3M460 241.5h2M465 241.5h5M473 241.5h1M481 241.5h1M485 241.5h2M488 241.5h3M492 241.5h1M494 241.5h1M496 241.5h1M505 241.5h1M508 241.5h2M512 241.5h1M412 242.5h1M414 242.5h1M416 242.5h1M419 242.5h2M430 242.5h1M434 242.5h1M436 242.5h1M441 242.5h3M445 242.5h1M447 242.5h1M450 242.5h1M454 242.5h1M461 242.5h2M464 242.5h3M469 242.5h1M473 242.5h2M476 242.5h2M480 242.5h1M486 242.5h2M491 242.5h1M496 242.5h1M499 242.5h1M501 242.5h3M505 242.5h4M511 242.5h2M403 243.5h1M415 243.5h1M418 243.5h1M422 243.5h1M428 243.5h1M434 243.5h1M439 243.5h3M445 243.5h2M448 243.5h1M451 243.5h1M453 243.5h1M457 243.5h3M462 243.5h1M464 243.5h1M466 243.5h1M468 243.5h3M472 243.5h1M474 243.5h2M477 243.5h4M483 243.5h2M486 243.5h2M490 243.5h2M494 243.5h1M496 243.5h1M500 243.5h5M510 243.5h1M512 243.5h1M410 244.5h1M422 244.5h1M424 244.5h2M429 244.5h1M433 244.5h1M439 244.5h1M441 244.5h1M443 244.5h3M448 244.5h1M451 244.5h1M453 244.5h1M455 244.5h1M458 244.5h2M461 244.5h4M467 244.5h3M472 244.5h2M477 244.5h2M480 244.5h6M488 244.5h1M490 244.5h1M492 244.5h1M494 244.5h2M498 244.5h1M508 244.5h1M512 244.5h1M414 245.5h1M418 245.5h1M422 245.5h1M424 245.5h2M427 245.5h1M430 245.5h1M433 245.5h5M439 245.5h1M441 245.5h1M443 245.5h1M448 245.5h1M451 245.5h2M454 245.5h1M456 245.5h2M459 245.5h3M464 245.5h1M466 245.5h2M469 245.5h11M481 245.5h4M487 245.5h1M493 245.5h2M496 245.5h4M504 245.5h1M509 245.5h1M512 245.5h1M409 246.5h1M416 246.5h3M420 246.5h1M423 246.5h2M426 246.5h1M431 246.5h1M434 246.5h1M436 246.5h1M438 246.5h1M443 246.5h5M449 246.5h2M452 246.5h3M456 246.5h4M461 246.5h2M465 246.5h2M468 246.5h2M472 246.5h2M475 246.5h1M478 246.5h3M482 246.5h1M484 246.5h1M488 246.5h3M497 246.5h1M501 246.5h1M415 247.5h1M417 247.5h1M419 247.5h1M421 247.5h2M424 247.5h1M428 247.5h3M435 247.5h2M438 247.5h3M442 247.5h1M444 247.5h2M447 247.5h5M453 247.5h5M460 247.5h6M467 247.5h7M475 247.5h1M477 247.5h2M481 247.5h1M483 247.5h1M487 247.5h3M495 247.5h2M498 247.5h1M500 247.5h1M502 247.5h1M512 247.5h1M413 248.5h1M415 248.5h1M417 248.5h2M420 248.5h3M428 248.5h1M430 248.5h4M436 248.5h1M438 248.5h2M441 248.5h1M443 248.5h1M445 248.5h1M447 248.5h1M449 248.5h2M453 248.5h8M462 248.5h6M470 248.5h2M473 248.5h3M478 248.5h2M482 248.5h4M487 248.5h1M489 248.5h1M491 248.5h1M497 248.5h3M504 248.5h1M408 249.5h1M410 249.5h2M415 249.5h1M417 249.5h1M420 249.5h6M427 249.5h1M429 249.5h1M432 249.5h2M437 249.5h4M443 249.5h2M446 249.5h3M452 249.5h5M460 249.5h1M462 249.5h2M468 249.5h1M472 249.5h1M474 249.5h4M481 249.5h3M486 249.5h1M490 249.5h1M492 249.5h1M495 249.5h1M412 250.5h1M414 250.5h8M423 250.5h3M427 250.5h5M433 250.5h2M436 250.5h6M443 250.5h2M446 250.5h7M455 250.5h5M461 250.5h1M464 250.5h5M471 250.5h7M483 250.5h3M487 250.5h1M489 250.5h1M491 250.5h1M493 250.5h1M413 251.5h5M421 251.5h1M424 251.5h5M430 251.5h1M432 251.5h1M435 251.5h16M452 251.5h1M454 251.5h9M464 251.5h2M467 251.5h4M472 251.5h3M478 251.5h1M482 251.5h1M499 251.5h1M410 252.5h2M413 252.5h3M417 252.5h3M421 252.5h1M424 252.5h5M430 252.5h7M438 252.5h18M457 252.5h2M460 252.5h7M468 252.5h6M476 252.5h2M479 252.5h2M482 252.5h1M413 253.5h10M424 253.5h10M436 253.5h2M439 253.5h4M444 253.5h3M448 253.5h3M452 253.5h17M470 253.5h3M474 253.5h2M481 253.5h1M485 253.5h1M487 253.5h1M409 254.5h3M413 254.5h3M417 254.5h6M424 254.5h2M427 254.5h3M431 254.5h28M460 254.5h1M462 254.5h2M465 254.5h3M469 254.5h1M471 254.5h1M477 254.5h1M482 254.5h1M410 255.5h1M413 255.5h34M448 255.5h3M456 255.5h1M458 255.5h2M461 255.5h3M465 255.5h3M475 255.5h1M494 255.5h1M411 256.5h5M419 256.5h14M434 256.5h17M452 256.5h1M454 256.5h8M466 256.5h1M469 256.5h1M410 257.5h33M444 257.5h4M449 257.5h2M452 257.5h2M457 257.5h1M459 257.5h1M463 257.5h2M466 257.5h1M481 257.5h1M411 258.5h4M416 258.5h8M425 258.5h4M430 258.5h19M450 258.5h1M452 258.5h1M456 258.5h1M458 258.5h1M460 258.5h1M468 258.5h1M474 258.5h1M479 258.5h1M404 259.5h1M407 259.5h3M411 259.5h12M424 259.5h12M437 259.5h10M448 259.5h2M452 259.5h3M456 259.5h1M462 259.5h1M464 259.5h1M410 260.5h7M418 260.5h28M447 260.5h1M453 260.5h3M461 260.5h1M468 260.5h2M408 261.5h1M411 261.5h2M416 261.5h1M418 261.5h3M423 261.5h21M447 261.5h3M452 261.5h1M454 261.5h1M461 261.5h1M463 261.5h1M467 261.5h1M407 262.5h2M411 262.5h1M413 262.5h18M432 262.5h10M443 262.5h2M446 262.5h1M454 262.5h1M460 262.5h1M473 262.5h1M406 263.5h1M409 263.5h2M413 263.5h16M431 263.5h3M435 263.5h4M445 263.5h1M457 263.5h1M402 264.5h1M406 264.5h10M417 264.5h10M428 264.5h2M431 264.5h2M434 264.5h4M439 264.5h2M452 264.5h1M410 265.5h16M427 265.5h1M430 265.5h1M432 265.5h1M434 265.5h1M438 265.5h2M463 265.5h1M402 266.5h1M406 266.5h1M408 266.5h17M426 266.5h8M435 266.5h3M442 266.5h1M445 266.5h1" opacity="0.8"/><path d="M457 201.5h1M478 204.5h1M461 206.5h1M476 207.5h1M481 207.5h1M481 208.5h1M443 209.5h1M452 209.5h1M508 209.5h1M512 209.5h1M482 210.5h1M489 210.5h1M435 211.5h1M463 211.5h1M484 211.5h1M498 211.5h1M427 212.5h1M431 212.5h1M503 212.5h2M421 213.5h1M426 213.5h1M444 213.5h1M480 213.5h1M428 214.5h1M430 214.5h1M440 214.5h1M450 214.5h2M472 214.5h1M474 214.5h1M495 214.5h1M512 214.5h1M428 215.5h1M440 215.5h1M472 215.5h2M477 215.5h1M481 215.5h1M489 215.5h1M504 215.5h1M422 216.5h1M432 216.5h1M463 216.5h1M476 216.5h1M482 216.5h1M491 216.5h1M444 217.5h1M450 217.5h1M457 217.5h1M473 217.5h1M480 217.5h1M501 217.5h1M512 217.5h1M425 218.5h1M491 218.5h1M501 218.5h1M415 220.5h1M421 220.5h1M473 220.5h1M512 220.5h1M428 221.5h1M467 221.5h1M425 222.5h1M435 222.5h1M462 222.5h1M466 222.5h1M507 222.5h1M460 223.5h1M483 223.5h1M450 224.5h1M458 224.5h1M511 224.5h1M446 225.5h1M451 225.5h2M487 225.5h1M437 226.5h1M447 226.5h1M453 226.5h1M477 226.5h1M483 226.5h1M498 226.5h1M434 227.5h1M466 227.5h1M469 227.5h3M495 227.5h1M502 227.5h1M509 227.5h1M422 228.5h1M429 228.5h1M461 228.5h1M467 228.5h1M470 228.5h1M479 228.5h1M485 228.5h1M488 228.5h1M493 228.5h1M417 229.5h1M424 229.5h1M435 229.5h1M450 229.5h1M454 229.5h1M466 229.5h1M473 229.5h1M475 229.5h1M481 229.5h1M491 229.5h1M503 229.5h1M508 229.5h1M440 230.5h1M445 230.5h1M462 230.5h1M467 230.5h1M475 230.5h1M479 230.5h1M493 230.5h1M512 230.5h1M427 231.5h3M433 231.5h1M451 231.5h2M470 231.5h1M478 231.5h2M506 231.5h1M511 231.5h1M437 232.5h1M445 232.5h1M451 232.5h1M454 232.5h1M461 232.5h1M470 232.5h1M475 232.5h1M478 232.5h1M481 232.5h1M483 232.5h1M487 232.5h1M496 232.5h1M432 233.5h2M443 233.5h1M450 233.5h1M454 233.5h1M470 233.5h1M472 233.5h1M502 233.5h1M419 234.5h1M424 234.5h1M444 234.5h2M465 234.5h1M469 234.5h1M418 235.5h1M441 235.5h1M446 235.5h1M451 235.5h3M471 235.5h1M475 235.5h1M481 235.5h1M491 235.5h1M495 235.5h1M502 235.5h1M508 235.5h1M408 236.5h1M428 236.5h1M440 236.5h1M444 236.5h3M448 236.5h1M451 236.5h1M483 236.5h1M508 236.5h2M437 237.5h1M441 237.5h1M444 237.5h1M451 237.5h1M468 237.5h1M475 237.5h1M478 237.5h1M484 237.5h1M499 237.5h1M502 237.5h1M418 238.5h1M428 238.5h2M431 238.5h2M434 238.5h1M441 238.5h2M453 238.5h1M459 238.5h1M474 238.5h1M481 238.5h1M486 238.5h1M497 238.5h1M500 238.5h1M502 238.5h1M511 238.5h1M422 239.5h1M440 239.5h1M446 239.5h1M448 239.5h1M472 239.5h1M479 239.5h1M488 239.5h1M493 239.5h1M419 240.5h1M434 240.5h1M437 240.5h1M439 240.5h1M442 240.5h2M446 240.5h1M451 240.5h1M458 240.5h1M461 240.5h1M480 240.5h2M496 240.5h1M500 240.5h2M505 240.5h1M510 240.5h1M411 241.5h1M435 241.5h1M444 241.5h1M452 241.5h1M462 241.5h1M470 241.5h1M475 241.5h1M479 241.5h1M493 241.5h1M498 241.5h1M503 241.5h1M510 241.5h2M410 242.5h1M423 242.5h1M437 242.5h1M440 242.5h1M455 242.5h1M458 242.5h1M460 242.5h1M471 242.5h2M475 242.5h1M478 242.5h2M481 242.5h1M483 242.5h1M485 242.5h1M489 242.5h2M492 242.5h1M497 242.5h1M504 242.5h1M432 243.5h2M436 243.5h1M444 243.5h1M449 243.5h1M473 243.5h1M481 243.5h2M485 243.5h1M489 243.5h1M506 243.5h1M420 244.5h2M431 244.5h1M438 244.5h1M442 244.5h1M447 244.5h1M452 244.5h1M456 244.5h1M460 244.5h1M486 244.5h1M491 244.5h1M493 244.5h1M500 244.5h1M502 244.5h1M504 244.5h1M507 244.5h1M413 245.5h1M426 245.5h1M438 245.5h1M449 245.5h1M453 245.5h1M455 245.5h1M480 245.5h1M486 245.5h1M488 245.5h1M491 245.5h2M506 245.5h2M415 246.5h1M422 246.5h1M439 246.5h4M448 246.5h1M455 246.5h1M460 246.5h1M463 246.5h1M467 246.5h1M470 246.5h1M474 246.5h1M487 246.5h1M493 246.5h1M498 246.5h3M504 246.5h1M512 246.5h1M425 247.5h1M427 247.5h1M433 247.5h2M446 247.5h1M474 247.5h1M479 247.5h2M484 247.5h1M491 247.5h3M408 248.5h1M412 248.5h1M414 248.5h1M426 248.5h1M429 248.5h1M437 248.5h1M442 248.5h1M444 248.5h1M446 248.5h1M452 248.5h1M468 248.5h1M472 248.5h1M480 248.5h1M490 248.5h1M494 248.5h1M512 248.5h1M426 249.5h1M428 249.5h1M430 249.5h2M434 249.5h1M436 249.5h1M441 249.5h2M451 249.5h1M459 249.5h1M464 249.5h1M467 249.5h1M470 249.5h2M479 249.5h2M485 249.5h1M488 249.5h1M493 249.5h1M500 249.5h1M407 250.5h1M409 250.5h1M422 250.5h1M432 250.5h1M442 250.5h1M445 250.5h1M453 250.5h2M460 250.5h1M462 250.5h1M478 250.5h1M481 250.5h1M488 250.5h1M490 250.5h1M411 251.5h2M419 251.5h1M422 251.5h1M433 251.5h2M471 251.5h1M475 251.5h2M407 252.5h1M416 252.5h1M420 252.5h1M422 252.5h2M437 252.5h1M456 252.5h1M474 252.5h2M402 253.5h1M411 253.5h2M423 253.5h1M434 253.5h1M438 253.5h1M443 253.5h1M447 253.5h1M451 253.5h1M469 253.5h1M416 254.5h1M426 254.5h1M430 254.5h1M459 254.5h1M473 254.5h1M476 254.5h1M411 255.5h1M447 255.5h1M451 255.5h3M455 255.5h1M469 255.5h1M409 256.5h1M416 256.5h1M418 256.5h1M433 256.5h1M453 256.5h1M465 256.5h1M468 256.5h1M475 256.5h3M407 257.5h1M409 257.5h1M443 257.5h1M454 257.5h1M461 257.5h2M467 257.5h1M471 257.5h1M479 257.5h1M409 258.5h2M424 258.5h1M429 258.5h1M449 258.5h1M451 258.5h1M459 258.5h1M463 258.5h1M423 259.5h1M436 259.5h1M447 259.5h1M450 259.5h1M455 259.5h1M458 259.5h1M417 260.5h1M446 260.5h1M448 260.5h1M463 260.5h1M407 261.5h1M410 261.5h1M413 261.5h2M417 261.5h1M421 261.5h2M444 261.5h3M431 262.5h1M447 262.5h1M449 262.5h1M402 263.5h1M411 263.5h1M429 263.5h2M434 263.5h1M439 263.5h1M441 263.5h1M416 264.5h1M430 264.5h1M433 264.5h1M438 264.5h1M456 264.5h1M463 264.5h1M426 265.5h1M431 265.5h1M433 265.5h1M436 265.5h1M440 265.5h1M443 265.5h1M425 266.5h1M438 266.5h1" opacity="0.44"/></g>
<ellipse cx="424.1" cy="262.3" rx="16" ry="4.6" transform="rotate(-19 424.1 262.3)" fill="#969696" filter="url(#coreblur)"/>
<line x1="400.6" x2="513.1" y1="223.5" y2="223.5" stroke="#2a2a2a" stroke-width="1"/>
<line x1="399.8" x2="513.6" y1="168.5" y2="168.5" stroke="#4a4a4a" stroke-width="1.2"/>
<line x1="513.1" x2="513.1" y1="168.5" y2="268.5" stroke="#222" stroke-width="1"/>
<line x1="399.8" x2="513.1" y1="268" y2="268" stroke="#222" stroke-width="1"/>
<line x1="401.3" x2="401.3" y1="168.5" y2="268.5" stroke="#111" stroke-width="1.5"/>
<path d="M400.8 268h-2.9M400.8 260.51h-1.2M400.8 256.13h-1.2M400.8 253.02h-1.2M400.8 250.61h-1.2M400.8 248.64h-1.2M400.8 246.98h-1.2M400.8 245.54h-1.2M400.8 244.26h-1.2M400.8 243.12h-2.9M400.8 235.64h-1.2M400.8 231.26h-1.2M400.8 228.15h-1.2M400.8 225.74h-1.2M400.8 223.77h-1.2M400.8 222.1h-1.2M400.8 220.66h-1.2M400.8 219.39h-1.2M400.8 218.25h-2.9M400.8 210.76h-1.2M400.8 206.38h-1.2M400.8 203.27h-1.2M400.8 200.86h-1.2M400.8 198.89h-1.2M400.8 197.23h-1.2M400.8 195.79h-1.2M400.8 194.51h-1.2M400.8 193.38h-2.9M400.8 185.89h-1.2M400.8 181.51h-1.2M400.8 178.4h-1.2M400.8 175.99h-1.2M400.8 174.02h-1.2M400.8 172.35h-1.2M400.8 170.91h-1.2M400.8 169.64h-1.2M400.8 168.5h-2.9" stroke="#222" stroke-width="0.8" fill="none"/>
<path d="M401.85 268.3v2.6M407.26 268.3v1.3M412.67 268.3v1.3M418.07 268.3v1.3M423.48 268.3v2.6M428.89 268.3v1.3M434.3 268.3v1.3M439.7 268.3v1.3M445.11 268.3v2.6M450.52 268.3v1.3M455.93 268.3v1.3M461.33 268.3v1.3M466.74 268.3v2.6M472.15 268.3v1.3M477.56 268.3v1.3M482.96 268.3v1.3M488.37 268.3v2.6M493.78 268.3v1.3M499.19 268.3v1.3M504.59 268.3v1.3M510 268.3v2.6" stroke="#222" stroke-width="0.8" fill="none"/>
<text transform="translate(401.2 282.8) scale(0.9 1)" font-size="9.6" stroke="#111" stroke-width="0.15" text-anchor="middle">0</text>
<text transform="translate(420.5 282.8) scale(0.9 1)" font-size="9.6" stroke="#111" stroke-width="0.15" text-anchor="middle">200</text>
<text transform="translate(441.8 282.8) scale(0.9 1)" font-size="9.6" stroke="#111" stroke-width="0.15" text-anchor="middle">400</text>
<text transform="translate(463.7 282.8) scale(0.9 1)" font-size="9.6" stroke="#111" stroke-width="0.15" text-anchor="middle">600</text>
<text transform="translate(485.2 282.8) scale(0.9 1)" font-size="9.6" stroke="#111" stroke-width="0.15" text-anchor="middle">800</text>
<text transform="translate(509.1 282.8) scale(0.9 1)" font-size="9.6" stroke="#111" stroke-width="0.15" text-anchor="middle">1000</text>
<text transform="translate(455.6 292.7) scale(0.92 1)" font-size="9.3" stroke="#111" stroke-width="0.15" text-anchor="middle">Side Scatter</text>
<text transform="translate(393.6 269.5) rotate(-90) scale(1.03 1)" font-size="8.4" stroke="#111" stroke-width="0.15">10<tspan dy="-2.6" font-size="5.6">0</tspan></text>
<text transform="translate(393.6 247.8) rotate(-90) scale(1.03 1)" font-size="8.4" stroke="#111" stroke-width="0.15">10<tspan dy="-2.6" font-size="5.6">1</tspan></text>
<text transform="translate(393.6 224.8) rotate(-90) scale(1.03 1)" font-size="8.4" stroke="#111" stroke-width="0.15">10<tspan dy="-2.6" font-size="5.6">2</tspan></text>
<text transform="translate(393.6 199.9) rotate(-90) scale(1.03 1)" font-size="8.4" stroke="#111" stroke-width="0.15">10<tspan dy="-2.6" font-size="5.6">3</tspan></text>
<text transform="translate(393.6 175.75) rotate(-90) scale(1.03 1)" font-size="8.4" stroke="#111" stroke-width="0.15">10<tspan dy="-2.6" font-size="5.6">4</tspan></text>
<text transform="translate(383.2 217.8) rotate(-90) scale(0.95 1)" font-size="8" stroke="#111" stroke-width="0.15" text-anchor="middle">Propidium Iodide</text>
<text x="370.8" y="177.4" font-family='"Liberation Sans", sans-serif' font-weight="bold" font-size="18.7" stroke="#111" stroke-width="0.5">F</text>
<text transform="translate(510.6 183.4) scale(0.98 1)" font-weight="bold" font-style="italic" font-size="16.8" stroke="#111" stroke-width="0.45" stroke-linejoin="round" text-anchor="end">%</text><text transform="translate(494.9 183.4) scale(1.02 1)" font-weight="bold" font-size="17.4" stroke="#111" stroke-width="0.45" stroke-linejoin="round" text-anchor="end">2</text>
<text transform="translate(512 264.8) scale(0.98 1)" font-weight="bold" font-style="italic" font-size="16.8" stroke="#111" stroke-width="0.45" stroke-linejoin="round" text-anchor="end">%</text><text transform="translate(496.8 264.8) scale(1.02 1)" font-weight="bold" font-size="17.4" stroke="#111" stroke-width="0.45" stroke-linejoin="round" text-anchor="end">98</text>
</g>
</svg></body></html>
